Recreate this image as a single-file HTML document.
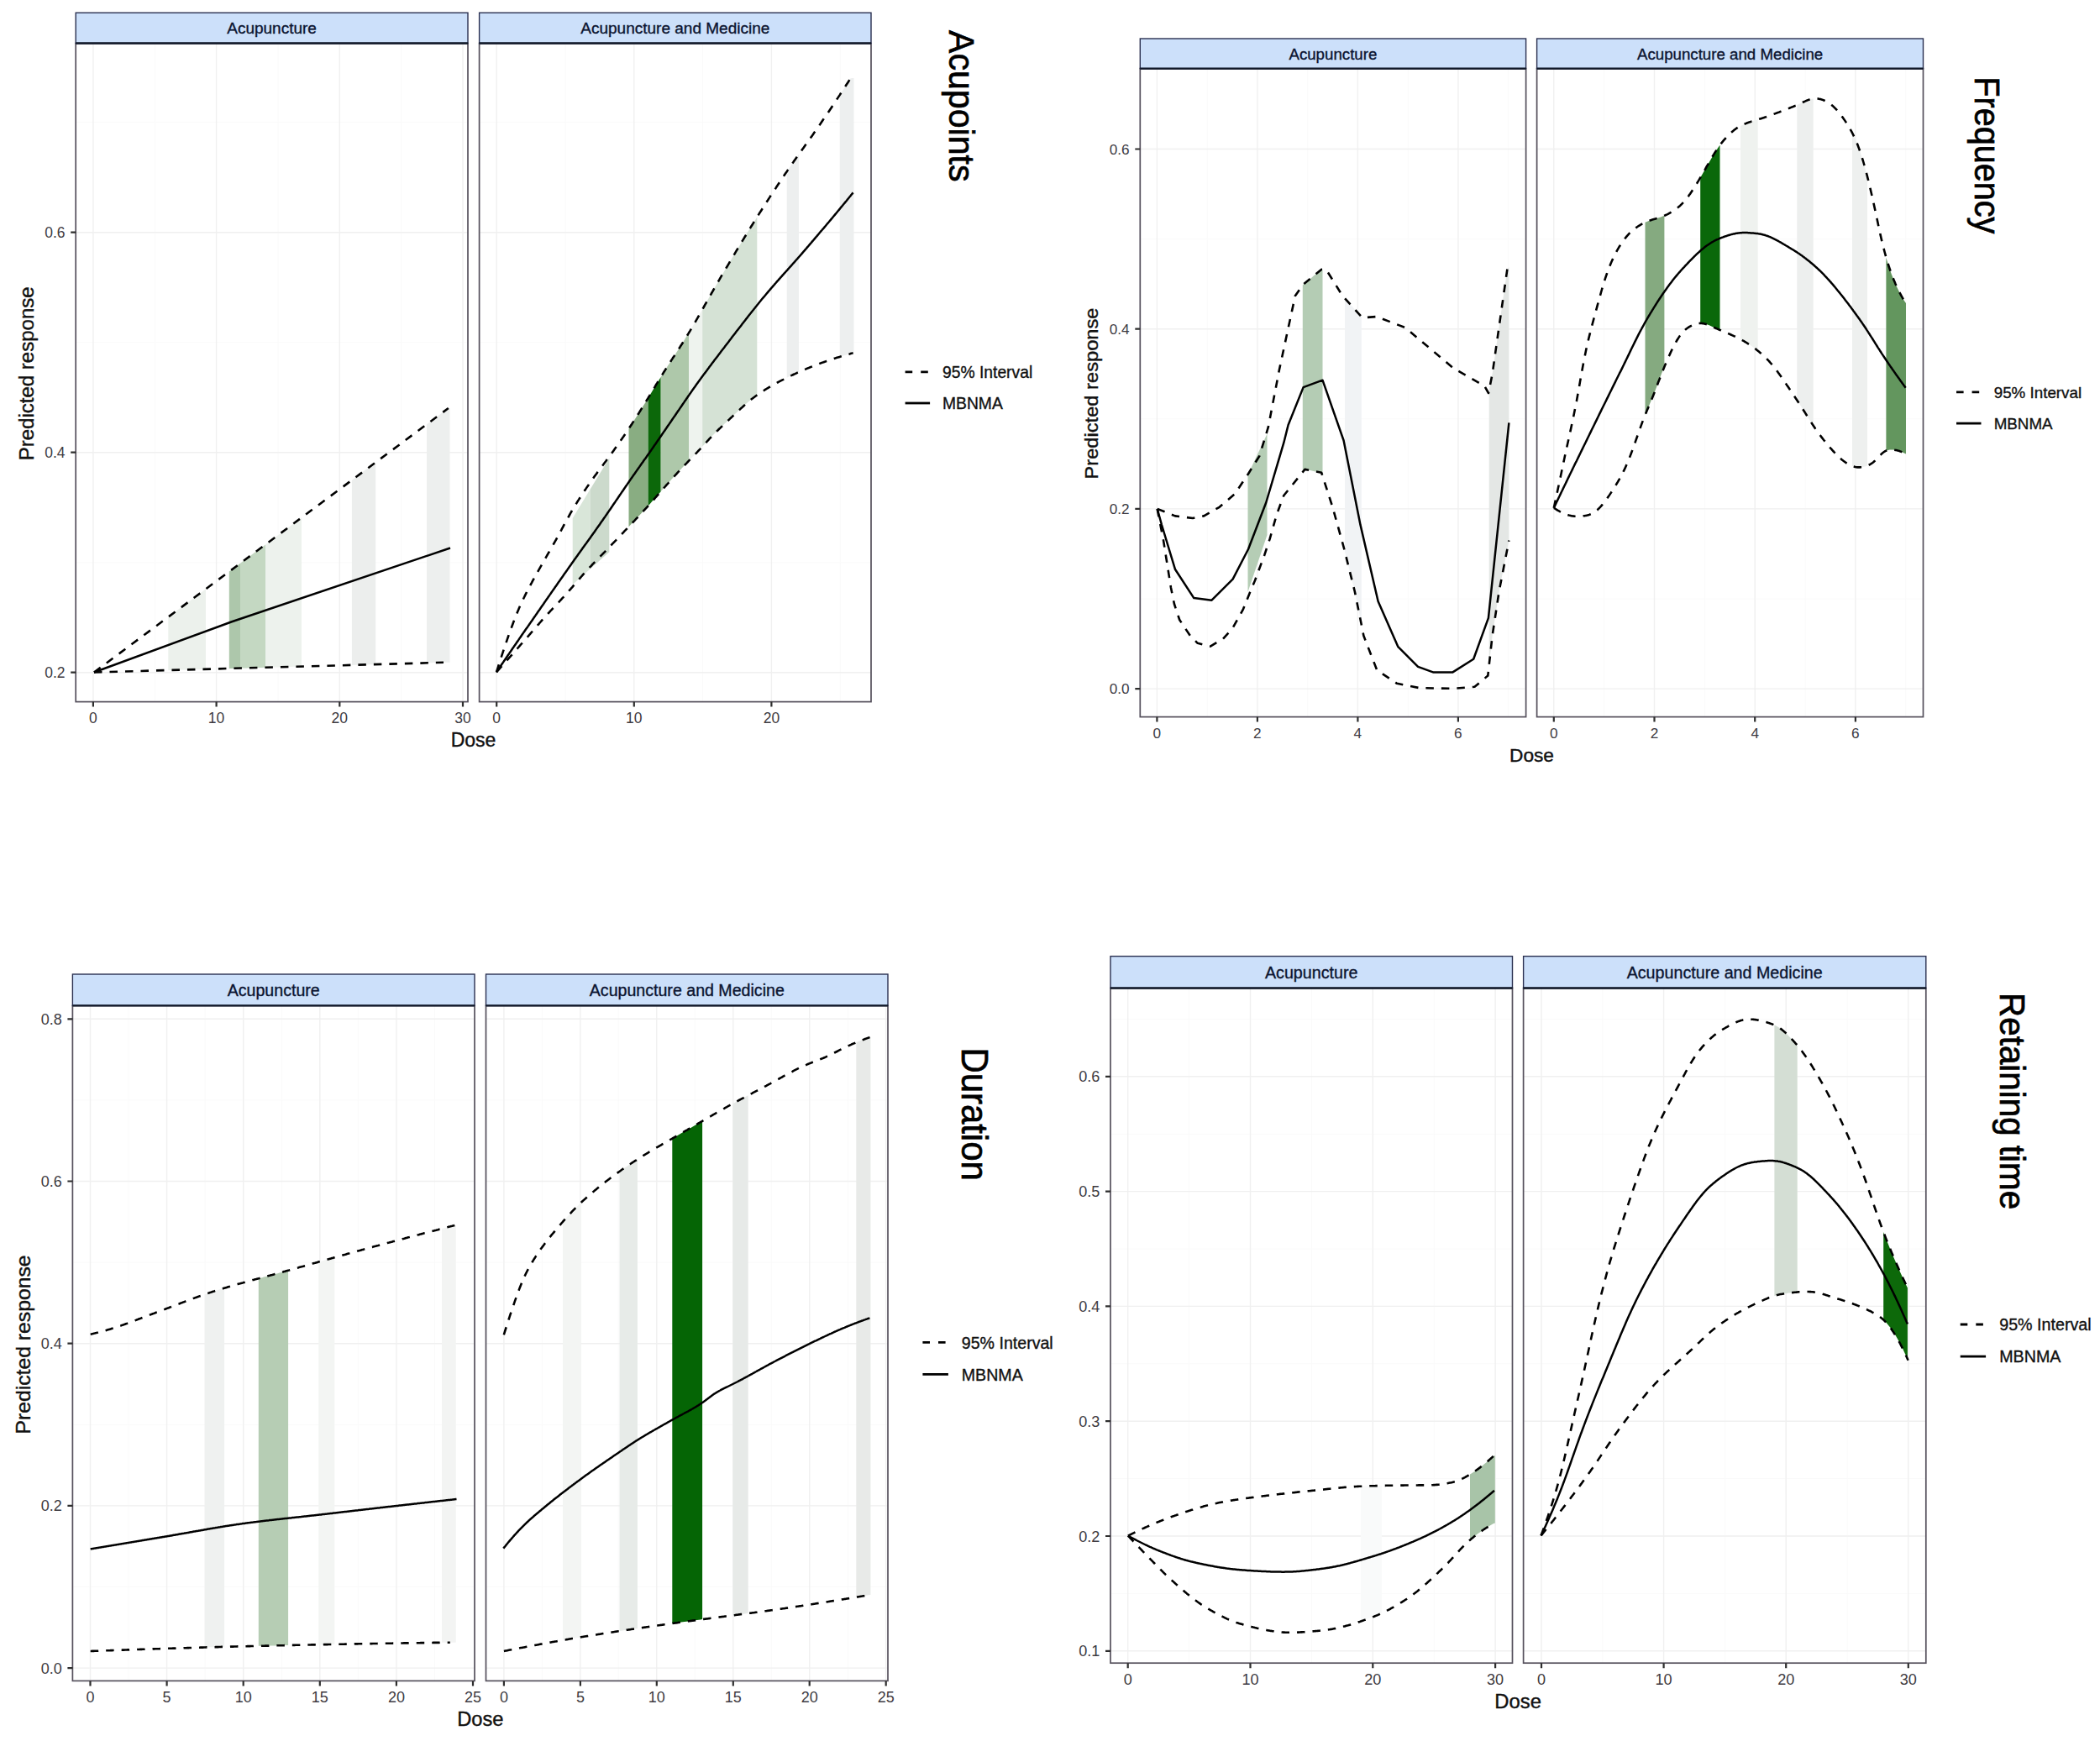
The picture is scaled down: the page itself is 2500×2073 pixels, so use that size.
<!DOCTYPE html>
<html><head><meta charset="utf-8"><title>MBNMA dose-response plots</title>
<style>html,body{margin:0;padding:0;background:#fff;}svg{display:block;}</style>
</head><body>
<svg width="2500" height="2073" viewBox="0 0 2500 2073" font-family='"Liberation Sans", Arial, Helvetica, sans-serif'>
<rect width="2500" height="2073" fill="#fff"/>
<clipPath id="tl_0"><rect x="90.2" y="51.5" width="466.8" height="784.1"/></clipPath>
<g clip-path="url(#tl_0)">
<path d="M184.2 51.5V835.6M331 51.5V835.6M477.6 51.5V835.6M90.2 669.7H557M90.2 407.7H557M90.2 145.7H557" stroke="#fafafa" stroke-width="1" fill="none"/>
<path d="M110.9 51.5V835.6M257.6 51.5V835.6M404.3 51.5V835.6M551 51.5V835.6M90.2 800.7H557M90.2 538.7H557M90.2 276.7H557" stroke="#f0f0f0" stroke-width="1.4" fill="none"/>
<polygon points="200.3,734.7 202.3,733.1 204.4,731.6 206.4,730.1 208.4,728.6 210.5,727.1 212.5,725.6 214.5,724.1 216.6,722.5 218.6,721 220.6,719.5 222.7,718 224.7,716.5 226.7,715 228.7,713.5 230.8,711.9 232.8,710.4 234.8,708.9 236.9,707.4 238.9,705.9 240.9,704.4 243,702.8 245,701.3 245,796.8 243,796.8 240.9,796.9 238.9,796.9 236.9,797 234.8,797 232.8,797.1 230.8,797.2 228.7,797.2 226.7,797.3 224.7,797.3 222.7,797.4 220.6,797.4 218.6,797.5 216.6,797.6 214.5,797.6 212.5,797.7 210.5,797.7 208.4,797.8 206.4,797.8 204.4,797.9 202.3,798 200.3,798" fill="#ecf1ec"/>
<polygon points="272.8,680.6 275,679 277.2,677.3 279.4,675.7 281.6,674 283.8,672.4 286,670.8 286,795.6 283.8,795.7 281.6,795.7 279.4,795.8 277.2,795.9 275,795.9 272.8,796" fill="#adc7ab"/>
<polygon points="286,670.8 288,669.3 290,667.8 292,666.3 294,664.8 296,663.3 298,661.8 300,660.3 302,658.8 304,657.3 306,655.9 308,654.4 310,652.9 312,651.4 314,649.9 316,648.4 316,794.8 314,794.8 312,794.9 310,794.9 308,795 306,795 304,795.1 302,795.2 300,795.2 298,795.3 296,795.3 294,795.4 292,795.4 290,795.5 288,795.5 286,795.6" fill="#c4d8c2"/>
<polygon points="316,648.4 318,646.9 320.1,645.3 322.1,643.8 324.2,642.3 326.2,640.8 328.3,639.2 330.3,637.7 332.4,636.2 334.4,634.7 336.5,633.1 338.5,631.6 340.6,630.1 342.6,628.5 344.7,627 346.7,625.5 348.8,624 350.8,622.4 352.9,620.9 354.9,619.4 357,617.9 359,616.3 359,793.6 357,793.6 354.9,793.7 352.9,793.7 350.8,793.8 348.8,793.8 346.7,793.9 344.7,794 342.6,794 340.6,794.1 338.5,794.1 336.5,794.2 334.4,794.2 332.4,794.3 330.3,794.4 328.3,794.4 326.2,794.5 324.2,794.5 322.1,794.6 320.1,794.6 318,794.7 316,794.8" fill="#edf2ed"/>
<polygon points="418.9,571.7 420.9,570.2 422.9,568.7 425,567.1 427,565.6 429,564.1 431,562.6 433,561.1 435.1,559.6 437.1,558.1 439.1,556.6 441.1,555.1 443.2,553.6 445.2,552.1 447.2,550.6 447.2,791.1 445.2,791.1 443.2,791.2 441.1,791.2 439.1,791.3 437.1,791.4 435.1,791.4 433,791.5 431,791.5 429,791.6 427,791.6 425,791.7 422.9,791.8 420.9,791.8 418.9,791.9" fill="#eceeed"/>
<polygon points="508,505.2 510.1,503.7 512.2,502.1 514.3,500.5 516.5,498.9 518.6,497.4 520.7,495.8 522.8,494.2 524.9,492.6 527,491 529.2,489.5 531.3,487.9 533.4,486.3 535.5,486 535.5,788.8 533.4,788.8 531.3,788.8 529.2,788.8 527,788.8 524.9,788.9 522.8,788.9 520.7,789 518.6,789.1 516.5,789.1 514.3,789.2 512.2,789.2 510.1,789.3 508,789.4" fill="#edefee"/>
<polyline points="112,800.5 533.8,486" fill="none" stroke="#000" stroke-width="2.6" stroke-dasharray="9.5 9" stroke-linejoin="round"/>
<polyline points="112,800.5 528,788.8" fill="none" stroke="#000" stroke-width="2.6" stroke-dasharray="9.5 9" stroke-linejoin="round"/>
<polyline points="112,800.5 275.3,740.5 536,652.5" fill="none" stroke="#000" stroke-width="2.5" stroke-linejoin="round"/>
</g>
<rect x="90.2" y="51.5" width="466.8" height="784.1" fill="none" stroke="#55505c" stroke-width="1.7"/>
<rect x="90.2" y="15.2" width="466.8" height="36.3" fill="#cce0fa" stroke="#2a3050" stroke-width="1.4"/>
<path d="M90.2 51.5H557" stroke="#101828" stroke-width="2.3"/>
<text x="323.6" y="40.2" font-size="19" text-anchor="middle" fill="#0b1430" stroke="#0b1430" stroke-width="0.35">Acupuncture</text>
<text x="110.9" y="860.9" font-size="17.5" text-anchor="middle" fill="#3e3b42">0</text>
<text x="257.6" y="860.9" font-size="17.5" text-anchor="middle" fill="#3e3b42">10</text>
<text x="404.3" y="860.9" font-size="17.5" text-anchor="middle" fill="#3e3b42">20</text>
<text x="551" y="860.9" font-size="17.5" text-anchor="middle" fill="#3e3b42">30</text>
<path d="M110.9 835.6v6M257.6 835.6v6M404.3 835.6v6M551 835.6v6" stroke="#2e2e2e" stroke-width="2.2"/>
<text x="77.6" y="807" font-size="17.5" text-anchor="end" fill="#3e3b42">0.2</text>
<text x="77.6" y="545" font-size="17.5" text-anchor="end" fill="#3e3b42">0.4</text>
<text x="77.6" y="283" font-size="17.5" text-anchor="end" fill="#3e3b42">0.6</text>
<path d="M90.2 800.7h-6M90.2 538.7h-6M90.2 276.7h-6" stroke="#2e2e2e" stroke-width="2.2"/>
<clipPath id="tl_1"><rect x="570.6" y="51.5" width="466.4" height="784.1"/></clipPath>
<g clip-path="url(#tl_1)">
<path d="M673 51.5V835.6M836.6 51.5V835.6M1000.2 51.5V835.6M570.6 669.7H1037M570.6 407.7H1037M570.6 145.7H1037" stroke="#fafafa" stroke-width="1" fill="none"/>
<path d="M591.2 51.5V835.6M754.8 51.5V835.6M918.4 51.5V835.6M570.6 800.7H1037M570.6 538.7H1037M570.6 276.7H1037" stroke="#f0f0f0" stroke-width="1.4" fill="none"/>
<polygon points="681.7,617 702.5,582.8 702.5,677.5 681.7,696" fill="#d9e6d9"/>
<polygon points="702.5,582.8 725.3,545.4 725.3,657.2 702.5,677.5" fill="#ccdacc"/>
<polygon points="748.5,510.4 750.6,507.2 752.7,504 754.8,500.8 756.9,497.5 759,494.2 761.1,490.9 763.2,487.5 765.3,484.1 767.4,480.7 769.5,477.3 771.6,473.9 771.6,602.3 769.5,604.6 767.4,607 765.3,609.3 763.2,611.5 761.1,613.8 759,616.1 756.9,618.3 754.8,620.5 752.7,622.7 750.6,625 748.5,627.2" fill="#89ad82"/>
<polygon points="771.6,473.9 773.8,470.3 775.9,466.7 778.1,463.1 780.2,459.5 782.4,456 784.5,452.4 786.7,448.9 786.7,585.2 784.5,587.7 782.4,590.1 780.2,592.6 778.1,595 775.9,597.4 773.8,599.9 771.6,602.3" fill="#0c680a"/>
<polygon points="786.7,448.9 788.8,445.5 790.9,442.2 792.9,438.9 795,435.6 797.1,432.4 799.2,429.2 801.3,426 803.4,422.7 805.4,419.5 807.5,416.3 809.6,413 811.7,409.8 813.8,406.5 815.8,403.1 817.9,399.8 820,396.4 820,548.8 817.9,550.9 815.8,553.1 813.8,555.3 811.7,557.5 809.6,559.7 807.5,561.9 805.4,564.2 803.4,566.4 801.3,568.8 799.2,571.1 797.1,573.4 795,575.8 792.9,578.1 790.9,580.5 788.8,582.8 786.7,585.2" fill="#aec8aa"/>
<polygon points="820,396.4 822,393 824,389.6 826.1,386.1 828.1,382.6 830.1,379.1 832.2,375.6 834.2,372 836.2,368.4 836.2,531.6 834.2,533.8 832.2,536 830.1,538.2 828.1,540.4 826.1,542.5 824,544.6 822,546.7 820,548.8" fill="#eef3ee"/>
<polygon points="836.2,368.4 838.2,364.8 840.3,361.2 842.3,357.6 844.3,354 846.4,350.4 848.4,346.8 850.4,343.3 852.5,339.7 854.5,336.2 856.5,332.7 858.6,329.2 860.6,325.7 862.6,322.2 864.7,318.8 866.7,315.3 868.8,311.9 870.8,308.5 872.8,305 874.9,301.6 876.9,298.2 878.9,294.8 881,291.5 883,288.1 885,284.7 887.1,281.4 889.1,278.1 891.1,274.8 893.2,271.5 895.2,268.2 897.2,264.9 899.3,261.7 901.3,258.4 901.3,470.4 899.3,471.8 897.2,473.4 895.2,475 893.2,476.6 891.1,478.3 889.1,480 887.1,481.8 885,483.6 883,485.5 881,487.4 878.9,489.3 876.9,491.2 874.9,493.1 872.8,495 870.8,496.9 868.8,498.9 866.7,500.8 864.7,502.7 862.6,504.6 860.6,506.5 858.6,508.4 856.5,510.4 854.5,512.3 852.5,514.3 850.4,516.4 848.4,518.5 846.4,520.6 844.3,522.7 842.3,524.9 840.3,527.2 838.2,529.4 836.2,531.6" fill="#d5e2d5"/>
<polygon points="936.7,204.2 938.7,201.2 940.8,198.2 942.8,195.3 944.9,192.4 946.9,189.5 949,186.6 951,183.7 951,443 949,444 946.9,444.9 944.9,445.8 942.8,446.8 940.8,447.8 938.7,448.7 936.7,449.7" fill="#edefef"/>
<polygon points="999.8,112.9 1001.9,109.7 1004,106.5 1006.1,103.3 1008.1,100 1010.2,96.8 1012.3,93.6 1014.4,93 1016.5,93 1016.5,420.3 1014.4,420.6 1012.3,421.2 1010.2,421.8 1008.1,422.4 1006.1,422.9 1004,423.5 1001.9,424.2 999.8,424.8" fill="#edefef"/>
<polyline points="591,800.3 592,797.2 593,794.1 594,790.9 595,787.8 596,784.8 597,781.7 598,778.7 599,775.6 600,772.6 601,769.7 602,766.7 603,763.8 604,760.9 605,758 606,755.2 607,752.4 608,749.6 609,746.9 610,744.2 611,741.5 612,738.9 613,736.3 614,733.8 615,731.3 616,728.8 617,726.4 618,724.1 619,721.8 620,719.5 621,717.3 622.1,715.2 623.1,713 624.1,711 625.1,708.9 626.1,706.9 627.1,704.9 628.1,703 629.1,701.1 630.1,699.2 631.1,697.3 632.1,695.4 633.1,693.6 634.1,691.7 635.1,689.9 636.1,688.1 637.1,686.3 638.1,684.5 639.1,682.7 640.1,680.9 641.1,679.2 642.1,677.4 643.1,675.6 644.1,673.9 645.1,672.1 646.1,670.4 647.1,668.6 648.1,666.9 649.1,665.1 650.1,663.4 651.1,661.7 652.1,659.9 653.1,658.2 654.1,656.5 655.1,654.7 656.1,653 657.1,651.2 658.1,649.4 659.1,647.7 660.1,645.9 661.1,644.1 662.1,642.3 663.1,640.5 664.1,638.7 665.1,636.8 666.1,635 667.1,633.1 668.1,631.3 669.1,629.4 670.1,627.6 671.1,625.7 672.1,623.9 673.1,622.1 674.1,620.2 675.1,618.4 676.1,616.6 677.1,614.8 678.1,613 679.1,611.2 680.1,609.5 681.1,607.7 682.2,606 683.2,604.3 684.2,602.7 685.2,601 686.2,599.4 687.2,597.7 688.2,596.1 689.2,594.6 690.2,593 691.2,591.4 692.2,589.9 693.2,588.4 694.2,586.8 695.2,585.3 696.2,583.8 697.2,582.4 698.2,580.9 699.2,579.4 700.2,578 701.2,576.5 702.2,575.1 703.2,573.7 704.2,572.2 705.2,570.8 706.2,569.4 707.2,568 708.2,566.6 709.2,565.3 710.2,563.9 711.2,562.5 712.2,561.2 713.2,559.8 714.2,558.5 715.2,557.2 716.2,555.8 717.2,554.5 718.2,553.2 719.2,551.8 720.2,550.5 721.2,549.2 722.2,547.8 723.2,546.5 724.2,545.1 725.2,543.8 726.2,542.4 727.2,541.1 728.2,539.7 729.2,538.3 730.2,536.9 731.2,535.5 732.2,534.1 733.2,532.7 734.2,531.3 735.2,529.9 736.2,528.4 737.2,527 738.2,525.6 739.2,524.1 740.2,522.7 741.2,521.2 742.3,519.7 743.3,518.2 744.3,516.8 745.3,515.3 746.3,513.8 747.3,512.3 748.3,510.8 749.3,509.2 750.3,507.7 751.3,506.2 752.3,504.7 753.3,503.1 754.3,501.6 755.3,500 756.3,498.5 757.3,496.9 758.3,495.3 759.3,493.7 760.3,492.2 761.3,490.6 762.3,489 763.3,487.4 764.3,485.8 765.3,484.2 766.3,482.5 767.3,480.9 768.3,479.3 769.3,477.7 770.3,476 771.3,474.4 772.3,472.7 773.3,471.1 774.3,469.4 775.3,467.7 776.3,466.1 777.3,464.4 778.3,462.7 779.3,461.1 780.3,459.4 781.3,457.7 782.3,456.1 783.3,454.4 784.3,452.8 785.3,451.1 786.3,449.5 787.3,447.9 788.3,446.3 789.3,444.6 790.3,443 791.3,441.5 792.3,439.9 793.3,438.3 794.3,436.7 795.3,435.2 796.3,433.6 797.3,432 798.3,430.5 799.3,428.9 800.3,427.4 801.3,425.8 802.4,424.3 803.4,422.7 804.4,421.2 805.4,419.6 806.4,418.1 807.4,416.5 808.4,415 809.4,413.4 810.4,411.8 811.4,410.3 812.4,408.7 813.4,407.1 814.4,405.5 815.4,403.9 816.4,402.3 817.4,400.7 818.4,399 819.4,397.4 820.4,395.7 821.4,394.1 822.4,392.4 823.4,390.7 824.4,389 825.4,387.3 826.4,385.6 827.4,383.9 828.4,382.1 829.4,380.4 830.4,378.7 831.4,376.9 832.4,375.1 833.4,373.4 834.4,371.6 835.4,369.8 836.4,368.1 837.4,366.3 838.4,364.5 839.4,362.7 840.4,361 841.4,359.2 842.4,357.4 843.4,355.6 844.4,353.8 845.4,352.1 846.4,350.3 847.4,348.5 848.4,346.8 849.4,345 850.4,343.3 851.4,341.5 852.4,339.8 853.4,338 854.4,336.3 855.4,334.6 856.4,332.9 857.4,331.1 858.4,329.4 859.4,327.7 860.4,326 861.4,324.3 862.5,322.6 863.5,320.9 864.5,319.2 865.5,317.5 866.5,315.8 867.5,314.1 868.5,312.4 869.5,310.7 870.5,309 871.5,307.3 872.5,305.6 873.5,304 874.5,302.3 875.5,300.6 876.5,298.9 877.5,297.3 878.5,295.6 879.5,293.9 880.5,292.3 881.5,290.6 882.5,288.9 883.5,287.3 884.5,285.6 885.5,284 886.5,282.3 887.5,280.7 888.5,279.1 889.5,277.4 890.5,275.8 891.5,274.2 892.5,272.5 893.5,270.9 894.5,269.3 895.5,267.7 896.5,266.1 897.5,264.5 898.5,262.9 899.5,261.3 900.5,259.7 901.5,258.1 902.5,256.5 903.5,254.9 904.5,253.3 905.5,251.8 906.5,250.2 907.5,248.6 908.5,247 909.5,245.5 910.5,243.9 911.5,242.4 912.5,240.8 913.5,239.2 914.5,237.7 915.5,236.1 916.5,234.6 917.5,233 918.5,231.5 919.5,230 920.5,228.4 921.5,226.9 922.6,225.4 923.6,223.9 924.6,222.3 925.6,220.8 926.6,219.3 927.6,217.8 928.6,216.3 929.6,214.8 930.6,213.3 931.6,211.8 932.6,210.3 933.6,208.8 934.6,207.3 935.6,205.8 936.6,204.4 937.6,202.9 938.6,201.4 939.6,200 940.6,198.5 941.6,197.1 942.6,195.6 943.6,194.2 944.6,192.8 945.6,191.3 946.6,189.9 947.6,188.5 948.6,187.1 949.6,185.7 950.6,184.3 951.6,182.9 952.6,181.5 953.6,180.1 954.6,178.7 955.6,177.3 956.6,175.9 957.6,174.5 958.6,173.1 959.6,171.7 960.6,170.3 961.6,168.9 962.6,167.5 963.6,166.1 964.6,164.7 965.6,163.3 966.6,161.9 967.6,160.5 968.6,159 969.6,157.6 970.6,156.2 971.6,154.7 972.6,153.3 973.6,151.8 974.6,150.4 975.6,148.9 976.6,147.5 977.6,146 978.6,144.5 979.6,143 980.6,141.6 981.6,140.1 982.7,138.6 983.7,137.1 984.7,135.7 985.7,134.2 986.7,132.7 987.7,131.2 988.7,129.7 989.7,128.2 990.7,126.7 991.7,125.2 992.7,123.7 993.7,122.2 994.7,120.7 995.7,119.1 996.7,117.6 997.7,116.1 998.7,114.6 999.7,113.1 1000.7,111.5 1001.7,110 1002.7,108.5 1003.7,106.9 1004.7,105.4 1005.7,103.8 1006.7,102.3 1007.7,100.7 1008.7,99.2 1009.7,97.7 1010.7,96.1 1011.7,94.6 1012.7,93" fill="none" stroke="#000" stroke-width="2.6" stroke-dasharray="9.5 9" stroke-linejoin="round"/>
<polyline points="591,800.3 592,799.2 593,798.1 594,796.9 595,795.8 596,794.7 597,793.6 598,792.5 599,791.3 600,790.2 601,789.1 602,788 603,786.8 604,785.7 605,784.6 606,783.4 607,782.3 608,781.2 609,780.1 610,778.9 611,777.8 612,776.7 613,775.5 614,774.4 615,773.2 616,772.1 617,771 618,769.8 619,768.7 620,767.5 621,766.4 622,765.2 623,764.1 624,762.9 625,761.8 626,760.6 627.1,759.5 628.1,758.3 629.1,757.2 630.1,756 631.1,754.8 632.1,753.7 633.1,752.5 634.1,751.4 635.1,750.2 636.1,749 637.1,747.9 638.1,746.7 639.1,745.6 640.1,744.4 641.1,743.3 642.1,742.1 643.1,741 644.1,739.9 645.1,738.7 646.1,737.6 647.1,736.5 648.1,735.4 649.1,734.3 650.1,733.2 651.1,732.1 652.1,731 653.1,729.9 654.1,728.8 655.1,727.7 656.1,726.7 657.1,725.6 658.1,724.5 659.1,723.5 660.1,722.4 661.1,721.3 662.1,720.3 663.1,719.2 664.1,718.1 665.1,717.1 666.1,716 667.1,714.9 668.1,713.8 669.1,712.7 670.1,711.7 671.1,710.6 672.1,709.5 673.1,708.4 674.1,707.2 675.1,706.1 676.1,705 677.1,703.9 678.1,702.7 679.1,701.6 680.1,700.4 681.1,699.3 682.1,698.1 683.1,696.9 684.1,695.8 685.1,694.6 686.1,693.5 687.1,692.3 688.1,691.1 689.1,690 690.1,688.8 691.1,687.7 692.1,686.5 693.1,685.4 694.1,684.2 695.1,683.1 696.1,682 697.1,680.9 698.2,679.8 699.2,678.7 700.2,677.6 701.2,676.5 702.2,675.4 703.2,674.4 704.2,673.3 705.2,672.2 706.2,671.2 707.2,670.1 708.2,669.1 709.2,668.1 710.2,667 711.2,666 712.2,665 713.2,664 714.2,662.9 715.2,661.9 716.2,660.9 717.2,659.9 718.2,658.8 719.2,657.8 720.2,656.8 721.2,655.7 722.2,654.7 723.2,653.7 724.2,652.6 725.2,651.6 726.2,650.6 727.2,649.5 728.2,648.5 729.2,647.4 730.2,646.4 731.2,645.3 732.2,644.3 733.2,643.3 734.2,642.2 735.2,641.2 736.2,640.1 737.2,639.1 738.2,638 739.2,636.9 740.2,635.9 741.2,634.8 742.2,633.8 743.2,632.7 744.2,631.7 745.2,630.6 746.2,629.6 747.2,628.5 748.2,627.5 749.2,626.4 750.2,625.4 751.2,624.3 752.2,623.2 753.2,622.2 754.2,621.1 755.2,620.1 756.2,619 757.2,617.9 758.2,616.9 759.2,615.8 760.2,614.7 761.2,613.7 762.2,612.6 763.2,611.5 764.2,610.4 765.2,609.3 766.2,608.2 767.2,607.1 768.3,606 769.3,604.9 770.3,603.8 771.3,602.7 772.3,601.6 773.3,600.4 774.3,599.3 775.3,598.2 776.3,597.1 777.3,595.9 778.3,594.8 779.3,593.6 780.3,592.5 781.3,591.4 782.3,590.2 783.3,589.1 784.3,588 785.3,586.8 786.3,585.7 787.3,584.5 788.3,583.4 789.3,582.3 790.3,581.1 791.3,580 792.3,578.9 793.3,577.7 794.3,576.6 795.3,575.5 796.3,574.3 797.3,573.2 798.3,572.1 799.3,571 800.3,569.8 801.3,568.7 802.3,567.6 803.3,566.5 804.3,565.4 805.3,564.3 806.3,563.2 807.3,562.1 808.3,561 809.3,560 810.3,558.9 811.3,557.8 812.3,556.8 813.3,555.7 814.3,554.7 815.3,553.6 816.3,552.6 817.3,551.6 818.3,550.5 819.3,549.5 820.3,548.4 821.3,547.4 822.3,546.4 823.3,545.3 824.3,544.3 825.3,543.3 826.3,542.2 827.3,541.2 828.3,540.1 829.3,539.1 830.3,538 831.3,536.9 832.3,535.8 833.3,534.8 834.3,533.7 835.3,532.6 836.3,531.5 837.3,530.4 838.3,529.3 839.4,528.2 840.4,527.1 841.4,526 842.4,524.9 843.4,523.8 844.4,522.7 845.4,521.7 846.4,520.6 847.4,519.5 848.4,518.5 849.4,517.5 850.4,516.4 851.4,515.4 852.4,514.4 853.4,513.4 854.4,512.5 855.4,511.5 856.4,510.5 857.4,509.6 858.4,508.6 859.4,507.7 860.4,506.7 861.4,505.8 862.4,504.8 863.4,503.9 864.4,503 865.4,502 866.4,501.1 867.4,500.1 868.4,499.2 869.4,498.2 870.4,497.3 871.4,496.4 872.4,495.4 873.4,494.5 874.4,493.5 875.4,492.6 876.4,491.6 877.4,490.7 878.4,489.7 879.4,488.8 880.4,487.9 881.4,486.9 882.4,486 883.4,485.1 884.4,484.2 885.4,483.3 886.4,482.4 887.4,481.5 888.4,480.6 889.4,479.7 890.4,478.9 891.4,478 892.4,477.2 893.4,476.4 894.4,475.6 895.4,474.8 896.4,474 897.4,473.2 898.4,472.5 899.4,471.7 900.4,471 901.4,470.3 902.4,469.6 903.4,468.9 904.4,468.2 905.4,467.5 906.4,466.8 907.4,466.2 908.4,465.5 909.5,464.9 910.5,464.2 911.5,463.6 912.5,463 913.5,462.4 914.5,461.8 915.5,461.2 916.5,460.6 917.5,460 918.5,459.4 919.5,458.9 920.5,458.3 921.5,457.7 922.5,457.2 923.5,456.6 924.5,456.1 925.5,455.5 926.5,455 927.5,454.4 928.5,453.9 929.5,453.4 930.5,452.9 931.5,452.4 932.5,451.9 933.5,451.3 934.5,450.8 935.5,450.3 936.5,449.8 937.5,449.4 938.5,448.9 939.5,448.4 940.5,447.9 941.5,447.4 942.5,446.9 943.5,446.5 944.5,446 945.5,445.5 946.5,445.1 947.5,444.6 948.5,444.2 949.5,443.7 950.5,443.3 951.5,442.8 952.5,442.4 953.5,441.9 954.5,441.5 955.5,441.1 956.5,440.6 957.5,440.2 958.5,439.8 959.5,439.4 960.5,438.9 961.5,438.5 962.5,438.1 963.5,437.7 964.5,437.3 965.5,436.9 966.5,436.5 967.5,436.1 968.5,435.7 969.5,435.3 970.5,434.9 971.5,434.5 972.5,434.1 973.5,433.8 974.5,433.4 975.5,433 976.5,432.6 977.5,432.3 978.5,431.9 979.5,431.5 980.6,431.2 981.6,430.8 982.6,430.5 983.6,430.1 984.6,429.8 985.6,429.4 986.6,429.1 987.6,428.7 988.6,428.4 989.6,428.1 990.6,427.7 991.6,427.4 992.6,427.1 993.6,426.7 994.6,426.4 995.6,426.1 996.6,425.8 997.6,425.5 998.6,425.2 999.6,424.9 1000.6,424.6 1001.6,424.3 1002.6,424 1003.6,423.7 1004.6,423.4 1005.6,423.1 1006.6,422.8 1007.6,422.5 1008.6,422.2 1009.6,421.9 1010.6,421.7 1011.6,421.4 1012.6,421.1 1013.6,420.8 1014.6,420.6 1015.6,420.3" fill="none" stroke="#000" stroke-width="2.6" stroke-dasharray="9.5 9" stroke-linejoin="round"/>
<polyline points="591,800.3 592,798.8 593,797.4 594,795.9 595,794.4 596,793 597,791.5 598,790.1 599,788.6 600,787.1 601,785.7 602,784.2 603,782.7 604,781.3 605,779.8 606,778.4 607,776.9 608,775.5 609,774 610,772.5 611,771.1 612,769.6 613,768.2 614,766.7 615,765.3 616,763.8 617,762.4 618,760.9 619,759.4 620,758 621,756.5 622,755.1 623,753.6 624,752.2 625,750.7 626,749.3 627.1,747.8 628.1,746.4 629.1,744.9 630.1,743.5 631.1,742.1 632.1,740.6 633.1,739.2 634.1,737.7 635.1,736.3 636.1,734.8 637.1,733.4 638.1,731.9 639.1,730.5 640.1,729 641.1,727.6 642.1,726.2 643.1,724.7 644.1,723.3 645.1,721.8 646.1,720.4 647.1,719 648.1,717.5 649.1,716.1 650.1,714.6 651.1,713.2 652.1,711.8 653.1,710.3 654.1,708.9 655.1,707.4 656.1,706 657.1,704.6 658.1,703.1 659.1,701.7 660.1,700.3 661.1,698.8 662.1,697.4 663.1,696 664.1,694.5 665.1,693.1 666.1,691.7 667.1,690.3 668.1,688.8 669.1,687.4 670.1,686 671.1,684.5 672.1,683.1 673.1,681.7 674.1,680.3 675.1,678.9 676.1,677.4 677.1,676 678.1,674.6 679.1,673.2 680.1,671.8 681.1,670.3 682.1,668.9 683.1,667.5 684.1,666.1 685.1,664.7 686.1,663.3 687.1,661.9 688.1,660.5 689.1,659.1 690.1,657.7 691.1,656.3 692.1,654.9 693.1,653.5 694.1,652.1 695.1,650.7 696.1,649.3 697.1,647.9 698.2,646.5 699.2,645.1 700.2,643.7 701.2,642.3 702.2,640.9 703.2,639.5 704.2,638.1 705.2,636.7 706.2,635.3 707.2,633.9 708.2,632.5 709.2,631.1 710.2,629.6 711.2,628.2 712.2,626.8 713.2,625.4 714.2,624 715.2,622.5 716.2,621.1 717.2,619.7 718.2,618.2 719.2,616.8 720.2,615.4 721.2,613.9 722.2,612.5 723.2,611 724.2,609.6 725.2,608.1 726.2,606.7 727.2,605.2 728.2,603.7 729.2,602.3 730.2,600.8 731.2,599.3 732.2,597.9 733.2,596.4 734.2,594.9 735.2,593.5 736.2,592 737.2,590.5 738.2,589.1 739.2,587.6 740.2,586.1 741.2,584.7 742.2,583.2 743.2,581.7 744.2,580.3 745.2,578.8 746.2,577.4 747.2,575.9 748.2,574.5 749.2,573 750.2,571.6 751.2,570.1 752.2,568.7 753.2,567.3 754.2,565.8 755.2,564.4 756.2,563 757.2,561.6 758.2,560.1 759.2,558.7 760.2,557.3 761.2,555.9 762.2,554.4 763.2,553 764.2,551.6 765.2,550.2 766.2,548.7 767.2,547.3 768.3,545.9 769.3,544.5 770.3,543 771.3,541.6 772.3,540.2 773.3,538.7 774.3,537.3 775.3,535.9 776.3,534.4 777.3,533 778.3,531.5 779.3,530.1 780.3,528.7 781.3,527.2 782.3,525.8 783.3,524.3 784.3,522.9 785.3,521.4 786.3,520 787.3,518.5 788.3,517 789.3,515.6 790.3,514.1 791.3,512.7 792.3,511.2 793.3,509.8 794.3,508.3 795.3,506.8 796.3,505.4 797.3,503.9 798.3,502.5 799.3,501 800.3,499.5 801.3,498.1 802.3,496.6 803.3,495.2 804.3,493.7 805.3,492.2 806.3,490.8 807.3,489.3 808.3,487.9 809.3,486.4 810.3,484.9 811.3,483.5 812.3,482 813.3,480.6 814.3,479.1 815.3,477.6 816.3,476.2 817.3,474.7 818.3,473.3 819.3,471.8 820.3,470.4 821.3,468.9 822.3,467.5 823.3,466.1 824.3,464.6 825.3,463.2 826.3,461.8 827.3,460.4 828.3,459 829.3,457.6 830.3,456.2 831.3,454.8 832.3,453.4 833.3,452 834.3,450.7 835.3,449.3 836.3,447.9 837.3,446.6 838.3,445.2 839.4,443.9 840.4,442.5 841.4,441.2 842.4,439.8 843.4,438.5 844.4,437.1 845.4,435.8 846.4,434.5 847.4,433.1 848.4,431.8 849.4,430.5 850.4,429.1 851.4,427.8 852.4,426.5 853.4,425.2 854.4,423.9 855.4,422.6 856.4,421.2 857.4,419.9 858.4,418.6 859.4,417.3 860.4,416 861.4,414.7 862.4,413.4 863.4,412.1 864.4,410.8 865.4,409.5 866.4,408.2 867.4,406.9 868.4,405.6 869.4,404.3 870.4,403 871.4,401.6 872.4,400.3 873.4,399 874.4,397.7 875.4,396.4 876.4,395.1 877.4,393.8 878.4,392.6 879.4,391.3 880.4,390 881.4,388.7 882.4,387.4 883.4,386.1 884.4,384.8 885.4,383.5 886.4,382.2 887.4,380.9 888.4,379.6 889.4,378.4 890.4,377.1 891.4,375.8 892.4,374.5 893.4,373.3 894.4,372 895.4,370.7 896.4,369.5 897.4,368.2 898.4,367 899.4,365.7 900.4,364.5 901.4,363.2 902.4,362 903.4,360.7 904.4,359.5 905.4,358.3 906.4,357 907.4,355.8 908.4,354.6 909.5,353.4 910.5,352.2 911.5,351 912.5,349.8 913.5,348.6 914.5,347.4 915.5,346.2 916.5,345.1 917.5,343.9 918.5,342.7 919.5,341.6 920.5,340.4 921.5,339.3 922.5,338.1 923.5,337 924.5,335.8 925.5,334.7 926.5,333.6 927.5,332.4 928.5,331.3 929.5,330.2 930.5,329.1 931.5,327.9 932.5,326.8 933.5,325.7 934.5,324.6 935.5,323.5 936.5,322.4 937.5,321.3 938.5,320.1 939.5,319 940.5,317.9 941.5,316.8 942.5,315.7 943.5,314.5 944.5,313.4 945.5,312.3 946.5,311.2 947.5,310 948.5,308.9 949.5,307.8 950.5,306.6 951.5,305.5 952.5,304.4 953.5,303.2 954.5,302.1 955.5,300.9 956.5,299.7 957.5,298.6 958.5,297.4 959.5,296.3 960.5,295.1 961.5,293.9 962.5,292.8 963.5,291.6 964.5,290.4 965.5,289.3 966.5,288.1 967.5,286.9 968.5,285.8 969.5,284.6 970.5,283.4 971.5,282.2 972.5,281.1 973.5,279.9 974.5,278.7 975.5,277.5 976.5,276.3 977.5,275.1 978.5,274 979.5,272.8 980.6,271.6 981.6,270.4 982.6,269.2 983.6,268 984.6,266.8 985.6,265.6 986.6,264.5 987.6,263.3 988.6,262.1 989.6,260.9 990.6,259.7 991.6,258.5 992.6,257.3 993.6,256.1 994.6,254.9 995.6,253.7 996.6,252.5 997.6,251.3 998.6,250.1 999.6,248.9 1000.6,247.6 1001.6,246.4 1002.6,245.2 1003.6,244 1004.6,242.8 1005.6,241.6 1006.6,240.4 1007.6,239.2 1008.6,237.9 1009.6,236.7 1010.6,235.5 1011.6,234.3 1012.6,233.1 1013.6,231.8 1014.6,230.6 1015.6,229.4" fill="none" stroke="#000" stroke-width="2.5" stroke-linejoin="round"/>
</g>
<rect x="570.6" y="51.5" width="466.4" height="784.1" fill="none" stroke="#55505c" stroke-width="1.7"/>
<rect x="570.6" y="15.2" width="466.4" height="36.3" fill="#cce0fa" stroke="#2a3050" stroke-width="1.4"/>
<path d="M570.6 51.5H1037" stroke="#101828" stroke-width="2.3"/>
<text x="803.8" y="40.2" font-size="19" text-anchor="middle" fill="#0b1430" stroke="#0b1430" stroke-width="0.35">Acupuncture and Medicine</text>
<text x="591.2" y="860.9" font-size="17.5" text-anchor="middle" fill="#3e3b42">0</text>
<text x="754.8" y="860.9" font-size="17.5" text-anchor="middle" fill="#3e3b42">10</text>
<text x="918.4" y="860.9" font-size="17.5" text-anchor="middle" fill="#3e3b42">20</text>
<path d="M591.2 835.6v6M754.8 835.6v6M918.4 835.6v6" stroke="#2e2e2e" stroke-width="2.2"/>
<text x="563.5" y="888.9" font-size="23" text-anchor="middle" fill="#111" stroke="#111" stroke-width="0.4">Dose</text>
<text x="40.3" y="444.8" font-size="23" text-anchor="middle" fill="#111" transform="rotate(-90 40.3 444.8)" textLength="207" lengthAdjust="spacingAndGlyphs" stroke="#111" stroke-width="0.4">Predicted response</text>
<text x="1130.2" y="36" font-size="42.6" text-anchor="start" fill="#000" transform="rotate(90 1130.2 36)" textLength="180.5" lengthAdjust="spacingAndGlyphs" stroke="#000" stroke-width="0.7">Acupoints</text>
<path d="M1077.6 442.9H1104.8" stroke="#000" stroke-width="2.8" stroke-dasharray="8.6 10"/>
<path d="M1077.6 480H1107.1" stroke="#000" stroke-width="2.8"/>
<text x="1122" y="450.2" font-size="19.3" text-anchor="start" fill="#111" stroke="#111" stroke-width="0.35">95% Interval</text>
<text x="1122" y="487.3" font-size="19.3" text-anchor="start" fill="#111" stroke="#111" stroke-width="0.35">MBNMA</text>
<clipPath id="tr_0"><rect x="1357.3" y="81.6" width="459.3" height="772"/></clipPath>
<g clip-path="url(#tr_0)">
<path d="M1437.2 81.6V853.6M1556.7 81.6V853.6M1676.2 81.6V853.6M1795.7 81.6V853.6M1357.3 713H1816.6M1357.3 498.8H1816.6M1357.3 284.6H1816.6" stroke="#fafafa" stroke-width="1" fill="none"/>
<path d="M1377.4 81.6V853.6M1496.9 81.6V853.6M1616.4 81.6V853.6M1735.9 81.6V853.6M1357.3 820.1H1816.6M1357.3 605.9H1816.6M1357.3 391.7H1816.6M1357.3 177.5H1816.6" stroke="#f0f0f0" stroke-width="1.4" fill="none"/>
<polygon points="1485.5,565.5 1508.5,516.6 1508.5,637 1485.5,705" fill="#b5cdb5"/>
<polygon points="1550.8,339.5 1553,337.6 1555.1,335.8 1557.3,334 1559.4,332.2 1561.6,330.4 1563.7,328.6 1565.9,326.8 1568,325.1 1570.2,323.3 1572.3,321.5 1574.5,320.7 1574.5,566.8 1572.3,562.6 1570.2,562.2 1568,561.8 1565.9,561.4 1563.7,560.9 1561.6,560.5 1559.4,560.1 1557.3,559.7 1555.1,559.2 1553,559.5 1550.8,562.1" fill="#b4ccb4"/>
<polygon points="1601,355.3 1603.2,357.7 1605.4,360.2 1607.6,362.6 1609.8,365 1612,367.5 1614.2,369.9 1616.4,372.3 1618.6,374.8 1620.8,377.2 1620.8,744 1618.6,733.1 1616.4,722.1 1614.2,711.2 1612,701 1609.8,692.2 1607.6,683.4 1605.4,674.5 1603.2,665.7 1601,656.9" fill="#f1f3f5"/>
<polygon points="1772.7,464.5 1774.9,453.9 1777,442.4 1779.2,427.3 1781.3,412.1 1783.5,397 1785.6,381.9 1787.8,366.7 1789.9,351.6 1792.1,336.4 1794.2,321.3 1796.4,318.1 1796.4,643.4 1794.2,654.5 1792.1,665.6 1789.9,676.7 1787.8,687.8 1785.6,698.9 1783.5,711.6 1781.3,725.9 1779.2,740.1 1777,754.3 1774.9,772.6 1772.7,792" fill="#e4e7e5"/>
<polyline points="1377.7,605.9 1385.7,609 1398.9,614.4 1420,617 1433.2,614.4 1451.7,603.8 1470.2,587.9 1486,564.2 1499.3,543 1509.8,508.7 1523,440 1541.9,352.2 1551.1,339.1 1573.3,320.7 1578.6,320.7 1598.2,352.2 1621.8,378.3 1638.8,377 1672.9,390.1 1730.5,438.6 1767.2,459.5 1772,468 1776.6,445.3 1794.7,318.1" fill="none" stroke="#000" stroke-width="2.6" stroke-dasharray="9.5 9" stroke-linejoin="round"/>
<polyline points="1377.7,605.9 1381.5,625.5 1384.6,640.7 1389,668.5 1394,700 1397.9,719 1404.2,738 1416.9,757 1425.7,765.8 1440.9,769.6 1456,760.7 1467.4,748 1480,725.3 1487.6,706.4 1494,691.2 1505.3,660.9 1511.6,641.9 1519.8,612.8 1528.3,590 1553.4,558.9 1573.2,562.8 1586.4,603.8 1599.6,651.3 1612.8,704.2 1623.4,757 1639.3,798 1663,813.8 1689.5,819.1 1729.1,819.9 1755.5,817.8 1771.3,804.5 1776.6,757 1784.6,704.2 1796.4,643.4" fill="none" stroke="#000" stroke-width="2.6" stroke-dasharray="9.5 9" stroke-linejoin="round"/>
<polyline points="1377.7,605.9 1383,625 1398.9,677.7 1421.3,712.1 1442.5,714.7 1467.6,689.6 1486,654 1507.2,598.5 1528.3,527.2 1533.6,506 1551.6,461.1 1574.5,452.7 1599.6,524.5 1619.5,624.9 1640.6,716 1664.4,770.2 1688.1,793.9 1706.6,800.6 1729.1,800.6 1754.2,784.7 1771.9,735.9 1796.4,503.4" fill="none" stroke="#000" stroke-width="2.5" stroke-linejoin="round"/>
</g>
<rect x="1357.3" y="81.6" width="459.3" height="772" fill="none" stroke="#55505c" stroke-width="1.7"/>
<rect x="1357.3" y="46" width="459.3" height="35.6" fill="#cce0fa" stroke="#2a3050" stroke-width="1.4"/>
<path d="M1357.3 81.6H1816.6" stroke="#101828" stroke-width="2.3"/>
<text x="1586.9" y="70.5" font-size="18.7" text-anchor="middle" fill="#0b1430" stroke="#0b1430" stroke-width="0.35">Acupuncture</text>
<text x="1377.4" y="878.9" font-size="17.2" text-anchor="middle" fill="#3e3b42">0</text>
<text x="1496.9" y="878.9" font-size="17.2" text-anchor="middle" fill="#3e3b42">2</text>
<text x="1616.4" y="878.9" font-size="17.2" text-anchor="middle" fill="#3e3b42">4</text>
<text x="1735.9" y="878.9" font-size="17.2" text-anchor="middle" fill="#3e3b42">6</text>
<path d="M1377.4 853.6v6M1496.9 853.6v6M1616.4 853.6v6M1735.9 853.6v6" stroke="#2e2e2e" stroke-width="2.2"/>
<text x="1344.7" y="826.3" font-size="17.2" text-anchor="end" fill="#3e3b42">0.0</text>
<text x="1344.7" y="612.1" font-size="17.2" text-anchor="end" fill="#3e3b42">0.2</text>
<text x="1344.7" y="397.9" font-size="17.2" text-anchor="end" fill="#3e3b42">0.4</text>
<text x="1344.7" y="183.7" font-size="17.2" text-anchor="end" fill="#3e3b42">0.6</text>
<path d="M1357.3 820.1h-6M1357.3 605.9h-6M1357.3 391.7h-6M1357.3 177.5h-6" stroke="#2e2e2e" stroke-width="2.2"/>
<clipPath id="tr_1"><rect x="1829.6" y="81.6" width="459.9" height="772"/></clipPath>
<g clip-path="url(#tr_1)">
<path d="M1909.6 81.6V853.6M2029.3 81.6V853.6M2149.1 81.6V853.6M2268.8 81.6V853.6M1829.6 713H2289.5M1829.6 498.8H2289.5M1829.6 284.6H2289.5" stroke="#fafafa" stroke-width="1" fill="none"/>
<path d="M1849.8 81.6V853.6M1969.5 81.6V853.6M2089.2 81.6V853.6M2208.9 81.6V853.6M1829.6 820.1H2289.5M1829.6 605.9H2289.5M1829.6 391.7H2289.5M1829.6 177.5H2289.5" stroke="#f0f0f0" stroke-width="1.4" fill="none"/>
<polygon points="1958.5,264.8 1960.6,263.9 1962.7,263.1 1964.7,262.3 1966.8,261.7 1968.9,261 1971,260.4 1973.1,259.8 1975.2,259.1 1977.2,258.4 1979.3,257.6 1981.4,256.8 1981.4,436.6 1979.3,441.8 1977.2,447.1 1975.2,452.6 1973.1,458.2 1971,463.7 1968.9,469 1966.8,474.2 1964.7,479.3 1962.7,484.2 1960.6,489.2 1958.5,494.2" fill="#85aa80"/>
<polygon points="2024.2,211.6 2026.3,208 2028.4,204.3 2030.6,200.6 2032.7,196.8 2034.8,193.1 2036.9,189.4 2039,185.8 2041.1,182.3 2043.3,178.9 2045.4,175.8 2047.5,172.8 2047.5,392.9 2045.4,392 2043.3,391.1 2041.1,390.1 2039,389.2 2036.9,388.2 2034.8,387.3 2032.7,386.5 2030.6,385.9 2028.4,385.3 2026.3,385 2024.2,384.9" fill="#0a680a"/>
<polygon points="2072,149.9 2074.1,148.9 2076.1,147.9 2078.2,147.1 2080.3,146.3 2082.3,145.5 2084.4,144.8 2086.5,144.1 2088.6,143.5 2090.6,142.9 2092.7,142.3 2092.7,417.7 2090.6,416 2088.6,414.5 2086.5,412.9 2084.4,411.5 2082.3,410.1 2080.3,408.8 2078.2,407.5 2076.1,406.3 2074.1,405.1 2072,404" fill="#eff2ef"/>
<polygon points="2139.3,125 2141.5,124 2143.6,123 2145.8,122 2147.9,121 2150.1,120 2152.2,119.2 2154.4,118.4 2156.5,117.8 2158.7,117.5 2158.7,506.8 2156.5,503.5 2154.4,500.2 2152.2,496.8 2150.1,493.3 2147.9,489.9 2145.8,486.5 2143.6,483.1 2141.5,479.8 2139.3,476.5" fill="#edefee"/>
<polygon points="2205,158.2 2207,162.2 2209,166.6 2211,171.3 2213,176.6 2215,182.3 2217,188.5 2219,195.3 2221,202.5 2223,210.1 2223,554.5 2221,555.2 2219,555.7 2217,556.1 2215,556.3 2213,556.4 2211,556.3 2209,556 2207,555.5 2205,554.8" fill="#eef0ef"/>
<polygon points="2245.4,306.7 2247.5,313.8 2249.7,320.4 2251.8,326.4 2254,332 2256.1,337.1 2258.3,341.9 2260.4,346.3 2262.6,350.5 2264.7,354.3 2266.9,358 2269,360.9 2269,540.5 2266.9,539.4 2264.7,538.4 2262.6,537.6 2260.4,536.9 2258.3,536.3 2256.1,535.9 2254,535.6 2251.8,535.5 2249.7,535.6 2247.5,536 2245.4,536.7" fill="#63965e"/>
<polyline points="1849.8,604.8 1850.8,600.2 1851.8,595.6 1852.8,591 1853.8,586.3 1854.8,581.6 1855.8,576.9 1856.8,572.2 1857.8,567.4 1858.8,562.7 1859.8,557.9 1860.8,553.1 1861.8,548.4 1862.8,543.7 1863.8,539.1 1864.8,534.5 1865.8,530 1866.8,525.5 1867.8,521 1868.8,516.5 1869.8,511.9 1870.8,507.3 1871.8,502.7 1872.8,497.9 1873.8,493 1874.8,487.9 1875.8,482.7 1876.9,477.4 1877.9,471.9 1878.9,466.4 1879.9,460.8 1880.9,455.1 1881.9,449.5 1882.9,443.9 1883.9,438.4 1884.9,433.1 1885.9,427.9 1886.9,422.9 1887.9,418 1888.9,413.4 1889.9,409 1890.9,404.7 1891.9,400.6 1892.9,396.6 1893.9,392.7 1894.9,388.8 1895.9,385.1 1896.9,381.3 1897.9,377.6 1898.9,374 1899.9,370.3 1900.9,366.6 1901.9,362.9 1902.9,359.3 1903.9,355.7 1904.9,352.1 1905.9,348.5 1906.9,345 1907.9,341.6 1908.9,338.3 1909.9,335 1910.9,331.9 1911.9,328.9 1912.9,326 1913.9,323.2 1914.9,320.5 1915.9,317.9 1916.9,315.4 1917.9,313 1918.9,310.8 1919.9,308.6 1920.9,306.4 1921.9,304.4 1922.9,302.4 1923.9,300.5 1924.9,298.6 1925.9,296.8 1926.9,295.1 1927.9,293.4 1929,291.8 1930,290.2 1931,288.7 1932,287.3 1933,285.9 1934,284.6 1935,283.3 1936,282.1 1937,280.9 1938,279.8 1939,278.7 1940,277.7 1941,276.7 1942,275.8 1943,274.9 1944,274 1945,273.2 1946,272.4 1947,271.7 1948,270.9 1949,270.2 1950,269.5 1951,268.9 1952,268.3 1953,267.7 1954,267.1 1955,266.5 1956,266 1957,265.5 1958,265 1959,264.6 1960,264.1 1961,263.7 1962,263.3 1963,262.9 1964,262.6 1965,262.2 1966,261.9 1967,261.6 1968,261.3 1969,261 1970,260.7 1971,260.4 1972,260.1 1973,259.8 1974,259.5 1975,259.2 1976,258.8 1977,258.5 1978,258.1 1979,257.7 1980,257.3 1981.1,256.9 1982.1,256.5 1983.1,256 1984.1,255.6 1985.1,255.1 1986.1,254.6 1987.1,254 1988.1,253.5 1989.1,252.9 1990.1,252.3 1991.1,251.7 1992.1,251 1993.1,250.3 1994.1,249.7 1995.1,248.9 1996.1,248.2 1997.1,247.4 1998.1,246.6 1999.1,245.7 2000.1,244.9 2001.1,243.9 2002.1,243 2003.1,241.9 2004.1,240.9 2005.1,239.8 2006.1,238.6 2007.1,237.4 2008.1,236.1 2009.1,234.8 2010.1,233.5 2011.1,232.1 2012.1,230.7 2013.1,229.2 2014.1,227.7 2015.1,226.2 2016.1,224.7 2017.1,223.2 2018.1,221.6 2019.1,220 2020.1,218.4 2021.1,216.7 2022.1,215.1 2023.1,213.4 2024.1,211.7 2025.1,210 2026.1,208.3 2027.1,206.6 2028.1,204.8 2029.1,203.1 2030.1,201.3 2031.1,199.5 2032.1,197.7 2033.2,196 2034.2,194.2 2035.2,192.4 2036.2,190.7 2037.2,189 2038.2,187.2 2039.2,185.5 2040.2,183.9 2041.2,182.2 2042.2,180.6 2043.2,179.1 2044.2,177.5 2045.2,176.1 2046.2,174.6 2047.2,173.2 2048.2,171.9 2049.2,170.6 2050.2,169.3 2051.2,168.1 2052.2,166.9 2053.2,165.8 2054.2,164.7 2055.2,163.6 2056.2,162.5 2057.2,161.5 2058.2,160.4 2059.2,159.5 2060.2,158.5 2061.2,157.6 2062.2,156.7 2063.2,155.9 2064.2,155.1 2065.2,154.3 2066.2,153.6 2067.2,152.8 2068.2,152.2 2069.2,151.5 2070.2,150.9 2071.2,150.4 2072.2,149.8 2073.2,149.3 2074.2,148.8 2075.2,148.3 2076.2,147.9 2077.2,147.5 2078.2,147.1 2079.2,146.7 2080.2,146.3 2081.2,145.9 2082.2,145.6 2083.2,145.2 2084.2,144.9 2085.2,144.5 2086.3,144.2 2087.3,143.9 2088.3,143.6 2089.3,143.3 2090.3,143 2091.3,142.7 2092.3,142.4 2093.3,142.1 2094.3,141.8 2095.3,141.5 2096.3,141.2 2097.3,140.9 2098.3,140.6 2099.3,140.2 2100.3,139.9 2101.3,139.6 2102.3,139.3 2103.3,138.9 2104.3,138.6 2105.3,138.2 2106.3,137.9 2107.3,137.5 2108.3,137.1 2109.3,136.8 2110.3,136.4 2111.3,136 2112.3,135.6 2113.3,135.3 2114.3,134.9 2115.3,134.5 2116.3,134.1 2117.3,133.7 2118.3,133.4 2119.3,133 2120.3,132.6 2121.3,132.2 2122.3,131.8 2123.3,131.4 2124.3,131 2125.3,130.6 2126.3,130.2 2127.3,129.9 2128.3,129.5 2129.3,129.1 2130.3,128.7 2131.3,128.3 2132.3,127.9 2133.3,127.5 2134.3,127.1 2135.3,126.7 2136.3,126.3 2137.3,125.8 2138.4,125.4 2139.4,125 2140.4,124.5 2141.4,124.1 2142.4,123.6 2143.4,123.1 2144.4,122.7 2145.4,122.2 2146.4,121.7 2147.4,121.3 2148.4,120.8 2149.4,120.4 2150.4,119.9 2151.4,119.5 2152.4,119.1 2153.4,118.8 2154.4,118.4 2155.4,118.1 2156.4,117.9 2157.4,117.7 2158.4,117.5 2159.4,117.4 2160.4,117.3 2161.4,117.3 2162.4,117.3 2163.4,117.4 2164.4,117.5 2165.4,117.7 2166.4,117.9 2167.4,118.1 2168.4,118.4 2169.4,118.8 2170.4,119.1 2171.4,119.5 2172.4,120 2173.4,120.5 2174.4,121 2175.4,121.5 2176.4,122.1 2177.4,122.7 2178.4,123.4 2179.4,124.1 2180.4,124.9 2181.4,125.7 2182.4,126.6 2183.4,127.6 2184.4,128.6 2185.4,129.6 2186.4,130.7 2187.4,131.8 2188.4,133 2189.4,134.3 2190.5,135.5 2191.5,136.8 2192.5,138.2 2193.5,139.6 2194.5,141 2195.5,142.4 2196.5,143.9 2197.5,145.4 2198.5,147 2199.5,148.5 2200.5,150.2 2201.5,151.8 2202.5,153.6 2203.5,155.4 2204.5,157.2 2205.5,159.1 2206.5,161.1 2207.5,163.2 2208.5,165.4 2209.5,167.7 2210.5,170.1 2211.5,172.6 2212.5,175.2 2213.5,177.9 2214.5,180.8 2215.5,183.8 2216.5,186.9 2217.5,190.1 2218.5,193.5 2219.5,197 2220.5,200.6 2221.5,204.4 2222.5,208.2 2223.5,212.1 2224.5,216.1 2225.5,220.2 2226.5,224.4 2227.5,228.7 2228.5,233.1 2229.5,237.5 2230.5,242 2231.5,246.6 2232.5,251.2 2233.5,255.9 2234.5,260.6 2235.5,265.3 2236.5,270 2237.5,274.6 2238.5,279.1 2239.5,283.6 2240.5,287.9 2241.5,292.1 2242.6,296.1 2243.6,300 2244.6,303.7 2245.6,307.2 2246.6,310.6 2247.6,313.9 2248.6,317 2249.6,320 2250.6,322.9 2251.6,325.7 2252.6,328.4 2253.6,330.9 2254.6,333.4 2255.6,335.8 2256.6,338.2 2257.6,340.4 2258.6,342.6 2259.6,344.7 2260.6,346.7 2261.6,348.6 2262.6,350.5 2263.6,352.3 2264.6,354.1 2265.6,355.9 2266.6,357.6 2267.6,359.2 2268.6,360.9" fill="none" stroke="#000" stroke-width="2.6" stroke-dasharray="9.5 9" stroke-linejoin="round"/>
<polyline points="1849.8,604.8 1850.8,605.4 1851.8,606 1852.8,606.7 1853.8,607.3 1854.8,607.9 1855.8,608.4 1856.8,609 1857.8,609.6 1858.8,610.1 1859.8,610.6 1860.8,611 1861.8,611.5 1862.8,611.9 1863.8,612.3 1864.8,612.7 1865.8,613 1866.8,613.3 1867.8,613.6 1868.8,613.8 1869.8,614 1870.8,614.2 1871.8,614.4 1872.8,614.5 1873.8,614.6 1874.8,614.7 1875.8,614.7 1876.8,614.8 1877.8,614.8 1878.8,614.7 1879.8,614.7 1880.8,614.7 1881.8,614.6 1882.8,614.5 1883.8,614.4 1884.8,614.3 1885.8,614.2 1886.8,614.1 1887.8,613.9 1888.8,613.7 1889.8,613.5 1890.8,613.2 1891.9,612.9 1892.9,612.5 1893.9,612.1 1894.9,611.7 1895.9,611.2 1896.9,610.6 1897.9,610 1898.9,609.3 1899.9,608.5 1900.9,607.7 1901.9,606.9 1902.9,605.9 1903.9,605 1904.9,603.9 1905.9,602.9 1906.9,601.7 1907.9,600.5 1908.9,599.3 1909.9,598 1910.9,596.7 1911.9,595.3 1912.9,593.9 1913.9,592.5 1914.9,591.1 1915.9,589.6 1916.9,588.1 1917.9,586.6 1918.9,585.1 1919.9,583.5 1920.9,582 1921.9,580.4 1922.9,578.8 1923.9,577.2 1924.9,575.5 1925.9,573.9 1926.9,572.1 1927.9,570.4 1928.9,568.6 1929.9,566.7 1930.9,564.9 1931.9,562.9 1932.9,560.9 1933.9,558.9 1934.9,556.7 1935.9,554.5 1936.9,552.3 1937.9,549.9 1938.9,547.5 1939.9,545 1940.9,542.4 1941.9,539.8 1942.9,537.1 1943.9,534.4 1944.9,531.6 1945.9,528.7 1946.9,525.9 1947.9,523 1948.9,520.2 1949.9,517.3 1950.9,514.5 1951.9,511.6 1952.9,508.9 1953.9,506.1 1954.9,503.4 1955.9,500.8 1956.9,498.2 1957.9,495.7 1958.9,493.2 1959.9,490.7 1960.9,488.3 1961.9,485.9 1962.9,483.6 1963.9,481.2 1964.9,478.8 1965.9,476.4 1966.9,474 1967.9,471.5 1968.9,469 1969.9,466.4 1970.9,463.8 1971.9,461.2 1972.9,458.5 1973.9,455.8 1974.9,453.2 1976,450.5 1977,447.9 1978,445.3 1979,442.7 1980,440.2 1981,437.7 1982,435.3 1983,432.9 1984,430.5 1985,428.2 1986,426 1987,423.8 1988,421.6 1989,419.4 1990,417.3 1991,415.3 1992,413.3 1993,411.3 1994,409.4 1995,407.6 1996,405.8 1997,404.2 1998,402.6 1999,401.1 2000,399.6 2001,398.3 2002,397 2003,395.9 2004,394.8 2005,393.8 2006,392.9 2007,392 2008,391.2 2009,390.5 2010,389.8 2011,389.2 2012,388.6 2013,388.1 2014,387.6 2015,387.1 2016,386.7 2017,386.3 2018,385.9 2019,385.6 2020,385.4 2021,385.2 2022,385.1 2023,385 2024,384.9 2025,384.9 2026,385 2027,385.1 2028,385.3 2029,385.5 2030,385.7 2031,386 2032,386.3 2033,386.7 2034,387 2035,387.4 2036,387.8 2037,388.3 2038,388.7 2039,389.2 2040,389.6 2041,390.1 2042,390.5 2043,391 2044,391.4 2045,391.9 2046,392.3 2047,392.7 2048,393.1 2049,393.6 2050,394 2051,394.4 2052,394.8 2053,395.3 2054,395.7 2055,396.1 2056,396.5 2057,397 2058,397.4 2059,397.8 2060.1,398.3 2061.1,398.7 2062.1,399.2 2063.1,399.6 2064.1,400.1 2065.1,400.5 2066.1,401 2067.1,401.5 2068.1,402 2069.1,402.5 2070.1,403 2071.1,403.5 2072.1,404 2073.1,404.6 2074.1,405.1 2075.1,405.7 2076.1,406.2 2077.1,406.8 2078.1,407.4 2079.1,408 2080.1,408.6 2081.1,409.3 2082.1,409.9 2083.1,410.6 2084.1,411.2 2085.1,411.9 2086.1,412.6 2087.1,413.4 2088.1,414.1 2089.1,414.8 2090.1,415.6 2091.1,416.4 2092.1,417.2 2093.1,418 2094.1,418.8 2095.1,419.7 2096.1,420.5 2097.1,421.4 2098.1,422.3 2099.1,423.2 2100.1,424.2 2101.1,425.1 2102.1,426.1 2103.1,427.1 2104.1,428.1 2105.1,429.2 2106.1,430.2 2107.1,431.4 2108.1,432.5 2109.1,433.6 2110.1,434.8 2111.1,436 2112.1,437.3 2113.1,438.6 2114.1,439.9 2115.1,441.2 2116.1,442.5 2117.1,443.9 2118.1,445.3 2119.1,446.7 2120.1,448.1 2121.1,449.5 2122.1,451 2123.1,452.4 2124.1,453.9 2125.1,455.4 2126.1,456.9 2127.1,458.4 2128.1,459.8 2129.1,461.3 2130.1,462.8 2131.1,464.3 2132.1,465.8 2133.1,467.3 2134.1,468.8 2135.1,470.3 2136.1,471.8 2137.1,473.3 2138.1,474.8 2139.1,476.3 2140.1,477.8 2141.1,479.3 2142.1,480.9 2143.1,482.4 2144.2,484 2145.2,485.6 2146.2,487.1 2147.2,488.7 2148.2,490.3 2149.2,491.9 2150.2,493.5 2151.2,495.1 2152.2,496.6 2153.2,498.2 2154.2,499.8 2155.2,501.4 2156.2,502.9 2157.2,504.5 2158.2,506 2159.2,507.5 2160.2,509 2161.2,510.5 2162.2,511.9 2163.2,513.4 2164.2,514.8 2165.2,516.1 2166.2,517.5 2167.2,518.8 2168.2,520.1 2169.2,521.4 2170.2,522.7 2171.2,524 2172.2,525.2 2173.2,526.4 2174.2,527.7 2175.2,528.9 2176.2,530 2177.2,531.2 2178.2,532.4 2179.2,533.6 2180.2,534.7 2181.2,535.8 2182.2,537 2183.2,538 2184.2,539.1 2185.2,540.2 2186.2,541.2 2187.2,542.2 2188.2,543.2 2189.2,544.2 2190.2,545.1 2191.2,546 2192.2,546.9 2193.2,547.7 2194.2,548.5 2195.2,549.2 2196.2,550 2197.2,550.7 2198.2,551.3 2199.2,551.9 2200.2,552.5 2201.2,553.1 2202.2,553.6 2203.2,554.1 2204.2,554.5 2205.2,554.9 2206.2,555.3 2207.2,555.6 2208.2,555.9 2209.2,556.1 2210.2,556.2 2211.2,556.4 2212.2,556.4 2213.2,556.4 2214.2,556.4 2215.2,556.3 2216.2,556.2 2217.2,556.1 2218.2,555.9 2219.2,555.6 2220.2,555.4 2221.2,555.1 2222.2,554.7 2223.2,554.4 2224.2,554 2225.2,553.5 2226.2,553 2227.2,552.4 2228.3,551.7 2229.3,551 2230.3,550.2 2231.3,549.3 2232.3,548.4 2233.3,547.4 2234.3,546.3 2235.3,545.3 2236.3,544.2 2237.3,543.1 2238.3,542.1 2239.3,541.1 2240.3,540.1 2241.3,539.2 2242.3,538.5 2243.3,537.8 2244.3,537.2 2245.3,536.7 2246.3,536.3 2247.3,536 2248.3,535.8 2249.3,535.7 2250.3,535.6 2251.3,535.5 2252.3,535.5 2253.3,535.6 2254.3,535.7 2255.3,535.8 2256.3,535.9 2257.3,536.1 2258.3,536.3 2259.3,536.6 2260.3,536.8 2261.3,537.1 2262.3,537.5 2263.3,537.8 2264.3,538.3 2265.3,538.7 2266.3,539.1 2267.3,539.6 2268.3,540.1 2269.3,540.6" fill="none" stroke="#000" stroke-width="2.6" stroke-dasharray="9.5 9" stroke-linejoin="round"/>
<polyline points="1849.8,604.8 1850.8,602.7 1851.8,600.6 1852.8,598.5 1853.8,596.5 1854.8,594.4 1855.8,592.3 1856.8,590.2 1857.8,588.1 1858.8,586 1859.8,584 1860.8,581.9 1861.8,579.8 1862.8,577.7 1863.8,575.7 1864.8,573.6 1865.8,571.5 1866.8,569.4 1867.8,567.4 1868.8,565.3 1869.8,563.2 1870.8,561.2 1871.8,559.1 1872.8,557 1873.8,555 1874.8,552.9 1875.8,550.8 1876.9,548.8 1877.9,546.7 1878.9,544.6 1879.9,542.6 1880.9,540.5 1881.9,538.5 1882.9,536.4 1883.9,534.4 1884.9,532.3 1885.9,530.3 1886.9,528.2 1887.9,526.2 1888.9,524.1 1889.9,522 1890.9,520 1891.9,518 1892.9,515.9 1893.9,513.9 1894.9,511.8 1895.9,509.8 1896.9,507.7 1897.9,505.7 1898.9,503.6 1899.9,501.6 1900.9,499.6 1901.9,497.5 1902.9,495.5 1903.9,493.4 1904.9,491.4 1905.9,489.4 1906.9,487.3 1907.9,485.3 1908.9,483.3 1909.9,481.2 1910.9,479.2 1911.9,477.2 1912.9,475.1 1913.9,473.1 1914.9,471.1 1915.9,469 1916.9,467 1917.9,465 1918.9,463 1919.9,460.9 1920.9,458.9 1921.9,456.9 1922.9,454.9 1923.9,452.8 1924.9,450.8 1925.9,448.8 1926.9,446.7 1927.9,444.7 1929,442.7 1930,440.6 1931,438.6 1932,436.5 1933,434.5 1934,432.4 1935,430.4 1936,428.3 1937,426.2 1938,424.1 1939,422.1 1940,420 1941,417.9 1942,415.8 1943,413.8 1944,411.7 1945,409.7 1946,407.6 1947,405.6 1948,403.6 1949,401.6 1950,399.6 1951,397.7 1952,395.7 1953,393.8 1954,392 1955,390.1 1956,388.3 1957,386.5 1958,384.7 1959,382.9 1960,381.2 1961,379.4 1962,377.7 1963,376 1964,374.4 1965,372.7 1966,371.1 1967,369.4 1968,367.8 1969,366.2 1970,364.6 1971,363 1972,361.4 1973,359.8 1974,358.3 1975,356.7 1976,355.2 1977,353.7 1978,352.2 1979,350.7 1980,349.2 1981.1,347.8 1982.1,346.3 1983.1,344.9 1984.1,343.5 1985.1,342.1 1986.1,340.7 1987.1,339.3 1988.1,338 1989.1,336.7 1990.1,335.4 1991.1,334.1 1992.1,332.8 1993.1,331.5 1994.1,330.3 1995.1,329.1 1996.1,327.9 1997.1,326.7 1998.1,325.5 1999.1,324.4 2000.1,323.3 2001.1,322.1 2002.1,321 2003.1,319.9 2004.1,318.8 2005.1,317.8 2006.1,316.7 2007.1,315.6 2008.1,314.6 2009.1,313.5 2010.1,312.5 2011.1,311.4 2012.1,310.4 2013.1,309.4 2014.1,308.3 2015.1,307.3 2016.1,306.3 2017.1,305.3 2018.1,304.4 2019.1,303.4 2020.1,302.4 2021.1,301.5 2022.1,300.6 2023.1,299.7 2024.1,298.8 2025.1,297.9 2026.1,297 2027.1,296.2 2028.1,295.4 2029.1,294.6 2030.1,293.8 2031.1,293 2032.1,292.3 2033.2,291.6 2034.2,290.9 2035.2,290.2 2036.2,289.6 2037.2,288.9 2038.2,288.3 2039.2,287.8 2040.2,287.2 2041.2,286.7 2042.2,286.2 2043.2,285.7 2044.2,285.2 2045.2,284.8 2046.2,284.3 2047.2,283.9 2048.2,283.5 2049.2,283.1 2050.2,282.7 2051.2,282.4 2052.2,282 2053.2,281.6 2054.2,281.3 2055.2,281 2056.2,280.6 2057.2,280.3 2058.2,280 2059.2,279.7 2060.2,279.4 2061.2,279.1 2062.2,278.9 2063.2,278.6 2064.2,278.4 2065.2,278.2 2066.2,278 2067.2,277.8 2068.2,277.7 2069.2,277.5 2070.2,277.4 2071.2,277.3 2072.2,277.2 2073.2,277.2 2074.2,277.1 2075.2,277.1 2076.2,277.1 2077.2,277.1 2078.2,277.1 2079.2,277.1 2080.2,277.1 2081.2,277.2 2082.2,277.2 2083.2,277.3 2084.2,277.4 2085.2,277.4 2086.3,277.5 2087.3,277.6 2088.3,277.7 2089.3,277.8 2090.3,277.9 2091.3,278 2092.3,278.1 2093.3,278.3 2094.3,278.4 2095.3,278.6 2096.3,278.8 2097.3,279 2098.3,279.2 2099.3,279.5 2100.3,279.7 2101.3,280 2102.3,280.4 2103.3,280.7 2104.3,281 2105.3,281.4 2106.3,281.8 2107.3,282.2 2108.3,282.7 2109.3,283.1 2110.3,283.6 2111.3,284.1 2112.3,284.6 2113.3,285.1 2114.3,285.6 2115.3,286.1 2116.3,286.7 2117.3,287.2 2118.3,287.8 2119.3,288.3 2120.3,288.9 2121.3,289.5 2122.3,290.1 2123.3,290.7 2124.3,291.3 2125.3,291.9 2126.3,292.5 2127.3,293 2128.3,293.6 2129.3,294.2 2130.3,294.9 2131.3,295.5 2132.3,296.1 2133.3,296.7 2134.3,297.3 2135.3,297.9 2136.3,298.5 2137.3,299.2 2138.4,299.8 2139.4,300.5 2140.4,301.2 2141.4,301.8 2142.4,302.5 2143.4,303.2 2144.4,303.9 2145.4,304.6 2146.4,305.4 2147.4,306.1 2148.4,306.9 2149.4,307.6 2150.4,308.4 2151.4,309.2 2152.4,310 2153.4,310.8 2154.4,311.6 2155.4,312.4 2156.4,313.2 2157.4,314.1 2158.4,314.9 2159.4,315.8 2160.4,316.7 2161.4,317.6 2162.4,318.5 2163.4,319.4 2164.4,320.3 2165.4,321.3 2166.4,322.2 2167.4,323.2 2168.4,324.2 2169.4,325.2 2170.4,326.2 2171.4,327.2 2172.4,328.3 2173.4,329.3 2174.4,330.4 2175.4,331.5 2176.4,332.6 2177.4,333.7 2178.4,334.8 2179.4,335.9 2180.4,337.1 2181.4,338.2 2182.4,339.4 2183.4,340.6 2184.4,341.8 2185.4,343 2186.4,344.2 2187.4,345.5 2188.4,346.7 2189.4,347.9 2190.5,349.2 2191.5,350.5 2192.5,351.7 2193.5,353 2194.5,354.3 2195.5,355.6 2196.5,356.9 2197.5,358.2 2198.5,359.5 2199.5,360.8 2200.5,362.1 2201.5,363.5 2202.5,364.8 2203.5,366.1 2204.5,367.5 2205.5,368.8 2206.5,370.2 2207.5,371.5 2208.5,372.9 2209.5,374.3 2210.5,375.7 2211.5,377 2212.5,378.4 2213.5,379.8 2214.5,381.3 2215.5,382.7 2216.5,384.1 2217.5,385.6 2218.5,387.1 2219.5,388.5 2220.5,390 2221.5,391.5 2222.5,393.1 2223.5,394.6 2224.5,396.2 2225.5,397.7 2226.5,399.3 2227.5,400.9 2228.5,402.4 2229.5,404 2230.5,405.6 2231.5,407.2 2232.5,408.8 2233.5,410.4 2234.5,412 2235.5,413.6 2236.5,415.1 2237.5,416.7 2238.5,418.3 2239.5,419.8 2240.5,421.4 2241.5,422.9 2242.6,424.5 2243.6,426 2244.6,427.5 2245.6,429 2246.6,430.5 2247.6,432 2248.6,433.5 2249.6,434.9 2250.6,436.4 2251.6,437.8 2252.6,439.3 2253.6,440.7 2254.6,442.1 2255.6,443.6 2256.6,445 2257.6,446.4 2258.6,447.8 2259.6,449.2 2260.6,450.6 2261.6,452 2262.6,453.4 2263.6,454.8 2264.6,456.2 2265.6,457.6 2266.6,458.9 2267.6,460.3 2268.6,461.7" fill="none" stroke="#000" stroke-width="2.5" stroke-linejoin="round"/>
</g>
<rect x="1829.6" y="81.6" width="459.9" height="772" fill="none" stroke="#55505c" stroke-width="1.7"/>
<rect x="1829.6" y="46" width="459.9" height="35.6" fill="#cce0fa" stroke="#2a3050" stroke-width="1.4"/>
<path d="M1829.6 81.6H2289.5" stroke="#101828" stroke-width="2.3"/>
<text x="2059.6" y="70.5" font-size="18.7" text-anchor="middle" fill="#0b1430" stroke="#0b1430" stroke-width="0.35">Acupuncture and Medicine</text>
<text x="1849.8" y="878.9" font-size="17.2" text-anchor="middle" fill="#3e3b42">0</text>
<text x="1969.5" y="878.9" font-size="17.2" text-anchor="middle" fill="#3e3b42">2</text>
<text x="2089.2" y="878.9" font-size="17.2" text-anchor="middle" fill="#3e3b42">4</text>
<text x="2208.9" y="878.9" font-size="17.2" text-anchor="middle" fill="#3e3b42">6</text>
<path d="M1849.8 853.6v6M1969.5 853.6v6M2089.2 853.6v6M2208.9 853.6v6" stroke="#2e2e2e" stroke-width="2.2"/>
<text x="1823.5" y="906.9" font-size="22.7" text-anchor="middle" fill="#111" stroke="#111" stroke-width="0.4">Dose</text>
<text x="1307.3" y="468.5" font-size="22.7" text-anchor="middle" fill="#111" transform="rotate(-90 1307.3 468.5)" textLength="204" lengthAdjust="spacingAndGlyphs" stroke="#111" stroke-width="0.4">Predicted response</text>
<text x="2351" y="91.3" font-size="41.6" text-anchor="start" fill="#000" transform="rotate(90 2351 91.3)" textLength="187" lengthAdjust="spacingAndGlyphs" stroke="#000" stroke-width="0.7">Frequency</text>
<path d="M2329 466.9H2356.6" stroke="#000" stroke-width="2.8" stroke-dasharray="8.6 10"/>
<path d="M2329 504.1H2358.5" stroke="#000" stroke-width="2.8"/>
<text x="2373.7" y="474.2" font-size="18.8" text-anchor="start" fill="#111" stroke="#111" stroke-width="0.35">95% Interval</text>
<text x="2373.7" y="511.4" font-size="18.8" text-anchor="start" fill="#111" stroke="#111" stroke-width="0.35">MBNMA</text>
<clipPath id="bl_0"><rect x="86.4" y="1197.4" width="478.6" height="804"/></clipPath>
<g clip-path="url(#bl_0)">
<path d="M153.1 1197.4V2001.4M244.1 1197.4V2001.4M335.2 1197.4V2001.4M426.3 1197.4V2001.4M517.5 1197.4V2001.4M86.4 1889.5H565M86.4 1696.3H565M86.4 1503.1H565M86.4 1309.9H565" stroke="#fafafa" stroke-width="1" fill="none"/>
<path d="M107.5 1197.4V2001.4M198.6 1197.4V2001.4M289.7 1197.4V2001.4M380.8 1197.4V2001.4M471.9 1197.4V2001.4M86.4 1986.1H565M86.4 1792.9H565M86.4 1599.7H565M86.4 1406.5H565M86.4 1213.3H565" stroke="#f0f0f0" stroke-width="1.4" fill="none"/>
<polygon points="243.6,1541.2 245.7,1540.5 247.9,1539.8 250,1539.1 252.1,1538.4 254.3,1537.7 256.4,1537 258.6,1536.3 260.7,1535.6 262.8,1535 265,1534.3 267.1,1533.7 267.1,1960.9 265,1960.9 262.8,1961 260.7,1961 258.6,1961.1 256.4,1961.1 254.3,1961.2 252.1,1961.3 250,1961.3 247.9,1961.4 245.7,1961.4 243.6,1961.5" fill="#eff1f0"/>
<polygon points="307.8,1522.3 309.9,1521.7 312,1521.2 314,1520.6 316.1,1520.1 318.2,1519.5 320.3,1519 322.3,1518.4 324.4,1517.8 326.5,1517.3 328.6,1516.7 330.6,1516.2 332.7,1515.6 334.8,1515 336.9,1514.5 338.9,1513.9 341,1513.3 343.1,1512.7 343.1,1959 341,1959.1 338.9,1959.1 336.9,1959.2 334.8,1959.2 332.7,1959.3 330.6,1959.3 328.6,1959.4 326.5,1959.4 324.4,1959.4 322.3,1959.5 320.3,1959.5 318.2,1959.6 316.1,1959.6 314,1959.7 312,1959.7 309.9,1959.8 307.8,1959.8" fill="#b6cdb4"/>
<polygon points="379.3,1502.6 381.4,1502 383.5,1501.4 385.6,1500.8 387.7,1500.2 389.9,1499.6 392,1499 394.1,1498.4 396.2,1497.8 398.3,1497.2 398.3,1957.9 396.2,1957.9 394.1,1958 392,1958 389.9,1958.1 387.7,1958.1 385.6,1958.1 383.5,1958.2 381.4,1958.2 379.3,1958.3" fill="#f3f5f3"/>
<polygon points="526,1462.9 528.1,1462.4 530.2,1461.9 532.3,1461.3 534.4,1460.8 536.4,1460.2 538.5,1459.7 540.6,1459.2 542.7,1459 542.7,1955.7 540.6,1955.7 538.5,1955.7 536.4,1955.7 534.4,1955.7 532.3,1955.7 530.2,1955.8 528.1,1955.8 526,1955.8" fill="#f3f4f3"/>
<polyline points="107.7,1588.8 108.7,1588.6 109.7,1588.3 110.7,1588.1 111.7,1587.8 112.7,1587.6 113.7,1587.3 114.7,1587.1 115.7,1586.8 116.7,1586.6 117.7,1586.3 118.7,1586.1 119.7,1585.8 120.7,1585.6 121.7,1585.3 122.7,1585 123.7,1584.7 124.7,1584.5 125.7,1584.2 126.7,1583.9 127.7,1583.6 128.7,1583.3 129.7,1583 130.7,1582.7 131.7,1582.4 132.7,1582.1 133.7,1581.8 134.7,1581.5 135.7,1581.2 136.7,1580.9 137.7,1580.5 138.7,1580.2 139.7,1579.9 140.7,1579.5 141.7,1579.2 142.7,1578.8 143.7,1578.5 144.8,1578.1 145.8,1577.8 146.8,1577.4 147.8,1577.1 148.8,1576.7 149.8,1576.3 150.8,1576 151.8,1575.6 152.8,1575.2 153.8,1574.9 154.8,1574.5 155.8,1574.1 156.8,1573.7 157.8,1573.4 158.8,1573 159.8,1572.6 160.8,1572.2 161.8,1571.9 162.8,1571.5 163.8,1571.1 164.8,1570.7 165.8,1570.3 166.8,1570 167.8,1569.6 168.8,1569.2 169.8,1568.8 170.8,1568.4 171.8,1568.1 172.8,1567.7 173.8,1567.3 174.8,1566.9 175.8,1566.6 176.8,1566.2 177.8,1565.8 178.8,1565.4 179.8,1565.1 180.8,1564.7 181.8,1564.3 182.8,1564 183.8,1563.6 184.8,1563.2 185.8,1562.8 186.8,1562.5 187.8,1562.1 188.8,1561.7 189.8,1561.4 190.8,1561 191.8,1560.6 192.8,1560.2 193.8,1559.8 194.8,1559.5 195.8,1559.1 196.8,1558.7 197.8,1558.3 198.8,1557.9 199.8,1557.5 200.8,1557.2 201.8,1556.8 202.8,1556.4 203.8,1556 204.8,1555.6 205.8,1555.2 206.8,1554.9 207.8,1554.5 208.8,1554.1 209.8,1553.7 210.8,1553.3 211.8,1552.9 212.8,1552.6 213.8,1552.2 214.8,1551.8 215.8,1551.4 216.9,1551 217.9,1550.6 218.9,1550.3 219.9,1549.9 220.9,1549.5 221.9,1549.1 222.9,1548.7 223.9,1548.4 224.9,1548 225.9,1547.6 226.9,1547.2 227.9,1546.9 228.9,1546.5 229.9,1546.1 230.9,1545.8 231.9,1545.4 232.9,1545 233.9,1544.7 234.9,1544.3 235.9,1543.9 236.9,1543.6 237.9,1543.2 238.9,1542.9 239.9,1542.5 240.9,1542.2 241.9,1541.8 242.9,1541.5 243.9,1541.1 244.9,1540.8 245.9,1540.4 246.9,1540.1 247.9,1539.8 248.9,1539.4 249.9,1539.1 250.9,1538.8 251.9,1538.4 252.9,1538.1 253.9,1537.8 254.9,1537.5 255.9,1537.1 256.9,1536.8 257.9,1536.5 258.9,1536.2 259.9,1535.9 260.9,1535.6 261.9,1535.3 262.9,1535 263.9,1534.7 264.9,1534.4 265.9,1534.1 266.9,1533.8 267.9,1533.5 268.9,1533.2 269.9,1532.9 270.9,1532.6 271.9,1532.3 272.9,1532 273.9,1531.7 274.9,1531.4 275.9,1531.1 276.9,1530.8 277.9,1530.5 278.9,1530.2 279.9,1530 280.9,1529.7 281.9,1529.4 282.9,1529.1 283.9,1528.8 284.9,1528.5 285.9,1528.3 286.9,1528 287.9,1527.7 289,1527.4 290,1527.1 291,1526.9 292,1526.6 293,1526.3 294,1526 295,1525.8 296,1525.5 297,1525.2 298,1525 299,1524.7 300,1524.4 301,1524.1 302,1523.9 303,1523.6 304,1523.3 305,1523.1 306,1522.8 307,1522.5 308,1522.3 309,1522 310,1521.7 311,1521.4 312,1521.2 313,1520.9 314,1520.6 315,1520.4 316,1520.1 317,1519.8 318,1519.6 319,1519.3 320,1519 321,1518.8 322,1518.5 323,1518.2 324,1518 325,1517.7 326,1517.4 327,1517.1 328,1516.9 329,1516.6 330,1516.3 331,1516.1 332,1515.8 333,1515.5 334,1515.2 335,1515 336,1514.7 337,1514.4 338,1514.1 339,1513.9 340,1513.6 341,1513.3 342,1513 343,1512.7 344,1512.5 345,1512.2 346,1511.9 347,1511.6 348,1511.3 349,1511.1 350,1510.8 351,1510.5 352,1510.2 353,1509.9 354,1509.7 355,1509.4 356,1509.1 357,1508.8 358,1508.5 359,1508.3 360,1508 361.1,1507.7 362.1,1507.4 363.1,1507.1 364.1,1506.9 365.1,1506.6 366.1,1506.3 367.1,1506 368.1,1505.7 369.1,1505.4 370.1,1505.2 371.1,1504.9 372.1,1504.6 373.1,1504.3 374.1,1504 375.1,1503.8 376.1,1503.5 377.1,1503.2 378.1,1502.9 379.1,1502.6 380.1,1502.3 381.1,1502.1 382.1,1501.8 383.1,1501.5 384.1,1501.2 385.1,1500.9 386.1,1500.7 387.1,1500.4 388.1,1500.1 389.1,1499.8 390.1,1499.5 391.1,1499.3 392.1,1499 393.1,1498.7 394.1,1498.4 395.1,1498.1 396.1,1497.9 397.1,1497.6 398.1,1497.3 399.1,1497 400.1,1496.7 401.1,1496.5 402.1,1496.2 403.1,1495.9 404.1,1495.6 405.1,1495.3 406.1,1495.1 407.1,1494.8 408.1,1494.5 409.1,1494.2 410.1,1493.9 411.1,1493.7 412.1,1493.4 413.1,1493.1 414.1,1492.8 415.1,1492.5 416.1,1492.3 417.1,1492 418.1,1491.7 419.1,1491.4 420.1,1491.2 421.1,1490.9 422.1,1490.6 423.1,1490.3 424.1,1490.1 425.1,1489.8 426.1,1489.5 427.1,1489.2 428.1,1489 429.1,1488.7 430.1,1488.4 431.1,1488.1 432.1,1487.9 433.2,1487.6 434.2,1487.3 435.2,1487 436.2,1486.8 437.2,1486.5 438.2,1486.2 439.2,1485.9 440.2,1485.7 441.2,1485.4 442.2,1485.1 443.2,1484.9 444.2,1484.6 445.2,1484.3 446.2,1484 447.2,1483.8 448.2,1483.5 449.2,1483.2 450.2,1483 451.2,1482.7 452.2,1482.4 453.2,1482.2 454.2,1481.9 455.2,1481.6 456.2,1481.3 457.2,1481.1 458.2,1480.8 459.2,1480.5 460.2,1480.3 461.2,1480 462.2,1479.7 463.2,1479.5 464.2,1479.2 465.2,1478.9 466.2,1478.7 467.2,1478.4 468.2,1478.1 469.2,1477.9 470.2,1477.6 471.2,1477.3 472.2,1477.1 473.2,1476.8 474.2,1476.5 475.2,1476.3 476.2,1476 477.2,1475.7 478.2,1475.5 479.2,1475.2 480.2,1474.9 481.2,1474.7 482.2,1474.4 483.2,1474.1 484.2,1473.9 485.2,1473.6 486.2,1473.3 487.2,1473.1 488.2,1472.8 489.2,1472.5 490.2,1472.3 491.2,1472 492.2,1471.8 493.2,1471.5 494.2,1471.2 495.2,1471 496.2,1470.7 497.2,1470.4 498.2,1470.2 499.2,1469.9 500.2,1469.6 501.2,1469.4 502.2,1469.1 503.2,1468.9 504.2,1468.6 505.3,1468.3 506.3,1468.1 507.3,1467.8 508.3,1467.5 509.3,1467.3 510.3,1467 511.3,1466.8 512.3,1466.5 513.3,1466.2 514.3,1466 515.3,1465.7 516.3,1465.5 517.3,1465.2 518.3,1464.9 519.3,1464.7 520.3,1464.4 521.3,1464.2 522.3,1463.9 523.3,1463.6 524.3,1463.4 525.3,1463.1 526.3,1462.9 527.3,1462.6 528.3,1462.3 529.3,1462.1 530.3,1461.8 531.3,1461.6 532.3,1461.3 533.3,1461.1 534.3,1460.8 535.3,1460.5 536.3,1460.3 537.3,1460 538.3,1459.8 539.3,1459.5 540.3,1459.3 541.3,1459" fill="none" stroke="#000" stroke-width="2.6" stroke-dasharray="9.5 9" stroke-linejoin="round"/>
<polyline points="107.7,1966 108.7,1966 109.7,1965.9 110.7,1965.9 111.7,1965.9 112.7,1965.8 113.7,1965.8 114.7,1965.7 115.7,1965.7 116.7,1965.7 117.7,1965.6 118.7,1965.6 119.7,1965.6 120.7,1965.5 121.7,1965.5 122.7,1965.5 123.7,1965.4 124.7,1965.4 125.7,1965.3 126.7,1965.3 127.7,1965.3 128.7,1965.2 129.7,1965.2 130.7,1965.2 131.7,1965.1 132.7,1965.1 133.7,1965.1 134.7,1965 135.7,1965 136.7,1965 137.7,1964.9 138.7,1964.9 139.7,1964.8 140.7,1964.8 141.7,1964.8 142.7,1964.7 143.7,1964.7 144.7,1964.7 145.7,1964.6 146.7,1964.6 147.7,1964.6 148.7,1964.5 149.7,1964.5 150.7,1964.5 151.7,1964.4 152.7,1964.4 153.7,1964.4 154.7,1964.3 155.7,1964.3 156.7,1964.3 157.7,1964.2 158.7,1964.2 159.7,1964.2 160.7,1964.1 161.7,1964.1 162.7,1964.1 163.7,1964 164.7,1964 165.7,1964 166.7,1963.9 167.7,1963.9 168.7,1963.9 169.7,1963.8 170.7,1963.8 171.7,1963.8 172.7,1963.7 173.7,1963.7 174.7,1963.6 175.7,1963.6 176.7,1963.6 177.7,1963.6 178.7,1963.5 179.7,1963.5 180.7,1963.5 181.7,1963.4 182.7,1963.4 183.7,1963.4 184.7,1963.3 185.7,1963.3 186.7,1963.3 187.7,1963.2 188.7,1963.2 189.7,1963.2 190.7,1963.1 191.7,1963.1 192.7,1963.1 193.7,1963 194.7,1963 195.7,1963 196.7,1962.9 197.7,1962.9 198.7,1962.9 199.7,1962.8 200.7,1962.8 201.7,1962.8 202.7,1962.7 203.7,1962.7 204.7,1962.7 205.7,1962.6 206.7,1962.6 207.7,1962.6 208.7,1962.6 209.7,1962.5 210.7,1962.5 211.7,1962.5 212.7,1962.4 213.7,1962.4 214.7,1962.4 215.7,1962.3 216.7,1962.3 217.7,1962.3 218.7,1962.2 219.7,1962.2 220.7,1962.2 221.7,1962.2 222.7,1962.1 223.7,1962.1 224.7,1962.1 225.7,1962 226.7,1962 227.7,1962 228.7,1961.9 229.7,1961.9 230.7,1961.9 231.7,1961.9 232.7,1961.8 233.7,1961.8 234.7,1961.8 235.7,1961.7 236.7,1961.7 237.7,1961.7 238.7,1961.6 239.7,1961.6 240.7,1961.6 241.7,1961.6 242.7,1961.5 243.7,1961.5 244.7,1961.5 245.7,1961.4 246.7,1961.4 247.7,1961.4 248.7,1961.4 249.7,1961.3 250.7,1961.3 251.7,1961.3 252.7,1961.2 253.7,1961.2 254.7,1961.2 255.7,1961.2 256.7,1961.1 257.7,1961.1 258.7,1961.1 259.7,1961.1 260.7,1961 261.7,1961 262.7,1961 263.7,1960.9 264.7,1960.9 265.7,1960.9 266.7,1960.9 267.7,1960.8 268.7,1960.8 269.7,1960.8 270.7,1960.8 271.7,1960.7 272.7,1960.7 273.7,1960.7 274.7,1960.6 275.7,1960.6 276.7,1960.6 277.7,1960.6 278.7,1960.5 279.7,1960.5 280.7,1960.5 281.7,1960.5 282.7,1960.4 283.7,1960.4 284.7,1960.4 285.7,1960.4 286.7,1960.3 287.7,1960.3 288.7,1960.3 289.7,1960.3 290.7,1960.2 291.7,1960.2 292.7,1960.2 293.7,1960.2 294.7,1960.1 295.7,1960.1 296.7,1960.1 297.7,1960.1 298.7,1960 299.7,1960 300.7,1960 301.7,1960 302.7,1959.9 303.7,1959.9 304.7,1959.9 305.7,1959.9 306.7,1959.9 307.7,1959.8 308.7,1959.8 309.7,1959.8 310.7,1959.8 311.7,1959.7 312.7,1959.7 313.7,1959.7 314.7,1959.7 315.7,1959.6 316.7,1959.6 317.7,1959.6 318.7,1959.6 319.7,1959.6 320.7,1959.5 321.8,1959.5 322.8,1959.5 323.8,1959.5 324.8,1959.4 325.8,1959.4 326.8,1959.4 327.8,1959.4 328.8,1959.4 329.8,1959.3 330.8,1959.3 331.8,1959.3 332.8,1959.3 333.8,1959.2 334.8,1959.2 335.8,1959.2 336.8,1959.2 337.8,1959.2 338.8,1959.1 339.8,1959.1 340.8,1959.1 341.8,1959.1 342.8,1959 343.8,1959 344.8,1959 345.8,1959 346.8,1959 347.8,1958.9 348.8,1958.9 349.8,1958.9 350.8,1958.9 351.8,1958.8 352.8,1958.8 353.8,1958.8 354.8,1958.8 355.8,1958.8 356.8,1958.7 357.8,1958.7 358.8,1958.7 359.8,1958.7 360.8,1958.7 361.8,1958.6 362.8,1958.6 363.8,1958.6 364.8,1958.6 365.8,1958.5 366.8,1958.5 367.8,1958.5 368.8,1958.5 369.8,1958.5 370.8,1958.4 371.8,1958.4 372.8,1958.4 373.8,1958.4 374.8,1958.4 375.8,1958.3 376.8,1958.3 377.8,1958.3 378.8,1958.3 379.8,1958.3 380.8,1958.2 381.8,1958.2 382.8,1958.2 383.8,1958.2 384.8,1958.2 385.8,1958.1 386.8,1958.1 387.8,1958.1 388.8,1958.1 389.8,1958.1 390.8,1958 391.8,1958 392.8,1958 393.8,1958 394.8,1958 395.8,1957.9 396.8,1957.9 397.8,1957.9 398.8,1957.9 399.8,1957.9 400.8,1957.8 401.8,1957.8 402.8,1957.8 403.8,1957.8 404.8,1957.8 405.8,1957.7 406.8,1957.7 407.8,1957.7 408.8,1957.7 409.8,1957.7 410.8,1957.6 411.8,1957.6 412.8,1957.6 413.8,1957.6 414.8,1957.6 415.8,1957.6 416.8,1957.5 417.8,1957.5 418.8,1957.5 419.8,1957.5 420.8,1957.5 421.8,1957.4 422.8,1957.4 423.8,1957.4 424.8,1957.4 425.8,1957.4 426.8,1957.3 427.8,1957.3 428.8,1957.3 429.8,1957.3 430.8,1957.3 431.8,1957.3 432.8,1957.2 433.8,1957.2 434.8,1957.2 435.8,1957.2 436.8,1957.2 437.8,1957.1 438.8,1957.1 439.8,1957.1 440.8,1957.1 441.8,1957.1 442.8,1957.1 443.8,1957 444.8,1957 445.8,1957 446.8,1957 447.8,1957 448.8,1957 449.8,1956.9 450.8,1956.9 451.8,1956.9 452.8,1956.9 453.8,1956.9 454.8,1956.9 455.8,1956.8 456.8,1956.8 457.8,1956.8 458.8,1956.8 459.8,1956.8 460.8,1956.8 461.8,1956.7 462.8,1956.7 463.8,1956.7 464.8,1956.7 465.8,1956.7 466.8,1956.7 467.8,1956.6 468.8,1956.6 469.8,1956.6 470.8,1956.6 471.8,1956.6 472.8,1956.6 473.8,1956.5 474.8,1956.5 475.8,1956.5 476.8,1956.5 477.8,1956.5 478.8,1956.5 479.8,1956.5 480.8,1956.4 481.8,1956.4 482.8,1956.4 483.8,1956.4 484.8,1956.4 485.8,1956.4 486.8,1956.3 487.8,1956.3 488.8,1956.3 489.8,1956.3 490.8,1956.3 491.8,1956.3 492.8,1956.3 493.8,1956.2 494.8,1956.2 495.8,1956.2 496.8,1956.2 497.8,1956.2 498.8,1956.2 499.8,1956.2 500.8,1956.1 501.8,1956.1 502.8,1956.1 503.8,1956.1 504.8,1956.1 505.8,1956.1 506.8,1956.1 507.8,1956 508.8,1956 509.8,1956 510.8,1956 511.8,1956 512.8,1956 513.8,1956 514.8,1956 515.8,1955.9 516.8,1955.9 517.8,1955.9 518.8,1955.9 519.8,1955.9 520.8,1955.9 521.8,1955.9 522.8,1955.9 523.8,1955.8 524.8,1955.8 525.8,1955.8 526.8,1955.8 527.8,1955.8 528.8,1955.8 529.8,1955.8 530.8,1955.8 531.8,1955.7 532.8,1955.7 533.8,1955.7 534.8,1955.7 535.8,1955.7" fill="none" stroke="#000" stroke-width="2.6" stroke-dasharray="9.5 9" stroke-linejoin="round"/>
<polyline points="107.7,1844.4 108.7,1844.2 109.7,1844.1 110.7,1843.9 111.7,1843.7 112.7,1843.6 113.7,1843.4 114.7,1843.2 115.7,1843.1 116.7,1842.9 117.7,1842.7 118.7,1842.6 119.7,1842.4 120.7,1842.2 121.7,1842.1 122.7,1841.9 123.7,1841.7 124.7,1841.6 125.7,1841.4 126.7,1841.2 127.7,1841.1 128.7,1840.9 129.7,1840.7 130.7,1840.6 131.7,1840.4 132.7,1840.2 133.7,1840.1 134.7,1839.9 135.8,1839.7 136.8,1839.6 137.8,1839.4 138.8,1839.2 139.8,1839.1 140.8,1838.9 141.8,1838.7 142.8,1838.6 143.8,1838.4 144.8,1838.2 145.8,1838.1 146.8,1837.9 147.8,1837.7 148.8,1837.6 149.8,1837.4 150.8,1837.2 151.8,1837.1 152.8,1836.9 153.8,1836.7 154.8,1836.6 155.8,1836.4 156.8,1836.2 157.8,1836.1 158.8,1835.9 159.8,1835.7 160.8,1835.6 161.8,1835.4 162.8,1835.2 163.8,1835.1 164.8,1834.9 165.8,1834.7 166.8,1834.6 167.8,1834.4 168.8,1834.2 169.8,1834 170.8,1833.9 171.8,1833.7 172.8,1833.5 173.8,1833.4 174.8,1833.2 175.8,1833 176.8,1832.9 177.8,1832.7 178.8,1832.5 179.8,1832.4 180.8,1832.2 181.8,1832 182.8,1831.9 183.8,1831.7 184.8,1831.5 185.8,1831.4 186.8,1831.2 187.8,1831 188.8,1830.9 189.9,1830.7 190.9,1830.5 191.9,1830.4 192.9,1830.2 193.9,1830 194.9,1829.9 195.9,1829.7 196.9,1829.5 197.9,1829.4 198.9,1829.2 199.9,1829 200.9,1828.9 201.9,1828.7 202.9,1828.5 203.9,1828.4 204.9,1828.2 205.9,1828 206.9,1827.8 207.9,1827.7 208.9,1827.5 209.9,1827.3 210.9,1827.2 211.9,1827 212.9,1826.8 213.9,1826.6 214.9,1826.5 215.9,1826.3 216.9,1826.1 217.9,1825.9 218.9,1825.8 219.9,1825.6 220.9,1825.4 221.9,1825.2 222.9,1825.1 223.9,1824.9 224.9,1824.7 225.9,1824.5 226.9,1824.3 227.9,1824.2 228.9,1824 229.9,1823.8 230.9,1823.6 231.9,1823.5 232.9,1823.3 233.9,1823.1 234.9,1822.9 235.9,1822.8 236.9,1822.6 237.9,1822.4 238.9,1822.2 239.9,1822 240.9,1821.9 241.9,1821.7 242.9,1821.5 244,1821.3 245,1821.2 246,1821 247,1820.8 248,1820.6 249,1820.5 250,1820.3 251,1820.1 252,1820 253,1819.8 254,1819.6 255,1819.4 256,1819.3 257,1819.1 258,1818.9 259,1818.8 260,1818.6 261,1818.4 262,1818.3 263,1818.1 264,1817.9 265,1817.8 266,1817.6 267,1817.5 268,1817.3 269,1817.1 270,1817 271,1816.8 272,1816.7 273,1816.5 274,1816.3 275,1816.2 276,1816 277,1815.9 278,1815.7 279,1815.6 280,1815.4 281,1815.3 282,1815.1 283,1815 284,1814.9 285,1814.7 286,1814.6 287,1814.4 288,1814.3 289,1814.1 290,1814 291,1813.9 292,1813.7 293,1813.6 294,1813.5 295,1813.3 296,1813.2 297,1813.1 298,1812.9 299.1,1812.8 300.1,1812.7 301.1,1812.6 302.1,1812.4 303.1,1812.3 304.1,1812.2 305.1,1812.1 306.1,1811.9 307.1,1811.8 308.1,1811.7 309.1,1811.6 310.1,1811.4 311.1,1811.3 312.1,1811.2 313.1,1811.1 314.1,1811 315.1,1810.8 316.1,1810.7 317.1,1810.6 318.1,1810.5 319.1,1810.4 320.1,1810.3 321.1,1810.1 322.1,1810 323.1,1809.9 324.1,1809.8 325.1,1809.7 326.1,1809.6 327.1,1809.5 328.1,1809.3 329.1,1809.2 330.1,1809.1 331.1,1809 332.1,1808.9 333.1,1808.8 334.1,1808.7 335.1,1808.6 336.1,1808.5 337.1,1808.3 338.1,1808.2 339.1,1808.1 340.1,1808 341.1,1807.9 342.1,1807.8 343.1,1807.7 344.1,1807.6 345.1,1807.5 346.1,1807.4 347.1,1807.3 348.1,1807.1 349.1,1807 350.1,1806.9 351.1,1806.8 352.1,1806.7 353.2,1806.6 354.2,1806.5 355.2,1806.4 356.2,1806.3 357.2,1806.2 358.2,1806.1 359.2,1805.9 360.2,1805.8 361.2,1805.7 362.2,1805.6 363.2,1805.5 364.2,1805.4 365.2,1805.3 366.2,1805.2 367.2,1805.1 368.2,1805 369.2,1804.8 370.2,1804.7 371.2,1804.6 372.2,1804.5 373.2,1804.4 374.2,1804.3 375.2,1804.2 376.2,1804 377.2,1803.9 378.2,1803.8 379.2,1803.7 380.2,1803.6 381.2,1803.5 382.2,1803.4 383.2,1803.2 384.2,1803.1 385.2,1803 386.2,1802.9 387.2,1802.8 388.2,1802.7 389.2,1802.6 390.2,1802.4 391.2,1802.3 392.2,1802.2 393.2,1802.1 394.2,1802 395.2,1801.9 396.2,1801.7 397.2,1801.6 398.2,1801.5 399.2,1801.4 400.2,1801.3 401.2,1801.2 402.2,1801 403.2,1800.9 404.2,1800.8 405.2,1800.7 406.2,1800.6 407.2,1800.5 408.3,1800.3 409.3,1800.2 410.3,1800.1 411.3,1800 412.3,1799.9 413.3,1799.8 414.3,1799.7 415.3,1799.5 416.3,1799.4 417.3,1799.3 418.3,1799.2 419.3,1799.1 420.3,1799 421.3,1798.8 422.3,1798.7 423.3,1798.6 424.3,1798.5 425.3,1798.4 426.3,1798.3 427.3,1798.1 428.3,1798 429.3,1797.9 430.3,1797.8 431.3,1797.7 432.3,1797.6 433.3,1797.5 434.3,1797.3 435.3,1797.2 436.3,1797.1 437.3,1797 438.3,1796.9 439.3,1796.8 440.3,1796.6 441.3,1796.5 442.3,1796.4 443.3,1796.3 444.3,1796.2 445.3,1796.1 446.3,1796 447.3,1795.8 448.3,1795.7 449.3,1795.6 450.3,1795.5 451.3,1795.4 452.3,1795.3 453.3,1795.1 454.3,1795 455.3,1794.9 456.3,1794.8 457.3,1794.7 458.3,1794.6 459.3,1794.5 460.3,1794.3 461.3,1794.2 462.4,1794.1 463.4,1794 464.4,1793.9 465.4,1793.8 466.4,1793.7 467.4,1793.5 468.4,1793.4 469.4,1793.3 470.4,1793.2 471.4,1793.1 472.4,1793 473.4,1792.9 474.4,1792.7 475.4,1792.6 476.4,1792.5 477.4,1792.4 478.4,1792.3 479.4,1792.2 480.4,1792.1 481.4,1792 482.4,1791.8 483.4,1791.7 484.4,1791.6 485.4,1791.5 486.4,1791.4 487.4,1791.3 488.4,1791.2 489.4,1791 490.4,1790.9 491.4,1790.8 492.4,1790.7 493.4,1790.6 494.4,1790.5 495.4,1790.4 496.4,1790.3 497.4,1790.1 498.4,1790 499.4,1789.9 500.4,1789.8 501.4,1789.7 502.4,1789.6 503.4,1789.5 504.4,1789.4 505.4,1789.2 506.4,1789.1 507.4,1789 508.4,1788.9 509.4,1788.8 510.4,1788.7 511.4,1788.6 512.4,1788.5 513.4,1788.3 514.4,1788.2 515.4,1788.1 516.5,1788 517.5,1787.9 518.5,1787.8 519.5,1787.7 520.5,1787.6 521.5,1787.5 522.5,1787.3 523.5,1787.2 524.5,1787.1 525.5,1787 526.5,1786.9 527.5,1786.8 528.5,1786.7 529.5,1786.6 530.5,1786.4 531.5,1786.3 532.5,1786.2 533.5,1786.1 534.5,1786 535.5,1785.9 536.5,1785.8 537.5,1785.7 538.5,1785.6 539.5,1785.4 540.5,1785.3 541.5,1785.2 542.5,1785.1 543.5,1785" fill="none" stroke="#000" stroke-width="2.5" stroke-linejoin="round"/>
</g>
<rect x="86.4" y="1197.4" width="478.6" height="804" fill="none" stroke="#55505c" stroke-width="1.7"/>
<rect x="86.4" y="1160" width="478.6" height="37.4" fill="#cce0fa" stroke="#2a3050" stroke-width="1.4"/>
<path d="M86.4 1197.4H565" stroke="#101828" stroke-width="2.3"/>
<text x="325.7" y="1185.7" font-size="19.6" text-anchor="middle" fill="#0b1430" stroke="#0b1430" stroke-width="0.35">Acupuncture</text>
<text x="107.5" y="2026.7" font-size="18" text-anchor="middle" fill="#3e3b42">0</text>
<text x="198.6" y="2026.7" font-size="18" text-anchor="middle" fill="#3e3b42">5</text>
<text x="289.7" y="2026.7" font-size="18" text-anchor="middle" fill="#3e3b42">10</text>
<text x="380.8" y="2026.7" font-size="18" text-anchor="middle" fill="#3e3b42">15</text>
<text x="471.9" y="2026.7" font-size="18" text-anchor="middle" fill="#3e3b42">20</text>
<text x="563" y="2026.7" font-size="18" text-anchor="middle" fill="#3e3b42">25</text>
<path d="M107.5 2001.4v6M198.6 2001.4v6M289.7 2001.4v6M380.8 2001.4v6M471.9 2001.4v6M563 2001.4v6" stroke="#2e2e2e" stroke-width="2.2"/>
<text x="73.8" y="1992.6" font-size="18" text-anchor="end" fill="#3e3b42">0.0</text>
<text x="73.8" y="1799.4" font-size="18" text-anchor="end" fill="#3e3b42">0.2</text>
<text x="73.8" y="1606.2" font-size="18" text-anchor="end" fill="#3e3b42">0.4</text>
<text x="73.8" y="1413" font-size="18" text-anchor="end" fill="#3e3b42">0.6</text>
<text x="73.8" y="1219.8" font-size="18" text-anchor="end" fill="#3e3b42">0.8</text>
<path d="M86.4 1986.1h-6M86.4 1792.9h-6M86.4 1599.7h-6M86.4 1406.5h-6M86.4 1213.3h-6" stroke="#2e2e2e" stroke-width="2.2"/>
<clipPath id="bl_1"><rect x="578.5" y="1197.4" width="478.5" height="804"/></clipPath>
<g clip-path="url(#bl_1)">
<path d="M645.4 1197.4V2001.4M736.3 1197.4V2001.4M827.3 1197.4V2001.4M918.2 1197.4V2001.4M1009.2 1197.4V2001.4M578.5 1889.5H1057M578.5 1696.3H1057M578.5 1503.1H1057M578.5 1309.9H1057" stroke="#fafafa" stroke-width="1" fill="none"/>
<path d="M599.9 1197.4V2001.4M690.9 1197.4V2001.4M781.8 1197.4V2001.4M872.8 1197.4V2001.4M963.7 1197.4V2001.4M1054.7 1197.4V2001.4M578.5 1986.1H1057M578.5 1792.9H1057M578.5 1599.7H1057M578.5 1406.5H1057M578.5 1213.3H1057" stroke="#f0f0f0" stroke-width="1.4" fill="none"/>
<polygon points="670,1454.8 672.1,1452.3 674.3,1449.9 676.4,1447.6 678.6,1445.2 680.7,1443 682.8,1440.7 685,1438.5 687.1,1436.4 689.3,1434.3 691.4,1432.2 691.4,1949.4 689.3,1949.7 687.1,1950.1 685,1950.4 682.8,1950.8 680.7,1951.1 678.6,1951.5 676.4,1951.9 674.3,1952.2 672.1,1952.6 670,1953" fill="#f3f5f3"/>
<polygon points="737.5,1394.8 739.6,1393.3 741.8,1391.8 743.9,1390.3 746.1,1388.9 748.2,1387.4 750.3,1386 752.5,1384.6 754.6,1383.1 756.8,1381.8 758.9,1380.4 758.9,1938.9 756.8,1939.2 754.6,1939.6 752.5,1939.9 750.3,1940.2 748.2,1940.5 746.1,1940.8 743.9,1941.1 741.8,1941.5 739.6,1941.8 737.5,1942.1" fill="#e7ebe8"/>
<polygon points="800.3,1355.7 802.4,1354.5 804.5,1353.2 806.6,1352 808.7,1350.8 810.8,1349.5 812.9,1348.3 815,1347.1 817.1,1345.9 819.3,1344.6 821.4,1343.4 823.5,1342.2 825.6,1340.9 827.7,1339.7 829.8,1338.5 831.9,1337.3 834,1336.1 836.1,1334.8 836.1,1928.1 834,1928.4 831.9,1928.7 829.8,1929 827.7,1929.3 825.6,1929.6 823.5,1929.8 821.4,1930.1 819.3,1930.4 817.1,1930.7 815,1931 812.9,1931.3 810.8,1931.5 808.7,1931.8 806.6,1932.1 804.5,1932.4 802.4,1932.7 800.3,1933" fill="#056505"/>
<polygon points="872.5,1314 874.5,1312.9 876.5,1311.8 878.6,1310.7 880.6,1309.6 882.6,1308.5 884.6,1307.4 886.7,1306.3 888.7,1305.3 890.7,1304.2 890.7,1921 888.7,1921.3 886.7,1921.5 884.6,1921.8 882.6,1922.1 880.6,1922.3 878.6,1922.6 876.5,1922.8 874.5,1923.1 872.5,1923.4" fill="#e7eae8"/>
<polygon points="1019.3,1241.2 1021.4,1240.3 1023.6,1239.5 1025.7,1238.6 1027.8,1237.8 1030,1237 1032.1,1236.2 1034.3,1235.5 1036.4,1235 1036.4,1898.9 1034.3,1899.2 1032.1,1899.6 1030,1899.9 1027.8,1900.3 1025.7,1900.6 1023.6,1901 1021.4,1901.3 1019.3,1901.7" fill="#e8eae8"/>
<polyline points="599.8,1589.3 600.8,1586.1 601.8,1583 602.8,1579.8 603.8,1576.7 604.8,1573.6 605.8,1570.5 606.8,1567.4 607.8,1564.4 608.8,1561.4 609.8,1558.4 610.8,1555.5 611.8,1552.6 612.8,1549.7 613.8,1546.9 614.8,1544.1 615.8,1541.3 616.8,1538.6 617.8,1535.9 618.8,1533.3 619.8,1530.8 620.8,1528.3 621.8,1525.9 622.8,1523.6 623.8,1521.3 624.8,1519.1 625.8,1517 626.8,1515 627.8,1513 628.8,1511.1 629.8,1509.2 630.8,1507.4 631.9,1505.7 632.9,1503.9 633.9,1502.3 634.9,1500.6 635.9,1499 636.9,1497.5 637.9,1495.9 638.9,1494.4 639.9,1492.9 640.9,1491.4 641.9,1490 642.9,1488.5 643.9,1487.1 644.9,1485.7 645.9,1484.4 646.9,1483 647.9,1481.7 648.9,1480.3 649.9,1479 650.9,1477.7 651.9,1476.4 652.9,1475.2 653.9,1473.9 654.9,1472.7 655.9,1471.4 656.9,1470.2 657.9,1469 658.9,1467.8 659.9,1466.6 660.9,1465.4 661.9,1464.2 662.9,1463 663.9,1461.8 664.9,1460.7 665.9,1459.5 666.9,1458.3 667.9,1457.2 668.9,1456 669.9,1454.9 670.9,1453.7 671.9,1452.6 672.9,1451.5 673.9,1450.3 674.9,1449.2 675.9,1448.1 676.9,1447 677.9,1445.9 678.9,1444.9 679.9,1443.8 680.9,1442.7 681.9,1441.7 682.9,1440.6 683.9,1439.6 684.9,1438.6 685.9,1437.6 686.9,1436.6 687.9,1435.6 688.9,1434.6 689.9,1433.6 690.9,1432.7 691.9,1431.7 692.9,1430.8 694,1429.8 695,1428.9 696,1428 697,1427.1 698,1426.2 699,1425.3 700,1424.4 701,1423.5 702,1422.7 703,1421.8 704,1420.9 705,1420.1 706,1419.2 707,1418.4 708,1417.5 709,1416.7 710,1415.9 711,1415.1 712,1414.3 713,1413.4 714,1412.6 715,1411.8 716,1411 717,1410.2 718,1409.5 719,1408.7 720,1407.9 721,1407.1 722,1406.3 723,1405.6 724,1404.8 725,1404.1 726,1403.3 727,1402.5 728,1401.8 729,1401 730,1400.3 731,1399.6 732,1398.8 733,1398.1 734,1397.4 735,1396.6 736,1395.9 737,1395.2 738,1394.5 739,1393.7 740,1393 741,1392.3 742,1391.6 743,1390.9 744,1390.2 745,1389.6 746,1388.9 747,1388.2 748,1387.5 749,1386.8 750,1386.2 751,1385.5 752,1384.8 753,1384.2 754,1383.5 755,1382.9 756.1,1382.2 757.1,1381.6 758.1,1380.9 759.1,1380.3 760.1,1379.6 761.1,1379 762.1,1378.4 763.1,1377.7 764.1,1377.1 765.1,1376.5 766.1,1375.8 767.1,1375.2 768.1,1374.6 769.1,1374 770.1,1373.4 771.1,1372.8 772.1,1372.1 773.1,1371.5 774.1,1370.9 775.1,1370.3 776.1,1369.7 777.1,1369.1 778.1,1368.5 779.1,1368 780.1,1367.4 781.1,1366.8 782.1,1366.2 783.1,1365.6 784.1,1365 785.1,1364.5 786.1,1363.9 787.1,1363.3 788.1,1362.7 789.1,1362.1 790.1,1361.6 791.1,1361 792.1,1360.4 793.1,1359.8 794.1,1359.3 795.1,1358.7 796.1,1358.1 797.1,1357.5 798.1,1356.9 799.1,1356.4 800.1,1355.8 801.1,1355.2 802.1,1354.6 803.1,1354 804.1,1353.5 805.1,1352.9 806.1,1352.3 807.1,1351.7 808.1,1351.1 809.1,1350.5 810.1,1350 811.1,1349.4 812.1,1348.8 813.1,1348.2 814.1,1347.6 815.1,1347 816.1,1346.4 817.1,1345.9 818.2,1345.3 819.2,1344.7 820.2,1344.1 821.2,1343.5 822.2,1342.9 823.2,1342.3 824.2,1341.8 825.2,1341.2 826.2,1340.6 827.2,1340 828.2,1339.4 829.2,1338.9 830.2,1338.3 831.2,1337.7 832.2,1337.1 833.2,1336.5 834.2,1335.9 835.2,1335.4 836.2,1334.8 837.2,1334.2 838.2,1333.6 839.2,1333 840.2,1332.5 841.2,1331.9 842.2,1331.3 843.2,1330.7 844.2,1330.1 845.2,1329.6 846.2,1329 847.2,1328.4 848.2,1327.8 849.2,1327.2 850.2,1326.7 851.2,1326.1 852.2,1325.5 853.2,1324.9 854.2,1324.4 855.2,1323.8 856.2,1323.2 857.2,1322.6 858.2,1322.1 859.2,1321.5 860.2,1320.9 861.2,1320.3 862.2,1319.8 863.2,1319.2 864.2,1318.6 865.2,1318.1 866.2,1317.5 867.2,1316.9 868.2,1316.4 869.2,1315.8 870.2,1315.3 871.2,1314.7 872.2,1314.2 873.2,1313.6 874.2,1313 875.2,1312.5 876.2,1311.9 877.2,1311.4 878.2,1310.9 879.2,1310.3 880.3,1309.8 881.3,1309.2 882.3,1308.7 883.3,1308.1 884.3,1307.6 885.3,1307.1 886.3,1306.5 887.3,1306 888.3,1305.5 889.3,1304.9 890.3,1304.4 891.3,1303.9 892.3,1303.3 893.3,1302.8 894.3,1302.3 895.3,1301.8 896.3,1301.2 897.3,1300.7 898.3,1300.2 899.3,1299.6 900.3,1299.1 901.3,1298.6 902.3,1298.1 903.3,1297.5 904.3,1297 905.3,1296.5 906.3,1295.9 907.3,1295.4 908.3,1294.9 909.3,1294.4 910.3,1293.8 911.3,1293.3 912.3,1292.8 913.3,1292.2 914.3,1291.7 915.3,1291.1 916.3,1290.6 917.3,1290.1 918.3,1289.5 919.3,1289 920.3,1288.4 921.3,1287.9 922.3,1287.3 923.3,1286.8 924.3,1286.2 925.3,1285.6 926.3,1285.1 927.3,1284.5 928.3,1284 929.3,1283.4 930.3,1282.9 931.3,1282.3 932.3,1281.7 933.3,1281.2 934.3,1280.6 935.3,1280.1 936.3,1279.5 937.3,1279 938.3,1278.4 939.3,1277.9 940.3,1277.4 941.3,1276.8 942.4,1276.3 943.4,1275.8 944.4,1275.2 945.4,1274.7 946.4,1274.2 947.4,1273.7 948.4,1273.2 949.4,1272.7 950.4,1272.2 951.4,1271.7 952.4,1271.2 953.4,1270.8 954.4,1270.3 955.4,1269.8 956.4,1269.4 957.4,1268.9 958.4,1268.5 959.4,1268.1 960.4,1267.7 961.4,1267.2 962.4,1266.8 963.4,1266.4 964.4,1266 965.4,1265.6 966.4,1265.2 967.4,1264.8 968.4,1264.5 969.4,1264.1 970.4,1263.7 971.4,1263.3 972.4,1262.9 973.4,1262.5 974.4,1262.1 975.4,1261.7 976.4,1261.3 977.4,1260.9 978.4,1260.5 979.4,1260.1 980.4,1259.7 981.4,1259.3 982.4,1258.8 983.4,1258.4 984.4,1257.9 985.4,1257.5 986.4,1257 987.4,1256.5 988.4,1256 989.4,1255.5 990.4,1255.1 991.4,1254.5 992.4,1254 993.4,1253.5 994.4,1253 995.4,1252.5 996.4,1252 997.4,1251.5 998.4,1250.9 999.4,1250.4 1000.4,1249.9 1001.4,1249.4 1002.4,1248.9 1003.4,1248.4 1004.5,1247.9 1005.5,1247.4 1006.5,1246.9 1007.5,1246.4 1008.5,1246 1009.5,1245.5 1010.5,1245 1011.5,1244.6 1012.5,1244.1 1013.5,1243.7 1014.5,1243.2 1015.5,1242.8 1016.5,1242.4 1017.5,1242 1018.5,1241.5 1019.5,1241.1 1020.5,1240.7 1021.5,1240.3 1022.5,1239.9 1023.5,1239.5 1024.5,1239.1 1025.5,1238.7 1026.5,1238.3 1027.5,1238 1028.5,1237.6 1029.5,1237.2 1030.5,1236.8 1031.5,1236.5 1032.5,1236.1 1033.5,1235.7 1034.5,1235.4 1035.5,1235" fill="none" stroke="#000" stroke-width="2.6" stroke-dasharray="9.5 9" stroke-linejoin="round"/>
<polyline points="599.9,1966 600.9,1965.8 601.9,1965.6 602.9,1965.4 603.9,1965.2 604.9,1965 605.9,1964.8 606.9,1964.6 607.9,1964.4 608.9,1964.2 609.9,1964.1 610.9,1963.9 611.9,1963.7 612.9,1963.5 613.9,1963.3 614.9,1963.1 615.9,1962.9 616.9,1962.7 617.9,1962.5 618.9,1962.3 619.9,1962.1 620.9,1961.9 621.9,1961.7 622.9,1961.6 623.9,1961.4 624.9,1961.2 625.9,1961 626.9,1960.8 627.9,1960.6 628.9,1960.4 629.9,1960.2 630.9,1960 631.9,1959.9 632.9,1959.7 633.9,1959.5 634.9,1959.3 635.9,1959.1 636.9,1958.9 637.9,1958.7 638.9,1958.6 639.9,1958.4 640.9,1958.2 641.9,1958 642.9,1957.8 643.9,1957.6 644.9,1957.5 645.9,1957.3 646.9,1957.1 647.9,1956.9 648.9,1956.7 649.9,1956.5 650.9,1956.4 651.9,1956.2 652.9,1956 653.9,1955.8 654.9,1955.6 655.9,1955.5 656.9,1955.3 657.9,1955.1 658.9,1954.9 659.9,1954.8 660.9,1954.6 661.9,1954.4 662.9,1954.2 663.9,1954 664.9,1953.9 665.9,1953.7 666.9,1953.5 667.9,1953.3 668.9,1953.2 669.9,1953 670.9,1952.8 671.9,1952.6 672.9,1952.5 673.9,1952.3 674.9,1952.1 675.9,1952 676.9,1951.8 677.9,1951.6 678.9,1951.4 679.9,1951.3 680.9,1951.1 681.9,1950.9 682.9,1950.8 683.9,1950.6 684.9,1950.4 685.9,1950.3 686.9,1950.1 687.9,1949.9 688.9,1949.8 689.9,1949.6 690.9,1949.4 691.9,1949.3 692.9,1949.1 693.9,1948.9 694.9,1948.8 695.9,1948.6 696.9,1948.4 697.9,1948.3 698.9,1948.1 699.9,1948 700.9,1947.8 701.9,1947.6 702.9,1947.5 703.9,1947.3 704.9,1947.2 705.9,1947 706.9,1946.8 707.9,1946.7 708.9,1946.5 709.9,1946.4 710.9,1946.2 711.9,1946 712.9,1945.9 713.9,1945.7 714.9,1945.6 715.9,1945.4 716.9,1945.3 717.9,1945.1 718.9,1944.9 719.9,1944.8 720.9,1944.6 721.9,1944.5 722.9,1944.3 723.9,1944.2 724.9,1944 725.9,1943.9 726.9,1943.7 727.9,1943.6 728.9,1943.4 729.9,1943.2 730.9,1943.1 731.9,1942.9 732.9,1942.8 733.9,1942.6 734.9,1942.5 735.9,1942.3 736.9,1942.2 737.9,1942 738.9,1941.9 739.9,1941.7 740.9,1941.6 741.9,1941.4 742.9,1941.3 743.9,1941.1 744.9,1941 745.9,1940.8 746.9,1940.7 747.9,1940.5 748.9,1940.4 749.9,1940.2 750.9,1940.1 751.9,1939.9 752.9,1939.8 753.9,1939.7 754.9,1939.5 755.9,1939.4 756.9,1939.2 757.9,1939.1 758.9,1938.9 759.9,1938.8 760.9,1938.6 761.9,1938.5 762.9,1938.3 763.9,1938.2 764.9,1938 765.9,1937.9 766.9,1937.8 767.9,1937.6 768.9,1937.5 769.9,1937.3 770.9,1937.2 771.9,1937 772.9,1936.9 773.9,1936.7 774.9,1936.6 775.9,1936.5 776.9,1936.3 777.9,1936.2 778.9,1936 779.9,1935.9 780.9,1935.7 781.9,1935.6 782.9,1935.5 783.9,1935.3 784.9,1935.2 785.9,1935 786.9,1934.9 787.9,1934.7 788.9,1934.6 789.9,1934.5 790.9,1934.3 791.9,1934.2 792.9,1934 793.9,1933.9 794.9,1933.8 795.9,1933.6 796.9,1933.5 797.9,1933.3 798.9,1933.2 799.9,1933.1 800.9,1932.9 801.9,1932.8 802.9,1932.6 803.9,1932.5 804.9,1932.4 805.9,1932.2 806.9,1932.1 807.9,1931.9 808.9,1931.8 809.9,1931.7 810.9,1931.5 811.9,1931.4 812.9,1931.3 813.9,1931.1 814.9,1931 815.9,1930.8 816.9,1930.7 818,1930.6 819,1930.4 820,1930.3 821,1930.2 822,1930 823,1929.9 824,1929.8 825,1929.6 826,1929.5 827,1929.4 828,1929.2 829,1929.1 830,1929 831,1928.8 832,1928.7 833,1928.6 834,1928.4 835,1928.3 836,1928.2 837,1928 838,1927.9 839,1927.8 840,1927.6 841,1927.5 842,1927.4 843,1927.2 844,1927.1 845,1927 846,1926.8 847,1926.7 848,1926.6 849,1926.4 850,1926.3 851,1926.2 852,1926 853,1925.9 854,1925.8 855,1925.6 856,1925.5 857,1925.4 858,1925.3 859,1925.1 860,1925 861,1924.9 862,1924.7 863,1924.6 864,1924.5 865,1924.3 866,1924.2 867,1924.1 868,1924 869,1923.8 870,1923.7 871,1923.6 872,1923.4 873,1923.3 874,1923.2 875,1923.1 876,1922.9 877,1922.8 878,1922.7 879,1922.5 880,1922.4 881,1922.3 882,1922.1 883,1922 884,1921.9 885,1921.8 886,1921.6 887,1921.5 888,1921.4 889,1921.2 890,1921.1 891,1921 892,1920.8 893,1920.7 894,1920.6 895,1920.5 896,1920.3 897,1920.2 898,1920.1 899,1919.9 900,1919.8 901,1919.7 902,1919.5 903,1919.4 904,1919.3 905,1919.1 906,1919 907,1918.9 908,1918.7 909,1918.6 910,1918.4 911,1918.3 912,1918.2 913,1918 914,1917.9 915,1917.8 916,1917.6 917,1917.5 918,1917.3 919,1917.2 920,1917.1 921,1916.9 922,1916.8 923,1916.6 924,1916.5 925,1916.4 926,1916.2 927,1916.1 928,1915.9 929,1915.8 930,1915.6 931,1915.5 932,1915.3 933,1915.2 934,1915.1 935,1914.9 936,1914.8 937,1914.6 938,1914.5 939,1914.3 940,1914.2 941,1914 942,1913.9 943,1913.7 944,1913.6 945,1913.4 946,1913.3 947,1913.1 948,1913 949,1912.8 950,1912.7 951,1912.5 952,1912.4 953,1912.2 954,1912.1 955,1911.9 956,1911.8 957,1911.6 958,1911.4 959,1911.3 960,1911.1 961,1911 962,1910.8 963,1910.7 964,1910.5 965,1910.4 966,1910.2 967,1910.1 968,1909.9 969,1909.7 970,1909.6 971,1909.4 972,1909.3 973,1909.1 974,1909 975,1908.8 976,1908.7 977,1908.5 978,1908.3 979,1908.2 980,1908 981,1907.9 982,1907.7 983,1907.6 984,1907.4 985,1907.2 986,1907.1 987,1906.9 988,1906.8 989,1906.6 990,1906.4 991,1906.3 992,1906.1 993,1906 994,1905.8 995,1905.6 996,1905.5 997,1905.3 998,1905.2 999,1905 1000,1904.8 1001,1904.7 1002,1904.5 1003,1904.4 1004,1904.2 1005,1904 1006,1903.9 1007,1903.7 1008,1903.5 1009,1903.4 1010,1903.2 1011,1903.1 1012,1902.9 1013,1902.7 1014,1902.6 1015,1902.4 1016,1902.2 1017,1902.1 1018,1901.9 1019,1901.7 1020,1901.6 1021,1901.4 1022,1901.2 1023,1901.1 1024,1900.9 1025,1900.7 1026,1900.6 1027,1900.4 1028,1900.2 1029,1900.1 1030,1899.9 1031,1899.7 1032,1899.6 1033,1899.4 1034,1899.2 1035,1899.1 1036,1898.9" fill="none" stroke="#000" stroke-width="2.6" stroke-dasharray="9.5 9" stroke-linejoin="round"/>
<polyline points="599.3,1843.6 600.3,1842.4 601.3,1841.2 602.3,1839.9 603.3,1838.7 604.3,1837.5 605.3,1836.3 606.3,1835.1 607.3,1833.9 608.3,1832.8 609.3,1831.6 610.3,1830.5 611.3,1829.3 612.3,1828.2 613.3,1827.1 614.3,1826 615.3,1824.9 616.3,1823.8 617.3,1822.7 618.3,1821.7 619.3,1820.6 620.3,1819.6 621.3,1818.6 622.3,1817.6 623.3,1816.6 624.3,1815.6 625.3,1814.6 626.3,1813.7 627.3,1812.7 628.3,1811.8 629.3,1810.8 630.3,1809.9 631.3,1809 632.3,1808.1 633.3,1807.2 634.3,1806.4 635.3,1805.5 636.3,1804.6 637.3,1803.8 638.3,1802.9 639.3,1802.1 640.3,1801.2 641.3,1800.4 642.3,1799.5 643.3,1798.7 644.3,1797.9 645.3,1797 646.3,1796.2 647.3,1795.4 648.3,1794.6 649.3,1793.7 650.3,1792.9 651.3,1792.1 652.3,1791.3 653.3,1790.5 654.3,1789.7 655.3,1788.8 656.3,1788 657.3,1787.2 658.3,1786.4 659.3,1785.6 660.3,1784.8 661.3,1784 662.3,1783.2 663.3,1782.5 664.3,1781.7 665.3,1780.9 666.3,1780.1 667.3,1779.3 668.3,1778.5 669.3,1777.8 670.3,1777 671.3,1776.2 672.3,1775.5 673.3,1774.7 674.3,1773.9 675.3,1773.2 676.3,1772.4 677.3,1771.6 678.3,1770.9 679.3,1770.1 680.3,1769.4 681.3,1768.6 682.3,1767.9 683.3,1767.1 684.3,1766.4 685.3,1765.6 686.3,1764.9 687.3,1764.1 688.3,1763.4 689.3,1762.7 690.3,1761.9 691.3,1761.2 692.3,1760.4 693.3,1759.7 694.3,1759 695.3,1758.3 696.3,1757.5 697.3,1756.8 698.3,1756.1 699.3,1755.4 700.3,1754.7 701.3,1753.9 702.3,1753.2 703.3,1752.5 704.3,1751.8 705.3,1751.1 706.3,1750.4 707.3,1749.7 708.3,1749 709.3,1748.3 710.3,1747.6 711.3,1746.9 712.3,1746.2 713.3,1745.5 714.3,1744.8 715.3,1744.1 716.3,1743.4 717.3,1742.7 718.3,1742 719.3,1741.4 720.3,1740.7 721.3,1740 722.3,1739.3 723.3,1738.6 724.3,1737.9 725.3,1737.2 726.3,1736.5 727.3,1735.9 728.3,1735.2 729.3,1734.5 730.3,1733.8 731.3,1733.1 732.3,1732.4 733.3,1731.8 734.3,1731.1 735.3,1730.4 736.3,1729.7 737.3,1729 738.3,1728.3 739.3,1727.7 740.3,1727 741.3,1726.3 742.3,1725.6 743.3,1724.9 744.3,1724.2 745.3,1723.6 746.3,1722.9 747.3,1722.2 748.3,1721.5 749.3,1720.9 750.3,1720.2 751.3,1719.5 752.3,1718.9 753.3,1718.2 754.3,1717.6 755.3,1716.9 756.3,1716.3 757.3,1715.6 758.3,1715 759.3,1714.4 760.3,1713.7 761.3,1713.1 762.3,1712.5 763.3,1711.9 764.3,1711.3 765.3,1710.7 766.3,1710.1 767.3,1709.5 768.3,1708.9 769.3,1708.3 770.3,1707.7 771.3,1707.1 772.3,1706.5 773.3,1705.9 774.3,1705.3 775.3,1704.8 776.3,1704.2 777.3,1703.6 778.3,1703 779.3,1702.5 780.3,1701.9 781.3,1701.3 782.3,1700.8 783.3,1700.2 784.3,1699.6 785.3,1699.1 786.3,1698.5 787.3,1697.9 788.3,1697.4 789.3,1696.8 790.3,1696.2 791.3,1695.7 792.3,1695.1 793.3,1694.6 794.3,1694 795.3,1693.4 796.3,1692.9 797.3,1692.3 798.3,1691.7 799.3,1691.2 800.3,1690.6 801.3,1690.1 802.3,1689.5 803.3,1689 804.3,1688.4 805.3,1687.8 806.3,1687.3 807.3,1686.8 808.3,1686.2 809.3,1685.7 810.3,1685.1 811.3,1684.6 812.3,1684.1 813.3,1683.5 814.3,1683 815.3,1682.4 816.3,1681.9 817.4,1681.4 818.4,1680.8 819.4,1680.3 820.4,1679.7 821.4,1679.2 822.4,1678.6 823.4,1678 824.4,1677.5 825.4,1676.9 826.4,1676.3 827.4,1675.7 828.4,1675.1 829.4,1674.5 830.4,1673.9 831.4,1673.3 832.4,1672.6 833.4,1672 834.4,1671.3 835.4,1670.6 836.4,1669.9 837.4,1669.2 838.4,1668.5 839.4,1667.8 840.4,1667 841.4,1666.2 842.4,1665.5 843.4,1664.7 844.4,1664 845.4,1663.2 846.4,1662.5 847.4,1661.7 848.4,1661 849.4,1660.3 850.4,1659.6 851.4,1659 852.4,1658.4 853.4,1657.7 854.4,1657.1 855.4,1656.6 856.4,1656 857.4,1655.5 858.4,1654.9 859.4,1654.4 860.4,1653.9 861.4,1653.4 862.4,1652.9 863.4,1652.4 864.4,1651.9 865.4,1651.5 866.4,1651 867.4,1650.5 868.4,1650 869.4,1649.5 870.4,1649 871.4,1648.5 872.4,1648 873.4,1647.5 874.4,1647 875.4,1646.5 876.4,1646 877.4,1645.5 878.4,1645 879.4,1644.4 880.4,1643.9 881.4,1643.4 882.4,1642.8 883.4,1642.3 884.4,1641.8 885.4,1641.2 886.4,1640.7 887.4,1640.1 888.4,1639.6 889.4,1639.1 890.4,1638.5 891.4,1638 892.4,1637.4 893.4,1636.9 894.4,1636.3 895.4,1635.8 896.4,1635.2 897.4,1634.6 898.4,1634.1 899.4,1633.5 900.4,1633 901.4,1632.4 902.4,1631.9 903.4,1631.3 904.4,1630.8 905.4,1630.2 906.4,1629.7 907.4,1629.1 908.4,1628.6 909.4,1628 910.4,1627.5 911.4,1626.9 912.4,1626.4 913.4,1625.8 914.4,1625.3 915.4,1624.7 916.4,1624.2 917.4,1623.7 918.4,1623.1 919.4,1622.6 920.4,1622.1 921.4,1621.5 922.4,1621 923.4,1620.5 924.4,1619.9 925.4,1619.4 926.4,1618.9 927.4,1618.4 928.4,1617.9 929.4,1617.3 930.4,1616.8 931.4,1616.3 932.4,1615.8 933.4,1615.3 934.4,1614.8 935.4,1614.2 936.4,1613.7 937.4,1613.2 938.4,1612.7 939.4,1612.2 940.4,1611.7 941.4,1611.2 942.4,1610.7 943.4,1610.2 944.4,1609.6 945.4,1609.1 946.4,1608.6 947.4,1608.1 948.4,1607.6 949.4,1607.1 950.4,1606.6 951.4,1606.1 952.4,1605.6 953.4,1605.1 954.4,1604.6 955.4,1604.1 956.4,1603.6 957.4,1603.1 958.4,1602.6 959.4,1602.1 960.4,1601.6 961.4,1601.1 962.4,1600.6 963.4,1600.2 964.4,1599.7 965.4,1599.2 966.4,1598.7 967.4,1598.2 968.4,1597.7 969.4,1597.2 970.4,1596.7 971.4,1596.3 972.4,1595.8 973.4,1595.3 974.4,1594.8 975.4,1594.3 976.4,1593.9 977.4,1593.4 978.4,1592.9 979.4,1592.4 980.4,1592 981.4,1591.5 982.4,1591 983.4,1590.5 984.4,1590.1 985.4,1589.6 986.4,1589.1 987.4,1588.7 988.4,1588.2 989.4,1587.8 990.4,1587.3 991.4,1586.8 992.4,1586.4 993.4,1585.9 994.4,1585.5 995.4,1585 996.4,1584.6 997.4,1584.2 998.4,1583.7 999.4,1583.3 1000.4,1582.9 1001.4,1582.4 1002.4,1582 1003.4,1581.6 1004.4,1581.2 1005.4,1580.8 1006.4,1580.3 1007.4,1579.9 1008.4,1579.5 1009.4,1579.1 1010.4,1578.7 1011.4,1578.3 1012.4,1577.9 1013.4,1577.5 1014.4,1577.1 1015.4,1576.7 1016.4,1576.3 1017.4,1575.9 1018.4,1575.5 1019.4,1575.2 1020.4,1574.8 1021.4,1574.4 1022.4,1574 1023.4,1573.6 1024.4,1573.3 1025.4,1572.9 1026.4,1572.5 1027.4,1572.2 1028.4,1571.8 1029.4,1571.4 1030.4,1571.1 1031.4,1570.7 1032.4,1570.4 1033.4,1570 1034.4,1569.7 1035.4,1569.3" fill="none" stroke="#000" stroke-width="2.5" stroke-linejoin="round"/>
</g>
<rect x="578.5" y="1197.4" width="478.5" height="804" fill="none" stroke="#55505c" stroke-width="1.7"/>
<rect x="578.5" y="1160" width="478.5" height="37.4" fill="#cce0fa" stroke="#2a3050" stroke-width="1.4"/>
<path d="M578.5 1197.4H1057" stroke="#101828" stroke-width="2.3"/>
<text x="817.8" y="1185.7" font-size="19.6" text-anchor="middle" fill="#0b1430" stroke="#0b1430" stroke-width="0.35">Acupuncture and Medicine</text>
<text x="599.9" y="2026.7" font-size="18" text-anchor="middle" fill="#3e3b42">0</text>
<text x="690.9" y="2026.7" font-size="18" text-anchor="middle" fill="#3e3b42">5</text>
<text x="781.8" y="2026.7" font-size="18" text-anchor="middle" fill="#3e3b42">10</text>
<text x="872.8" y="2026.7" font-size="18" text-anchor="middle" fill="#3e3b42">15</text>
<text x="963.7" y="2026.7" font-size="18" text-anchor="middle" fill="#3e3b42">20</text>
<text x="1054.7" y="2026.7" font-size="18" text-anchor="middle" fill="#3e3b42">25</text>
<path d="M599.9 2001.4v6M690.9 2001.4v6M781.8 2001.4v6M872.8 2001.4v6M963.7 2001.4v6M1054.7 2001.4v6" stroke="#2e2e2e" stroke-width="2.2"/>
<text x="571.8" y="2054.7" font-size="23.7" text-anchor="middle" fill="#111" stroke="#111" stroke-width="0.4">Dose</text>
<text x="35.5" y="1601" font-size="23.7" text-anchor="middle" fill="#111" transform="rotate(-90 35.5 1601)" textLength="213" lengthAdjust="spacingAndGlyphs" stroke="#111" stroke-width="0.4">Predicted response</text>
<text x="1145.1" y="1247.4" font-size="43.7" text-anchor="start" fill="#000" transform="rotate(90 1145.1 1247.4)" textLength="158.4" lengthAdjust="spacingAndGlyphs" stroke="#000" stroke-width="0.7">Duration</text>
<path d="M1098.4 1598.3H1126.7" stroke="#000" stroke-width="2.8" stroke-dasharray="8.6 10"/>
<path d="M1098.4 1636.4H1128.9" stroke="#000" stroke-width="2.8"/>
<text x="1144.8" y="1605.6" font-size="19.6" text-anchor="start" fill="#111" stroke="#111" stroke-width="0.35">95% Interval</text>
<text x="1144.8" y="1643.7" font-size="19.6" text-anchor="start" fill="#111" stroke="#111" stroke-width="0.35">MBNMA</text>
<clipPath id="br_0"><rect x="1322" y="1176.5" width="478.5" height="803.7"/></clipPath>
<g clip-path="url(#br_0)">
<path d="M1415.6 1176.5V1980.2M1561.4 1176.5V1980.2M1707.2 1176.5V1980.2M1322 1897.4H1800.5M1322 1760.6H1800.5M1322 1623.8H1800.5M1322 1487H1800.5M1322 1350.2H1800.5M1322 1213.4H1800.5" stroke="#fafafa" stroke-width="1" fill="none"/>
<path d="M1342.7 1176.5V1980.2M1488.5 1176.5V1980.2M1634.3 1176.5V1980.2M1780.1 1176.5V1980.2M1322 1965.8H1800.5M1322 1829H1800.5M1322 1692.2H1800.5M1322 1555.4H1800.5M1322 1418.6H1800.5M1322 1281.8H1800.5" stroke="#f0f0f0" stroke-width="1.4" fill="none"/>
<polygon points="1620,1769.7 1622.1,1769.6 1624.2,1769.6 1626.2,1769.5 1628.3,1769.4 1630.4,1769.3 1632.5,1769.3 1634.6,1769.2 1636.7,1769.2 1638.8,1769.1 1640.8,1769 1642.9,1769 1645,1768.9 1645,1920.8 1642.9,1921.7 1640.8,1922.7 1638.8,1923.5 1636.7,1924.4 1634.6,1925.2 1632.5,1926 1630.4,1926.8 1628.3,1927.5 1626.2,1928.3 1624.2,1929 1622.1,1929.8 1620,1930.5" fill="#f9fafa"/>
<polygon points="1750,1755.5 1752.1,1754.2 1754.3,1752.8 1756.4,1751.3 1758.5,1749.8 1760.6,1748.3 1762.8,1746.7 1764.9,1745 1767,1743.3 1769.2,1741.6 1771.3,1739.7 1773.4,1737.9 1775.5,1736 1777.7,1734 1779.8,1732.9 1779.8,1813.6 1777.7,1814.3 1775.5,1815.5 1773.4,1816.8 1771.3,1818 1769.2,1819.4 1767,1820.8 1764.9,1822.2 1762.8,1823.7 1760.6,1825.2 1758.5,1826.8 1756.4,1828.4 1754.3,1830.1 1752.1,1831.8 1750,1833.6" fill="#a8c4a8"/>
<polyline points="1342.9,1828.6 1343.9,1828.1 1344.9,1827.6 1345.9,1827.1 1346.9,1826.6 1347.9,1826.1 1348.9,1825.6 1349.9,1825.2 1350.9,1824.7 1351.9,1824.2 1352.9,1823.7 1353.9,1823.2 1354.9,1822.7 1355.9,1822.3 1356.9,1821.8 1357.9,1821.3 1358.9,1820.9 1359.9,1820.4 1360.9,1819.9 1361.9,1819.5 1362.9,1819 1363.9,1818.5 1364.9,1818.1 1365.9,1817.6 1366.9,1817.2 1367.9,1816.8 1368.9,1816.3 1369.9,1815.9 1370.9,1815.4 1371.9,1815 1372.9,1814.6 1373.9,1814.2 1374.9,1813.7 1375.9,1813.3 1376.9,1812.9 1377.9,1812.5 1378.9,1812.1 1379.9,1811.7 1380.9,1811.3 1381.9,1810.9 1382.9,1810.5 1383.9,1810.1 1384.9,1809.7 1385.9,1809.3 1386.9,1808.9 1387.9,1808.5 1388.9,1808.2 1389.9,1807.8 1390.9,1807.4 1391.9,1807 1392.9,1806.7 1393.9,1806.3 1394.9,1805.9 1395.9,1805.6 1396.9,1805.2 1397.9,1804.9 1398.9,1804.5 1399.9,1804.2 1400.9,1803.8 1401.9,1803.5 1402.9,1803.1 1403.9,1802.8 1404.9,1802.4 1405.9,1802.1 1406.9,1801.7 1407.9,1801.4 1408.9,1801.1 1409.9,1800.7 1410.9,1800.4 1411.9,1800 1412.9,1799.7 1413.9,1799.4 1414.9,1799.1 1415.9,1798.7 1416.9,1798.4 1417.9,1798.1 1418.9,1797.8 1419.9,1797.5 1420.9,1797.1 1421.9,1796.8 1422.9,1796.5 1423.9,1796.2 1424.9,1795.9 1425.9,1795.6 1426.9,1795.3 1427.9,1795 1428.9,1794.7 1429.9,1794.5 1430.9,1794.2 1431.9,1793.9 1432.9,1793.6 1433.9,1793.3 1434.9,1793.1 1435.9,1792.8 1436.9,1792.6 1437.9,1792.3 1438.9,1792 1439.9,1791.8 1440.9,1791.6 1441.9,1791.3 1442.9,1791.1 1443.9,1790.8 1444.9,1790.6 1445.9,1790.4 1446.9,1790.2 1447.9,1790 1448.9,1789.8 1449.9,1789.5 1450.9,1789.3 1451.9,1789.1 1452.9,1788.9 1453.9,1788.8 1454.9,1788.6 1455.9,1788.4 1456.9,1788.2 1457.9,1788 1458.9,1787.8 1459.9,1787.7 1460.9,1787.5 1461.9,1787.3 1462.9,1787.1 1463.9,1787 1464.9,1786.8 1465.9,1786.6 1466.9,1786.5 1467.9,1786.3 1468.9,1786.1 1469.9,1786 1470.9,1785.8 1471.9,1785.7 1472.9,1785.5 1473.9,1785.4 1474.9,1785.2 1475.9,1785.1 1476.9,1784.9 1477.9,1784.8 1478.9,1784.6 1479.9,1784.5 1480.9,1784.4 1481.9,1784.2 1482.9,1784.1 1483.9,1783.9 1484.9,1783.8 1485.9,1783.7 1486.9,1783.5 1487.9,1783.4 1488.9,1783.3 1489.9,1783.1 1490.9,1783 1491.9,1782.9 1492.9,1782.7 1493.9,1782.6 1494.9,1782.5 1495.9,1782.4 1496.9,1782.2 1497.9,1782.1 1498.9,1782 1499.9,1781.8 1500.9,1781.7 1501.9,1781.6 1502.9,1781.5 1503.9,1781.3 1504.9,1781.2 1505.9,1781.1 1506.9,1781 1507.9,1780.8 1508.9,1780.7 1509.9,1780.6 1510.9,1780.5 1511.9,1780.3 1512.9,1780.2 1513.9,1780.1 1514.9,1780 1515.9,1779.9 1516.9,1779.7 1517.9,1779.6 1518.9,1779.5 1519.9,1779.4 1520.9,1779.3 1521.9,1779.2 1522.9,1779 1523.9,1778.9 1524.9,1778.8 1525.9,1778.7 1526.9,1778.6 1527.9,1778.5 1528.9,1778.4 1529.9,1778.2 1530.9,1778.1 1531.9,1778 1532.9,1777.9 1533.9,1777.8 1534.9,1777.7 1535.9,1777.6 1536.9,1777.5 1537.9,1777.4 1538.9,1777.3 1539.9,1777.2 1540.9,1777.1 1541.9,1777 1542.9,1776.9 1543.9,1776.8 1544.9,1776.6 1545.9,1776.5 1546.9,1776.4 1547.9,1776.3 1548.9,1776.2 1549.9,1776.1 1550.9,1776 1551.9,1775.9 1552.9,1775.8 1553.9,1775.7 1554.9,1775.6 1555.9,1775.5 1556.9,1775.4 1557.9,1775.3 1558.9,1775.2 1559.9,1775.1 1560.9,1775 1561.9,1774.9 1562.9,1774.8 1563.9,1774.7 1564.9,1774.6 1565.9,1774.5 1566.9,1774.4 1567.9,1774.3 1568.9,1774.2 1569.9,1774.1 1570.9,1774 1571.9,1773.9 1572.9,1773.8 1573.9,1773.7 1574.9,1773.6 1575.9,1773.5 1576.9,1773.4 1577.9,1773.3 1578.9,1773.1 1579.9,1773 1580.9,1772.9 1581.9,1772.8 1582.9,1772.7 1583.9,1772.6 1584.9,1772.5 1585.9,1772.4 1586.9,1772.3 1587.9,1772.2 1588.9,1772.1 1589.9,1772 1590.9,1771.9 1591.9,1771.8 1592.9,1771.7 1593.9,1771.6 1594.9,1771.5 1595.9,1771.4 1596.9,1771.3 1597.9,1771.2 1598.9,1771.1 1599.9,1771 1600.9,1770.9 1601.9,1770.9 1602.9,1770.8 1603.9,1770.7 1604.9,1770.6 1605.9,1770.5 1606.9,1770.5 1607.9,1770.4 1608.9,1770.3 1609.9,1770.3 1610.9,1770.2 1611.9,1770.1 1612.9,1770.1 1613.9,1770 1614.9,1770 1615.9,1769.9 1616.9,1769.9 1617.9,1769.8 1618.9,1769.8 1619.9,1769.7 1620.9,1769.7 1621.9,1769.6 1622.9,1769.6 1623.9,1769.6 1624.9,1769.5 1625.9,1769.5 1626.9,1769.5 1627.9,1769.4 1628.9,1769.4 1629.9,1769.4 1630.9,1769.3 1631.9,1769.3 1632.9,1769.3 1633.9,1769.2 1634.9,1769.2 1635.9,1769.2 1636.9,1769.2 1637.9,1769.1 1638.9,1769.1 1639.9,1769.1 1640.9,1769 1641.9,1769 1642.9,1769 1643.9,1769 1644.9,1769 1645.9,1768.9 1646.9,1768.9 1647.9,1768.9 1648.9,1768.9 1649.9,1768.8 1650.9,1768.8 1651.9,1768.8 1652.9,1768.8 1653.9,1768.8 1654.9,1768.8 1655.9,1768.7 1656.9,1768.7 1657.9,1768.7 1658.9,1768.7 1659.9,1768.7 1660.9,1768.7 1661.9,1768.6 1662.9,1768.6 1663.9,1768.6 1664.9,1768.6 1665.9,1768.6 1666.9,1768.6 1667.9,1768.6 1668.9,1768.6 1669.9,1768.6 1670.9,1768.6 1671.9,1768.5 1672.9,1768.5 1673.9,1768.5 1674.9,1768.5 1675.9,1768.5 1676.9,1768.5 1677.9,1768.5 1678.9,1768.5 1679.9,1768.5 1680.9,1768.5 1681.9,1768.5 1682.9,1768.5 1683.9,1768.5 1684.9,1768.5 1685.9,1768.5 1686.9,1768.5 1687.9,1768.5 1688.9,1768.4 1689.9,1768.4 1690.9,1768.4 1691.9,1768.4 1692.9,1768.4 1693.9,1768.4 1694.9,1768.4 1695.9,1768.4 1696.9,1768.4 1697.9,1768.4 1698.9,1768.4 1699.9,1768.3 1700.9,1768.3 1701.9,1768.3 1702.9,1768.3 1703.9,1768.3 1704.9,1768.2 1705.9,1768.2 1706.9,1768.1 1707.9,1768.1 1708.9,1768 1709.9,1767.9 1710.9,1767.9 1711.9,1767.8 1712.9,1767.7 1713.9,1767.6 1714.9,1767.4 1715.9,1767.3 1716.9,1767.2 1717.9,1767 1718.9,1766.9 1719.9,1766.7 1720.9,1766.6 1721.9,1766.4 1722.9,1766.2 1723.9,1766 1724.9,1765.8 1725.9,1765.6 1726.9,1765.4 1727.9,1765.2 1728.9,1765 1729.9,1764.7 1730.9,1764.4 1731.9,1764.2 1732.9,1763.9 1733.9,1763.6 1734.9,1763.2 1735.9,1762.9 1736.9,1762.5 1737.9,1762.1 1738.9,1761.6 1739.9,1761.2 1740.9,1760.7 1741.9,1760.2 1742.9,1759.6 1743.9,1759.1 1744.9,1758.5 1745.9,1758 1746.9,1757.4 1747.9,1756.8 1748.9,1756.2 1749.9,1755.6 1750.9,1754.9 1751.9,1754.3 1752.9,1753.7 1753.9,1753 1754.9,1752.3 1755.9,1751.7 1756.9,1751 1757.9,1750.3 1758.9,1749.6 1759.9,1748.9 1760.9,1748.1 1761.9,1747.4 1762.9,1746.6 1763.9,1745.8 1764.9,1745 1765.9,1744.2 1766.9,1743.4 1767.9,1742.6 1768.9,1741.8 1769.9,1740.9 1770.9,1740.1 1771.9,1739.2 1772.9,1738.3 1773.9,1737.4 1774.9,1736.5 1775.9,1735.6 1776.9,1734.7 1777.9,1733.8 1778.9,1732.9" fill="none" stroke="#000" stroke-width="2.6" stroke-dasharray="9.5 9" stroke-linejoin="round"/>
<polyline points="1342.9,1828.6 1343.9,1829.7 1344.9,1830.7 1345.9,1831.8 1346.9,1832.8 1347.9,1833.9 1348.9,1835 1349.9,1836 1350.9,1837.1 1351.9,1838.1 1352.9,1839.2 1353.9,1840.2 1354.9,1841.3 1355.9,1842.3 1356.9,1843.4 1357.9,1844.4 1358.9,1845.5 1359.9,1846.5 1360.9,1847.6 1361.9,1848.6 1362.9,1849.6 1363.9,1850.7 1364.9,1851.7 1365.9,1852.7 1366.9,1853.8 1367.9,1854.8 1368.9,1855.8 1369.9,1856.9 1370.9,1857.9 1371.9,1858.9 1372.9,1860 1373.9,1861 1374.9,1862 1375.9,1863.1 1376.9,1864.1 1377.9,1865.1 1378.9,1866.1 1379.9,1867.2 1380.9,1868.2 1381.9,1869.2 1382.9,1870.2 1383.9,1871.2 1384.9,1872.2 1385.9,1873.1 1386.9,1874.1 1387.9,1875.1 1388.9,1876 1389.9,1877 1390.9,1877.9 1391.9,1878.8 1392.9,1879.8 1393.9,1880.7 1394.9,1881.6 1395.9,1882.5 1396.9,1883.4 1397.9,1884.3 1398.9,1885.2 1399.9,1886.1 1400.9,1887 1401.9,1887.9 1402.9,1888.7 1403.9,1889.6 1404.9,1890.5 1405.9,1891.4 1406.9,1892.2 1407.9,1893.1 1408.9,1894 1409.9,1894.8 1410.9,1895.7 1411.9,1896.5 1412.9,1897.4 1413.9,1898.2 1414.9,1899 1415.9,1899.8 1416.9,1900.6 1417.9,1901.4 1418.9,1902.2 1419.9,1903 1420.9,1903.8 1421.9,1904.5 1422.9,1905.3 1423.9,1906 1424.9,1906.8 1425.9,1907.5 1426.9,1908.2 1427.9,1908.9 1428.9,1909.6 1429.9,1910.3 1430.9,1910.9 1431.9,1911.6 1432.9,1912.2 1433.9,1912.9 1434.9,1913.5 1435.9,1914.1 1436.9,1914.7 1437.9,1915.3 1438.9,1915.9 1439.9,1916.5 1440.9,1917.1 1441.9,1917.7 1442.9,1918.2 1443.9,1918.8 1444.9,1919.4 1445.9,1919.9 1446.9,1920.5 1447.9,1921 1448.9,1921.6 1449.9,1922.1 1450.9,1922.6 1451.9,1923.2 1452.9,1923.7 1453.9,1924.2 1454.9,1924.7 1455.9,1925.2 1456.9,1925.7 1457.9,1926.2 1458.9,1926.6 1459.9,1927.1 1460.9,1927.6 1461.9,1928 1462.9,1928.5 1463.9,1928.9 1464.9,1929.3 1465.9,1929.7 1466.9,1930.1 1467.9,1930.5 1468.9,1930.9 1469.9,1931.3 1470.9,1931.6 1471.9,1932 1472.9,1932.3 1473.9,1932.6 1474.9,1932.9 1475.9,1933.2 1476.9,1933.5 1477.9,1933.8 1478.9,1934.1 1479.9,1934.4 1480.9,1934.7 1481.9,1934.9 1482.9,1935.2 1483.9,1935.5 1484.9,1935.7 1485.9,1936 1486.9,1936.2 1487.9,1936.5 1488.9,1936.7 1489.9,1937 1490.9,1937.2 1491.9,1937.5 1492.9,1937.7 1493.9,1938 1494.9,1938.2 1495.9,1938.4 1496.9,1938.7 1497.9,1938.9 1498.9,1939.1 1499.9,1939.4 1500.9,1939.6 1501.9,1939.8 1502.9,1940 1503.9,1940.2 1504.9,1940.4 1505.9,1940.6 1506.9,1940.8 1507.9,1941 1508.9,1941.2 1509.9,1941.4 1510.9,1941.5 1511.9,1941.7 1512.9,1941.9 1513.9,1942 1514.9,1942.2 1515.9,1942.3 1516.9,1942.5 1517.9,1942.6 1518.9,1942.7 1519.9,1942.9 1520.9,1943 1521.9,1943.1 1522.9,1943.2 1523.9,1943.3 1524.9,1943.4 1525.9,1943.5 1526.9,1943.5 1527.9,1943.6 1528.9,1943.6 1529.9,1943.7 1530.9,1943.7 1531.9,1943.8 1532.9,1943.8 1533.9,1943.8 1534.9,1943.8 1535.9,1943.8 1536.9,1943.8 1537.9,1943.8 1538.9,1943.8 1539.9,1943.8 1540.9,1943.8 1541.9,1943.7 1542.9,1943.7 1543.9,1943.7 1544.9,1943.6 1545.9,1943.6 1546.9,1943.5 1547.9,1943.5 1548.9,1943.4 1549.9,1943.4 1550.9,1943.3 1551.9,1943.3 1552.9,1943.2 1553.9,1943.1 1554.9,1943.1 1555.9,1943 1556.9,1942.9 1557.9,1942.8 1558.9,1942.8 1559.9,1942.7 1560.9,1942.6 1561.9,1942.5 1562.9,1942.4 1563.9,1942.3 1564.9,1942.2 1565.9,1942.1 1566.9,1942 1567.9,1942 1568.9,1941.9 1569.9,1941.8 1570.9,1941.7 1571.9,1941.5 1572.9,1941.4 1573.9,1941.3 1574.9,1941.2 1575.9,1941.1 1576.9,1941 1577.9,1940.9 1578.9,1940.7 1579.9,1940.6 1580.9,1940.5 1581.9,1940.3 1582.9,1940.2 1583.9,1940 1584.9,1939.9 1585.9,1939.7 1586.9,1939.5 1587.9,1939.3 1588.9,1939.1 1589.9,1939 1590.9,1938.7 1591.9,1938.5 1592.9,1938.3 1593.9,1938.1 1594.9,1937.9 1595.9,1937.6 1596.9,1937.4 1597.9,1937.1 1598.9,1936.9 1599.9,1936.6 1600.9,1936.4 1601.9,1936.1 1602.9,1935.8 1603.9,1935.5 1604.9,1935.3 1605.9,1935 1606.9,1934.7 1607.9,1934.4 1608.9,1934.1 1609.9,1933.8 1610.9,1933.5 1611.9,1933.1 1612.9,1932.8 1613.9,1932.5 1614.9,1932.2 1615.9,1931.9 1616.9,1931.5 1617.9,1931.2 1618.9,1930.9 1619.9,1930.5 1620.9,1930.2 1621.9,1929.8 1622.9,1929.5 1623.9,1929.1 1624.9,1928.8 1625.9,1928.4 1626.9,1928.1 1627.9,1927.7 1628.9,1927.3 1629.9,1927 1630.9,1926.6 1631.9,1926.2 1632.9,1925.9 1633.9,1925.5 1634.9,1925.1 1635.9,1924.7 1636.9,1924.3 1637.9,1923.9 1638.9,1923.5 1639.9,1923.1 1640.9,1922.6 1641.9,1922.2 1642.9,1921.7 1643.9,1921.3 1644.9,1920.8 1645.9,1920.4 1646.9,1919.9 1647.9,1919.4 1648.9,1918.9 1649.9,1918.4 1650.9,1917.9 1651.9,1917.4 1652.9,1916.9 1653.9,1916.3 1654.9,1915.8 1655.9,1915.2 1656.9,1914.7 1657.9,1914.1 1658.9,1913.6 1659.9,1913 1660.9,1912.4 1661.9,1911.8 1662.9,1911.2 1663.9,1910.6 1664.9,1910 1665.9,1909.4 1666.9,1908.8 1667.9,1908.2 1668.9,1907.6 1669.9,1906.9 1670.9,1906.3 1671.9,1905.7 1672.9,1905 1673.9,1904.4 1674.9,1903.7 1675.9,1903 1676.9,1902.3 1677.9,1901.7 1678.9,1901 1679.9,1900.2 1680.9,1899.5 1681.9,1898.8 1682.9,1898 1683.9,1897.3 1684.9,1896.5 1685.9,1895.7 1686.9,1895 1687.9,1894.2 1688.9,1893.3 1689.9,1892.5 1690.9,1891.7 1691.9,1890.9 1692.9,1890 1693.9,1889.1 1694.9,1888.3 1695.9,1887.4 1696.9,1886.5 1697.9,1885.6 1698.9,1884.7 1699.9,1883.8 1700.9,1882.9 1701.9,1882 1702.9,1881.1 1703.9,1880.2 1704.9,1879.3 1705.9,1878.3 1706.9,1877.4 1707.9,1876.4 1708.9,1875.5 1709.9,1874.6 1710.9,1873.6 1711.9,1872.7 1712.9,1871.7 1713.9,1870.7 1714.9,1869.8 1715.9,1868.8 1716.9,1867.8 1717.9,1866.9 1718.9,1865.9 1719.9,1864.9 1720.9,1863.9 1721.9,1862.8 1722.9,1861.8 1723.9,1860.8 1724.9,1859.7 1725.9,1858.6 1726.9,1857.6 1727.9,1856.5 1728.9,1855.4 1729.9,1854.3 1730.9,1853.2 1731.9,1852.1 1732.9,1851 1733.9,1849.9 1734.9,1848.8 1735.9,1847.7 1736.9,1846.6 1737.9,1845.5 1738.9,1844.4 1739.9,1843.4 1740.9,1842.3 1741.9,1841.3 1742.9,1840.3 1743.9,1839.3 1744.9,1838.3 1745.9,1837.3 1746.9,1836.4 1747.9,1835.5 1748.9,1834.6 1749.9,1833.7 1750.9,1832.9 1751.9,1832 1752.9,1831.2 1753.9,1830.4 1754.9,1829.6 1755.9,1828.8 1756.9,1828 1757.9,1827.2 1758.9,1826.5 1759.9,1825.7 1760.9,1825 1761.9,1824.3 1762.9,1823.6 1763.9,1822.9 1764.9,1822.2 1765.9,1821.5 1766.9,1820.8 1767.9,1820.2 1768.9,1819.5 1769.9,1818.9 1770.9,1818.3 1771.9,1817.7 1772.9,1817.1 1773.9,1816.5 1774.9,1815.9 1775.9,1815.3 1776.9,1814.7 1777.9,1814.2 1778.9,1813.6" fill="none" stroke="#000" stroke-width="2.6" stroke-dasharray="9.5 9" stroke-linejoin="round"/>
<polyline points="1342.9,1828.6 1343.9,1829.1 1344.9,1829.7 1345.9,1830.2 1346.9,1830.8 1347.9,1831.3 1348.9,1831.8 1349.9,1832.4 1350.9,1832.9 1351.9,1833.4 1352.9,1834 1353.9,1834.5 1354.9,1835 1355.9,1835.5 1356.9,1836 1357.9,1836.5 1358.9,1837 1359.9,1837.5 1360.9,1838 1361.9,1838.5 1362.9,1839 1363.9,1839.5 1364.9,1839.9 1365.9,1840.4 1366.9,1840.9 1367.9,1841.3 1368.9,1841.8 1369.9,1842.2 1370.9,1842.7 1371.9,1843.1 1372.9,1843.6 1373.9,1844 1374.9,1844.4 1375.9,1844.8 1376.9,1845.3 1377.9,1845.7 1378.9,1846.1 1379.9,1846.5 1380.9,1846.9 1381.9,1847.3 1382.9,1847.7 1383.9,1848.1 1384.9,1848.5 1385.9,1848.8 1386.9,1849.2 1387.9,1849.6 1388.9,1850 1389.9,1850.4 1390.9,1850.7 1391.9,1851.1 1392.9,1851.5 1393.9,1851.9 1394.9,1852.2 1395.9,1852.6 1396.9,1852.9 1397.9,1853.3 1398.9,1853.6 1399.9,1854 1400.9,1854.3 1401.9,1854.7 1402.9,1855 1403.9,1855.3 1404.9,1855.6 1405.9,1856 1406.9,1856.3 1407.9,1856.6 1408.9,1856.9 1409.9,1857.2 1410.9,1857.5 1411.9,1857.8 1412.9,1858 1413.9,1858.3 1414.9,1858.6 1415.9,1858.9 1416.9,1859.1 1417.9,1859.4 1418.9,1859.6 1419.9,1859.8 1420.9,1860.1 1421.9,1860.3 1422.9,1860.5 1423.9,1860.8 1424.9,1861 1425.9,1861.2 1426.9,1861.4 1427.9,1861.6 1428.9,1861.9 1429.9,1862.1 1430.9,1862.3 1431.9,1862.5 1432.9,1862.7 1433.9,1862.9 1434.9,1863.1 1435.9,1863.3 1436.9,1863.5 1437.9,1863.7 1438.9,1863.9 1439.9,1864.1 1440.9,1864.3 1441.9,1864.5 1442.9,1864.6 1443.9,1864.8 1444.9,1865 1445.9,1865.2 1446.9,1865.4 1447.9,1865.5 1448.9,1865.7 1449.9,1865.9 1450.9,1866 1451.9,1866.2 1452.9,1866.4 1453.9,1866.5 1454.9,1866.7 1455.9,1866.8 1456.9,1867 1457.9,1867.1 1458.9,1867.3 1459.9,1867.4 1460.9,1867.6 1461.9,1867.7 1462.9,1867.8 1463.9,1867.9 1464.9,1868.1 1465.9,1868.2 1466.9,1868.3 1467.9,1868.4 1468.9,1868.5 1469.9,1868.6 1470.9,1868.7 1471.9,1868.8 1472.9,1868.9 1473.9,1869 1474.9,1869.1 1475.9,1869.2 1476.9,1869.3 1477.9,1869.3 1478.9,1869.4 1479.9,1869.5 1480.9,1869.6 1481.9,1869.6 1482.9,1869.7 1483.9,1869.8 1484.9,1869.9 1485.9,1869.9 1486.9,1870 1487.9,1870.1 1488.9,1870.1 1489.9,1870.2 1490.9,1870.2 1491.9,1870.3 1492.9,1870.4 1493.9,1870.4 1494.9,1870.5 1495.9,1870.6 1496.9,1870.6 1497.9,1870.7 1498.9,1870.7 1499.9,1870.8 1500.9,1870.8 1501.9,1870.9 1502.9,1870.9 1503.9,1871 1504.9,1871 1505.9,1871.1 1506.9,1871.1 1507.9,1871.2 1508.9,1871.2 1509.9,1871.3 1510.9,1871.3 1511.9,1871.3 1512.9,1871.4 1513.9,1871.4 1514.9,1871.4 1515.9,1871.5 1516.9,1871.5 1517.9,1871.5 1518.9,1871.5 1519.9,1871.6 1520.9,1871.6 1521.9,1871.6 1522.9,1871.6 1523.9,1871.6 1524.9,1871.6 1525.9,1871.7 1526.9,1871.7 1527.9,1871.7 1528.9,1871.7 1529.9,1871.6 1530.9,1871.6 1531.9,1871.6 1532.9,1871.6 1533.9,1871.6 1534.9,1871.6 1535.9,1871.5 1536.9,1871.5 1537.9,1871.4 1538.9,1871.4 1539.9,1871.3 1540.9,1871.3 1541.9,1871.2 1542.9,1871.2 1543.9,1871.1 1544.9,1871 1545.9,1871 1546.9,1870.9 1547.9,1870.8 1548.9,1870.7 1549.9,1870.6 1550.9,1870.5 1551.9,1870.4 1552.9,1870.3 1553.9,1870.2 1554.9,1870.1 1555.9,1870 1556.9,1869.9 1557.9,1869.8 1558.9,1869.7 1559.9,1869.6 1560.9,1869.5 1561.9,1869.3 1562.9,1869.2 1563.9,1869.1 1564.9,1869 1565.9,1868.9 1566.9,1868.7 1567.9,1868.6 1568.9,1868.5 1569.9,1868.4 1570.9,1868.2 1571.9,1868.1 1572.9,1868 1573.9,1867.8 1574.9,1867.7 1575.9,1867.6 1576.9,1867.4 1577.9,1867.3 1578.9,1867.1 1579.9,1867 1580.9,1866.8 1581.9,1866.7 1582.9,1866.5 1583.9,1866.3 1584.9,1866.2 1585.9,1866 1586.9,1865.8 1587.9,1865.6 1588.9,1865.4 1589.9,1865.2 1590.9,1865 1591.9,1864.8 1592.9,1864.6 1593.9,1864.4 1594.9,1864.2 1595.9,1863.9 1596.9,1863.7 1597.9,1863.5 1598.9,1863.2 1599.9,1863 1600.9,1862.7 1601.9,1862.5 1602.9,1862.2 1603.9,1862 1604.9,1861.7 1605.9,1861.4 1606.9,1861.2 1607.9,1860.9 1608.9,1860.6 1609.9,1860.4 1610.9,1860.1 1611.9,1859.8 1612.9,1859.5 1613.9,1859.2 1614.9,1859 1615.9,1858.7 1616.9,1858.4 1617.9,1858.1 1618.9,1857.8 1619.9,1857.5 1620.9,1857.2 1621.9,1856.9 1622.9,1856.6 1623.9,1856.3 1624.9,1856 1625.9,1855.7 1626.9,1855.4 1627.9,1855.1 1628.9,1854.8 1629.9,1854.5 1630.9,1854.2 1631.9,1853.9 1632.9,1853.6 1633.9,1853.3 1634.9,1853 1635.9,1852.7 1636.9,1852.4 1637.9,1852.1 1638.9,1851.8 1639.9,1851.4 1640.9,1851.1 1641.9,1850.8 1642.9,1850.5 1643.9,1850.2 1644.9,1849.8 1645.9,1849.5 1646.9,1849.2 1647.9,1848.8 1648.9,1848.5 1649.9,1848.1 1650.9,1847.8 1651.9,1847.4 1652.9,1847.1 1653.9,1846.7 1654.9,1846.4 1655.9,1846 1656.9,1845.6 1657.9,1845.3 1658.9,1844.9 1659.9,1844.5 1660.9,1844.2 1661.9,1843.8 1662.9,1843.4 1663.9,1843 1664.9,1842.7 1665.9,1842.3 1666.9,1841.9 1667.9,1841.5 1668.9,1841.1 1669.9,1840.7 1670.9,1840.3 1671.9,1839.9 1672.9,1839.5 1673.9,1839.1 1674.9,1838.7 1675.9,1838.3 1676.9,1837.9 1677.9,1837.4 1678.9,1837 1679.9,1836.6 1680.9,1836.2 1681.9,1835.8 1682.9,1835.3 1683.9,1834.9 1684.9,1834.5 1685.9,1834 1686.9,1833.6 1687.9,1833.2 1688.9,1832.7 1689.9,1832.3 1690.9,1831.8 1691.9,1831.4 1692.9,1830.9 1693.9,1830.5 1694.9,1830 1695.9,1829.5 1696.9,1829.1 1697.9,1828.6 1698.9,1828.1 1699.9,1827.6 1700.9,1827.2 1701.9,1826.7 1702.9,1826.2 1703.9,1825.7 1704.9,1825.2 1705.9,1824.7 1706.9,1824.2 1707.9,1823.7 1708.9,1823.1 1709.9,1822.6 1710.9,1822.1 1711.9,1821.6 1712.9,1821 1713.9,1820.5 1714.9,1820 1715.9,1819.4 1716.9,1818.9 1717.9,1818.3 1718.9,1817.7 1719.9,1817.2 1720.9,1816.6 1721.9,1816 1722.9,1815.5 1723.9,1814.9 1724.9,1814.3 1725.9,1813.7 1726.9,1813.1 1727.9,1812.5 1728.9,1811.9 1729.9,1811.3 1730.9,1810.7 1731.9,1810.1 1732.9,1809.5 1733.9,1808.8 1734.9,1808.2 1735.9,1807.6 1736.9,1806.9 1737.9,1806.3 1738.9,1805.6 1739.9,1804.9 1740.9,1804.3 1741.9,1803.6 1742.9,1802.9 1743.9,1802.2 1744.9,1801.5 1745.9,1800.8 1746.9,1800.1 1747.9,1799.4 1748.9,1798.7 1749.9,1798 1750.9,1797.3 1751.9,1796.5 1752.9,1795.8 1753.9,1795 1754.9,1794.3 1755.9,1793.5 1756.9,1792.8 1757.9,1792 1758.9,1791.2 1759.9,1790.5 1760.9,1789.7 1761.9,1788.9 1762.9,1788.1 1763.9,1787.3 1764.9,1786.5 1765.9,1785.7 1766.9,1784.9 1767.9,1784.1 1768.9,1783.2 1769.9,1782.4 1770.9,1781.6 1771.9,1780.7 1772.9,1779.9 1773.9,1779.1 1774.9,1778.2 1775.9,1777.4 1776.9,1776.5 1777.9,1775.7 1778.9,1774.8" fill="none" stroke="#000" stroke-width="2.5" stroke-linejoin="round"/>
</g>
<rect x="1322" y="1176.5" width="478.5" height="803.7" fill="none" stroke="#55505c" stroke-width="1.7"/>
<rect x="1322" y="1138.6" width="478.5" height="37.9" fill="#cce0fa" stroke="#2a3050" stroke-width="1.4"/>
<path d="M1322 1176.5H1800.5" stroke="#101828" stroke-width="2.3"/>
<text x="1561.2" y="1164.6" font-size="19.7" text-anchor="middle" fill="#0b1430" stroke="#0b1430" stroke-width="0.35">Acupuncture</text>
<text x="1342.7" y="2005.5" font-size="18.1" text-anchor="middle" fill="#3e3b42">0</text>
<text x="1488.5" y="2005.5" font-size="18.1" text-anchor="middle" fill="#3e3b42">10</text>
<text x="1634.3" y="2005.5" font-size="18.1" text-anchor="middle" fill="#3e3b42">20</text>
<text x="1780.1" y="2005.5" font-size="18.1" text-anchor="middle" fill="#3e3b42">30</text>
<path d="M1342.7 1980.2v6M1488.5 1980.2v6M1634.3 1980.2v6M1780.1 1980.2v6" stroke="#2e2e2e" stroke-width="2.2"/>
<text x="1309.4" y="1972.3" font-size="18.1" text-anchor="end" fill="#3e3b42">0.1</text>
<text x="1309.4" y="1835.5" font-size="18.1" text-anchor="end" fill="#3e3b42">0.2</text>
<text x="1309.4" y="1698.7" font-size="18.1" text-anchor="end" fill="#3e3b42">0.3</text>
<text x="1309.4" y="1561.9" font-size="18.1" text-anchor="end" fill="#3e3b42">0.4</text>
<text x="1309.4" y="1425.1" font-size="18.1" text-anchor="end" fill="#3e3b42">0.5</text>
<text x="1309.4" y="1288.3" font-size="18.1" text-anchor="end" fill="#3e3b42">0.6</text>
<path d="M1322 1965.8h-6M1322 1829h-6M1322 1692.2h-6M1322 1555.4h-6M1322 1418.6h-6M1322 1281.8h-6" stroke="#2e2e2e" stroke-width="2.2"/>
<clipPath id="br_1"><rect x="1813.6" y="1176.5" width="479.2" height="803.7"/></clipPath>
<g clip-path="url(#br_1)">
<path d="M1907.8 1176.5V1980.2M2053.4 1176.5V1980.2M2199 1176.5V1980.2M1813.6 1897.4H2292.8M1813.6 1760.6H2292.8M1813.6 1623.8H2292.8M1813.6 1487H2292.8M1813.6 1350.2H2292.8M1813.6 1213.4H2292.8" stroke="#fafafa" stroke-width="1" fill="none"/>
<path d="M1835 1176.5V1980.2M1980.6 1176.5V1980.2M2126.2 1176.5V1980.2M2271.8 1176.5V1980.2M1813.6 1965.8H2292.8M1813.6 1829H2292.8M1813.6 1692.2H2292.8M1813.6 1555.4H2292.8M1813.6 1418.6H2292.8M1813.6 1281.8H2292.8" stroke="#f0f0f0" stroke-width="1.4" fill="none"/>
<polygon points="2112.4,1220.6 2114.5,1221.6 2116.6,1222.8 2118.7,1224.1 2120.8,1225.6 2122.9,1227.3 2125,1229.1 2127.1,1231.1 2129.2,1233.2 2131.3,1235.4 2133.4,1237.6 2135.5,1239.9 2137.6,1242.3 2139.7,1244.8 2139.7,1538.5 2137.6,1538.7 2135.5,1538.9 2133.4,1539.1 2131.3,1539.4 2129.2,1539.6 2127.1,1539.9 2125,1540.2 2122.9,1540.5 2120.8,1540.9 2118.7,1541.3 2116.6,1541.8 2114.5,1542.3 2112.4,1542.9" fill="#d4ded4"/>
<polygon points="2242.2,1467 2244.2,1472.3 2246.3,1477.5 2248.3,1482.6 2250.4,1487.7 2252.4,1492.6 2254.5,1497.5 2256.6,1502.2 2258.6,1506.9 2260.7,1511.5 2262.7,1516.1 2264.8,1520.5 2266.8,1524.9 2268.8,1529.2 2270.9,1533.5 2270.9,1618.2 2268.8,1613.7 2266.8,1609.4 2264.8,1605.1 2262.7,1601.1 2260.7,1597.2 2258.6,1593.6 2256.6,1590.1 2254.5,1586.8 2252.4,1583.7 2250.4,1580.8 2248.3,1578.2 2246.3,1575.7 2244.2,1573.5 2242.2,1571.5" fill="#0d690a"/>
<polyline points="1834.6,1828.4 1835.6,1825.6 1836.6,1822.9 1837.6,1820.1 1838.6,1817.3 1839.6,1814.5 1840.6,1811.6 1841.6,1808.8 1842.6,1805.9 1843.6,1802.9 1844.6,1799.9 1845.6,1796.9 1846.6,1793.9 1847.6,1790.8 1848.6,1787.6 1849.6,1784.4 1850.6,1781.1 1851.6,1777.8 1852.6,1774.4 1853.6,1770.9 1854.6,1767.3 1855.6,1763.6 1856.6,1759.9 1857.6,1756 1858.6,1752.1 1859.6,1748 1860.6,1743.9 1861.6,1739.7 1862.6,1735.4 1863.6,1731.1 1864.6,1726.7 1865.6,1722.3 1866.6,1717.9 1867.6,1713.4 1868.6,1709 1869.6,1704.5 1870.6,1700.1 1871.6,1695.6 1872.6,1691.2 1873.6,1686.8 1874.6,1682.3 1875.6,1677.9 1876.6,1673.5 1877.6,1669.1 1878.6,1664.7 1879.6,1660.3 1880.6,1655.8 1881.6,1651.3 1882.6,1646.9 1883.6,1642.4 1884.6,1637.8 1885.6,1633.3 1886.6,1628.7 1887.6,1624.1 1888.6,1619.5 1889.6,1614.9 1890.6,1610.3 1891.6,1605.7 1892.6,1601 1893.6,1596.4 1894.6,1591.8 1895.6,1587.3 1896.6,1582.7 1897.6,1578.3 1898.6,1573.8 1899.6,1569.4 1900.6,1565 1901.6,1560.7 1902.6,1556.4 1903.6,1552.2 1904.6,1548 1905.6,1543.9 1906.6,1539.9 1907.7,1535.8 1908.7,1531.9 1909.7,1528 1910.7,1524.1 1911.7,1520.3 1912.7,1516.6 1913.7,1512.9 1914.7,1509.3 1915.7,1505.7 1916.7,1502.2 1917.7,1498.8 1918.7,1495.4 1919.7,1492.1 1920.7,1488.8 1921.7,1485.5 1922.7,1482.3 1923.7,1479.1 1924.7,1475.9 1925.7,1472.8 1926.7,1469.6 1927.7,1466.5 1928.7,1463.4 1929.7,1460.3 1930.7,1457.2 1931.7,1454.1 1932.7,1451.1 1933.7,1448 1934.7,1445 1935.7,1441.9 1936.7,1438.9 1937.7,1435.9 1938.7,1432.9 1939.7,1429.9 1940.7,1426.9 1941.7,1423.9 1942.7,1421 1943.7,1418.1 1944.7,1415.1 1945.7,1412.2 1946.7,1409.3 1947.7,1406.4 1948.7,1403.6 1949.7,1400.7 1950.7,1397.9 1951.7,1395 1952.7,1392.2 1953.7,1389.4 1954.7,1386.6 1955.7,1383.8 1956.7,1381.1 1957.7,1378.4 1958.7,1375.7 1959.7,1373.1 1960.7,1370.4 1961.7,1367.9 1962.7,1365.3 1963.7,1362.8 1964.7,1360.4 1965.7,1358 1966.7,1355.6 1967.7,1353.2 1968.7,1350.9 1969.7,1348.7 1970.7,1346.4 1971.7,1344.2 1972.7,1342.1 1973.7,1339.9 1974.7,1337.8 1975.7,1335.7 1976.7,1333.7 1977.7,1331.6 1978.7,1329.6 1979.7,1327.6 1980.7,1325.6 1981.7,1323.6 1982.7,1321.7 1983.7,1319.8 1984.7,1317.8 1985.7,1315.9 1986.7,1314 1987.7,1312.1 1988.7,1310.3 1989.7,1308.4 1990.7,1306.5 1991.7,1304.6 1992.7,1302.8 1993.7,1300.9 1994.7,1299 1995.7,1297.2 1996.7,1295.3 1997.7,1293.5 1998.7,1291.6 1999.7,1289.7 2000.7,1287.9 2001.7,1286 2002.7,1284.1 2003.7,1282.3 2004.7,1280.4 2005.7,1278.6 2006.7,1276.7 2007.7,1274.9 2008.7,1273.1 2009.7,1271.4 2010.7,1269.6 2011.7,1267.9 2012.7,1266.2 2013.7,1264.5 2014.7,1262.9 2015.7,1261.3 2016.7,1259.7 2017.7,1258.2 2018.7,1256.8 2019.7,1255.3 2020.7,1253.9 2021.7,1252.6 2022.7,1251.3 2023.7,1250 2024.7,1248.8 2025.7,1247.6 2026.7,1246.4 2027.7,1245.3 2028.7,1244.2 2029.7,1243.1 2030.7,1242 2031.7,1241 2032.7,1240 2033.7,1239 2034.7,1238.1 2035.7,1237.1 2036.7,1236.2 2037.7,1235.3 2038.7,1234.5 2039.7,1233.6 2040.7,1232.8 2041.7,1232 2042.7,1231.2 2043.7,1230.5 2044.7,1229.7 2045.7,1229 2046.7,1228.3 2047.7,1227.7 2048.7,1227 2049.7,1226.4 2050.7,1225.8 2051.7,1225.2 2052.8,1224.6 2053.8,1224 2054.8,1223.4 2055.8,1222.8 2056.8,1222.3 2057.8,1221.7 2058.8,1221.2 2059.8,1220.6 2060.8,1220.1 2061.8,1219.6 2062.8,1219.1 2063.8,1218.6 2064.8,1218.1 2065.8,1217.7 2066.8,1217.2 2067.8,1216.8 2068.8,1216.4 2069.8,1216 2070.8,1215.7 2071.8,1215.3 2072.8,1215 2073.8,1214.8 2074.8,1214.5 2075.8,1214.3 2076.8,1214.1 2077.8,1214 2078.8,1213.8 2079.8,1213.7 2080.8,1213.7 2081.8,1213.6 2082.8,1213.6 2083.8,1213.6 2084.8,1213.7 2085.8,1213.7 2086.8,1213.8 2087.8,1213.9 2088.8,1214 2089.8,1214.1 2090.8,1214.3 2091.8,1214.5 2092.8,1214.6 2093.8,1214.8 2094.8,1215 2095.8,1215.3 2096.8,1215.5 2097.8,1215.7 2098.8,1216 2099.8,1216.2 2100.8,1216.5 2101.8,1216.8 2102.8,1217.1 2103.8,1217.4 2104.8,1217.7 2105.8,1218.1 2106.8,1218.4 2107.8,1218.8 2108.8,1219.1 2109.8,1219.5 2110.8,1219.9 2111.8,1220.3 2112.8,1220.8 2113.8,1221.3 2114.8,1221.8 2115.8,1222.3 2116.8,1222.9 2117.8,1223.5 2118.8,1224.2 2119.8,1224.9 2120.8,1225.6 2121.8,1226.4 2122.8,1227.2 2123.8,1228.1 2124.8,1229 2125.8,1229.9 2126.8,1230.8 2127.8,1231.8 2128.8,1232.8 2129.8,1233.8 2130.8,1234.8 2131.8,1235.9 2132.8,1237 2133.8,1238.1 2134.8,1239.2 2135.8,1240.3 2136.8,1241.4 2137.8,1242.6 2138.8,1243.7 2139.8,1244.9 2140.8,1246.1 2141.8,1247.4 2142.8,1248.6 2143.8,1249.9 2144.8,1251.2 2145.8,1252.5 2146.8,1253.9 2147.8,1255.3 2148.8,1256.7 2149.8,1258.1 2150.8,1259.6 2151.8,1261.1 2152.8,1262.6 2153.8,1264.1 2154.8,1265.7 2155.8,1267.2 2156.8,1268.8 2157.8,1270.4 2158.8,1272.1 2159.8,1273.7 2160.8,1275.3 2161.8,1277 2162.8,1278.7 2163.8,1280.4 2164.8,1282.1 2165.8,1283.8 2166.8,1285.5 2167.8,1287.3 2168.8,1289 2169.8,1290.8 2170.8,1292.6 2171.8,1294.4 2172.8,1296.3 2173.8,1298.1 2174.8,1300 2175.8,1301.9 2176.8,1303.8 2177.8,1305.7 2178.8,1307.7 2179.8,1309.7 2180.8,1311.7 2181.8,1313.7 2182.8,1315.7 2183.8,1317.7 2184.8,1319.8 2185.8,1321.9 2186.8,1324 2187.8,1326.1 2188.8,1328.2 2189.8,1330.3 2190.8,1332.5 2191.8,1334.6 2192.8,1336.8 2193.8,1339 2194.8,1341.2 2195.8,1343.4 2196.8,1345.7 2197.8,1347.9 2198.9,1350.2 2199.9,1352.5 2200.9,1354.8 2201.9,1357.1 2202.9,1359.5 2203.9,1361.8 2204.9,1364.2 2205.9,1366.7 2206.9,1369.1 2207.9,1371.5 2208.9,1374 2209.9,1376.5 2210.9,1379 2211.9,1381.6 2212.9,1384.2 2213.9,1386.8 2214.9,1389.4 2215.9,1392.1 2216.9,1394.7 2217.9,1397.5 2218.9,1400.2 2219.9,1403 2220.9,1405.8 2221.9,1408.7 2222.9,1411.5 2223.9,1414.4 2224.9,1417.3 2225.9,1420.3 2226.9,1423.2 2227.9,1426.2 2228.9,1429.1 2229.9,1432.1 2230.9,1435.1 2231.9,1438 2232.9,1440.9 2233.9,1443.9 2234.9,1446.7 2235.9,1449.6 2236.9,1452.4 2237.9,1455.2 2238.9,1458 2239.9,1460.7 2240.9,1463.4 2241.9,1466.1 2242.9,1468.7 2243.9,1471.3 2244.9,1473.9 2245.9,1476.5 2246.9,1479 2247.9,1481.5 2248.9,1484 2249.9,1486.4 2250.9,1488.8 2251.9,1491.2 2252.9,1493.6 2253.9,1496 2254.9,1498.4 2255.9,1500.7 2256.9,1503 2257.9,1505.3 2258.9,1507.6 2259.9,1509.8 2260.9,1512.1 2261.9,1514.3 2262.9,1516.5 2263.9,1518.7 2264.9,1520.8 2265.9,1523 2266.9,1525.1 2267.9,1527.2 2268.9,1529.3 2269.9,1531.4 2270.9,1533.5" fill="none" stroke="#000" stroke-width="2.6" stroke-dasharray="9.5 9" stroke-linejoin="round"/>
<polyline points="1834.6,1828.4 1835.6,1827.2 1836.6,1825.9 1837.6,1824.7 1838.6,1823.5 1839.6,1822.2 1840.6,1821 1841.6,1819.8 1842.6,1818.5 1843.6,1817.3 1844.6,1816 1845.6,1814.8 1846.6,1813.6 1847.6,1812.3 1848.6,1811 1849.6,1809.8 1850.6,1808.5 1851.6,1807.2 1852.6,1806 1853.6,1804.7 1854.6,1803.4 1855.6,1802.1 1856.6,1800.9 1857.6,1799.6 1858.6,1798.3 1859.6,1797 1860.6,1795.7 1861.6,1794.4 1862.6,1793.1 1863.6,1791.8 1864.6,1790.5 1865.6,1789.2 1866.6,1787.9 1867.6,1786.6 1868.6,1785.3 1869.6,1784 1870.6,1782.6 1871.6,1781.3 1872.6,1780 1873.6,1778.7 1874.6,1777.3 1875.6,1776 1876.6,1774.7 1877.6,1773.3 1878.6,1772 1879.6,1770.6 1880.6,1769.3 1881.6,1767.9 1882.6,1766.6 1883.6,1765.2 1884.6,1763.8 1885.6,1762.5 1886.6,1761.1 1887.6,1759.7 1888.6,1758.3 1889.6,1756.9 1890.6,1755.5 1891.6,1754.1 1892.6,1752.7 1893.6,1751.3 1894.6,1749.8 1895.6,1748.4 1896.6,1746.9 1897.6,1745.5 1898.6,1744 1899.6,1742.5 1900.6,1741.1 1901.6,1739.6 1902.6,1738.1 1903.6,1736.6 1904.6,1735.1 1905.6,1733.6 1906.6,1732.1 1907.6,1730.6 1908.6,1729.2 1909.6,1727.7 1910.6,1726.2 1911.6,1724.7 1912.6,1723.2 1913.6,1721.7 1914.6,1720.2 1915.6,1718.7 1916.6,1717.3 1917.6,1715.8 1918.6,1714.4 1919.6,1712.9 1920.6,1711.5 1921.6,1710 1922.6,1708.6 1923.6,1707.2 1924.6,1705.8 1925.6,1704.4 1926.6,1703 1927.6,1701.6 1928.6,1700.2 1929.6,1698.9 1930.6,1697.5 1931.6,1696.1 1932.6,1694.8 1933.6,1693.4 1934.6,1692.1 1935.6,1690.7 1936.6,1689.4 1937.6,1688 1938.6,1686.7 1939.6,1685.3 1940.6,1684 1941.6,1682.7 1942.6,1681.4 1943.6,1680 1944.6,1678.7 1945.6,1677.4 1946.6,1676.1 1947.6,1674.8 1948.6,1673.5 1949.6,1672.3 1950.6,1671 1951.6,1669.7 1952.6,1668.4 1953.6,1667.2 1954.6,1666 1955.6,1664.7 1956.6,1663.5 1957.6,1662.3 1958.6,1661.1 1959.6,1659.9 1960.6,1658.7 1961.6,1657.5 1962.6,1656.3 1963.6,1655.2 1964.6,1654 1965.6,1652.9 1966.6,1651.8 1967.6,1650.7 1968.6,1649.6 1969.6,1648.5 1970.6,1647.4 1971.6,1646.3 1972.6,1645.3 1973.6,1644.2 1974.6,1643.2 1975.6,1642.2 1976.6,1641.2 1977.6,1640.2 1978.6,1639.2 1979.6,1638.2 1980.6,1637.2 1981.6,1636.3 1982.6,1635.3 1983.6,1634.4 1984.6,1633.4 1985.6,1632.5 1986.6,1631.6 1987.6,1630.6 1988.6,1629.7 1989.6,1628.8 1990.6,1627.9 1991.6,1627 1992.6,1626.1 1993.6,1625.2 1994.6,1624.3 1995.6,1623.4 1996.6,1622.5 1997.6,1621.6 1998.6,1620.7 1999.6,1619.8 2000.6,1618.9 2001.6,1618 2002.6,1617.1 2003.6,1616.2 2004.6,1615.3 2005.6,1614.4 2006.6,1613.5 2007.6,1612.6 2008.6,1611.7 2009.6,1610.8 2010.6,1609.9 2011.6,1609 2012.6,1608 2013.6,1607.1 2014.6,1606.2 2015.6,1605.2 2016.6,1604.3 2017.6,1603.3 2018.6,1602.4 2019.6,1601.4 2020.6,1600.5 2021.6,1599.5 2022.6,1598.6 2023.6,1597.6 2024.6,1596.6 2025.6,1595.7 2026.6,1594.7 2027.6,1593.8 2028.6,1592.8 2029.6,1591.9 2030.6,1591 2031.6,1590.1 2032.6,1589.1 2033.6,1588.2 2034.6,1587.4 2035.6,1586.5 2036.6,1585.6 2037.6,1584.8 2038.6,1583.9 2039.6,1583.1 2040.6,1582.3 2041.6,1581.5 2042.6,1580.7 2043.6,1579.9 2044.6,1579.2 2045.6,1578.4 2046.6,1577.7 2047.6,1577 2048.6,1576.3 2049.6,1575.5 2050.6,1574.8 2051.6,1574.2 2052.6,1573.5 2053.6,1572.8 2054.6,1572.1 2055.6,1571.4 2056.6,1570.8 2057.6,1570.1 2058.6,1569.5 2059.6,1568.8 2060.6,1568.2 2061.6,1567.6 2062.6,1567 2063.6,1566.3 2064.6,1565.7 2065.6,1565.1 2066.6,1564.5 2067.6,1563.9 2068.6,1563.3 2069.6,1562.8 2070.6,1562.2 2071.6,1561.6 2072.6,1561.1 2073.6,1560.5 2074.6,1560 2075.6,1559.4 2076.6,1558.9 2077.6,1558.4 2078.6,1557.8 2079.6,1557.3 2080.6,1556.8 2081.6,1556.3 2082.6,1555.8 2083.6,1555.3 2084.6,1554.8 2085.6,1554.3 2086.6,1553.9 2087.6,1553.4 2088.6,1552.9 2089.6,1552.4 2090.6,1552 2091.6,1551.5 2092.6,1551 2093.6,1550.6 2094.6,1550.1 2095.6,1549.7 2096.6,1549.2 2097.6,1548.8 2098.6,1548.3 2099.6,1547.9 2100.6,1547.4 2101.6,1547 2102.6,1546.6 2103.6,1546.2 2104.6,1545.7 2105.6,1545.3 2106.6,1545 2107.6,1544.6 2108.6,1544.2 2109.6,1543.9 2110.6,1543.5 2111.6,1543.2 2112.6,1542.9 2113.6,1542.6 2114.6,1542.3 2115.6,1542 2116.6,1541.8 2117.6,1541.5 2118.6,1541.3 2119.6,1541.1 2120.6,1540.9 2121.6,1540.7 2122.6,1540.6 2123.6,1540.4 2124.6,1540.2 2125.6,1540.1 2126.6,1540 2127.6,1539.8 2128.6,1539.7 2129.6,1539.6 2130.6,1539.4 2131.6,1539.3 2132.6,1539.2 2133.6,1539.1 2134.6,1539 2135.6,1538.9 2136.6,1538.8 2137.6,1538.7 2138.6,1538.6 2139.6,1538.5 2140.6,1538.4 2141.6,1538.3 2142.6,1538.3 2143.6,1538.2 2144.6,1538.1 2145.6,1538.1 2146.6,1538 2147.6,1538 2148.6,1538 2149.6,1538 2150.6,1538 2151.6,1538 2152.6,1538 2153.6,1538 2154.6,1538.1 2155.6,1538.1 2156.6,1538.2 2157.6,1538.3 2158.6,1538.4 2159.6,1538.5 2160.6,1538.7 2161.6,1538.9 2162.6,1539 2163.6,1539.2 2164.6,1539.4 2165.6,1539.7 2166.6,1539.9 2167.6,1540.2 2168.6,1540.4 2169.6,1540.7 2170.6,1541 2171.6,1541.3 2172.6,1541.6 2173.6,1541.9 2174.6,1542.2 2175.6,1542.5 2176.6,1542.9 2177.6,1543.2 2178.6,1543.5 2179.6,1543.8 2180.6,1544.2 2181.6,1544.5 2182.6,1544.8 2183.6,1545.1 2184.6,1545.4 2185.6,1545.7 2186.6,1546.1 2187.6,1546.4 2188.6,1546.7 2189.6,1547 2190.6,1547.3 2191.6,1547.6 2192.6,1547.9 2193.6,1548.3 2194.6,1548.6 2195.6,1548.9 2196.6,1549.2 2197.6,1549.5 2198.6,1549.9 2199.6,1550.2 2200.6,1550.5 2201.6,1550.9 2202.6,1551.2 2203.6,1551.6 2204.6,1552 2205.6,1552.3 2206.6,1552.7 2207.6,1553.1 2208.6,1553.4 2209.6,1553.8 2210.6,1554.2 2211.6,1554.6 2212.6,1555 2213.6,1555.4 2214.6,1555.8 2215.6,1556.3 2216.6,1556.7 2217.6,1557.1 2218.6,1557.5 2219.6,1558 2220.6,1558.4 2221.6,1558.9 2222.6,1559.3 2223.6,1559.8 2224.6,1560.3 2225.6,1560.8 2226.6,1561.2 2227.6,1561.7 2228.6,1562.3 2229.6,1562.8 2230.6,1563.3 2231.6,1563.9 2232.6,1564.5 2233.6,1565.1 2234.6,1565.7 2235.6,1566.4 2236.6,1567 2237.6,1567.7 2238.6,1568.5 2239.6,1569.3 2240.6,1570.1 2241.6,1570.9 2242.6,1571.9 2243.6,1572.8 2244.6,1573.8 2245.6,1574.9 2246.6,1576 2247.6,1577.2 2248.6,1578.5 2249.6,1579.8 2250.6,1581.1 2251.6,1582.5 2252.6,1584 2253.6,1585.4 2254.6,1587 2255.6,1588.6 2256.6,1590.2 2257.6,1591.9 2258.6,1593.6 2259.6,1595.3 2260.6,1597.1 2261.6,1599 2262.6,1600.9 2263.6,1602.8 2264.6,1604.8 2265.6,1606.9 2266.6,1608.9 2267.6,1611 2268.6,1613.2 2269.6,1615.3 2270.6,1617.5 2271.6,1619.7" fill="none" stroke="#000" stroke-width="2.6" stroke-dasharray="9.5 9" stroke-linejoin="round"/>
<polyline points="1834.6,1828.4 1835.6,1826.3 1836.6,1824.1 1837.6,1822 1838.6,1819.8 1839.6,1817.7 1840.6,1815.5 1841.6,1813.3 1842.6,1811.1 1843.6,1808.8 1844.6,1806.6 1845.6,1804.3 1846.6,1802 1847.6,1799.7 1848.6,1797.4 1849.6,1795 1850.6,1792.6 1851.6,1790.2 1852.6,1787.8 1853.6,1785.4 1854.6,1782.9 1855.6,1780.4 1856.6,1777.9 1857.6,1775.3 1858.6,1772.7 1859.6,1770.1 1860.6,1767.5 1861.6,1764.8 1862.6,1762.1 1863.6,1759.3 1864.6,1756.6 1865.6,1753.8 1866.6,1751 1867.6,1748.1 1868.6,1745.3 1869.6,1742.5 1870.6,1739.6 1871.6,1736.7 1872.6,1733.9 1873.6,1731 1874.6,1728.1 1875.6,1725.3 1876.6,1722.4 1877.6,1719.6 1878.6,1716.8 1879.6,1714 1880.6,1711.2 1881.6,1708.4 1882.6,1705.7 1883.6,1703 1884.6,1700.3 1885.6,1697.6 1886.6,1694.9 1887.6,1692.3 1888.6,1689.6 1889.6,1687 1890.6,1684.4 1891.6,1681.9 1892.6,1679.3 1893.6,1676.7 1894.6,1674.2 1895.6,1671.6 1896.6,1669.1 1897.6,1666.6 1898.6,1664.1 1899.6,1661.6 1900.6,1659.1 1901.6,1656.6 1902.6,1654.1 1903.6,1651.7 1904.6,1649.2 1905.6,1646.7 1906.6,1644.3 1907.7,1641.8 1908.7,1639.4 1909.7,1637 1910.7,1634.5 1911.7,1632.1 1912.7,1629.7 1913.7,1627.2 1914.7,1624.8 1915.7,1622.4 1916.7,1620 1917.7,1617.5 1918.7,1615.1 1919.7,1612.7 1920.7,1610.3 1921.7,1607.8 1922.7,1605.4 1923.7,1603 1924.7,1600.6 1925.7,1598.2 1926.7,1595.8 1927.7,1593.4 1928.7,1591 1929.7,1588.6 1930.7,1586.3 1931.7,1583.9 1932.7,1581.6 1933.7,1579.2 1934.7,1576.9 1935.7,1574.6 1936.7,1572.3 1937.7,1570.1 1938.7,1567.8 1939.7,1565.6 1940.7,1563.4 1941.7,1561.2 1942.7,1559 1943.7,1556.9 1944.7,1554.8 1945.7,1552.7 1946.7,1550.6 1947.7,1548.5 1948.7,1546.5 1949.7,1544.5 1950.7,1542.5 1951.7,1540.5 1952.7,1538.6 1953.7,1536.6 1954.7,1534.7 1955.7,1532.8 1956.7,1530.9 1957.7,1529 1958.7,1527.1 1959.7,1525.2 1960.7,1523.4 1961.7,1521.6 1962.7,1519.7 1963.7,1517.9 1964.7,1516.1 1965.7,1514.3 1966.7,1512.5 1967.7,1510.7 1968.7,1509 1969.7,1507.2 1970.7,1505.5 1971.7,1503.8 1972.7,1502 1973.7,1500.3 1974.7,1498.6 1975.7,1497 1976.7,1495.3 1977.7,1493.6 1978.7,1492 1979.7,1490.3 1980.7,1488.7 1981.7,1487 1982.7,1485.4 1983.7,1483.8 1984.7,1482.2 1985.7,1480.6 1986.7,1479.1 1987.7,1477.5 1988.7,1475.9 1989.7,1474.4 1990.7,1472.9 1991.7,1471.3 1992.7,1469.8 1993.7,1468.3 1994.7,1466.8 1995.7,1465.3 1996.7,1463.8 1997.7,1462.3 1998.7,1460.8 1999.7,1459.3 2000.7,1457.9 2001.7,1456.4 2002.7,1454.9 2003.7,1453.4 2004.7,1451.9 2005.7,1450.5 2006.7,1449 2007.7,1447.5 2008.7,1446.1 2009.7,1444.6 2010.7,1443.2 2011.7,1441.7 2012.7,1440.3 2013.7,1438.9 2014.7,1437.5 2015.7,1436.1 2016.7,1434.7 2017.7,1433.3 2018.7,1432 2019.7,1430.6 2020.7,1429.3 2021.7,1428 2022.7,1426.7 2023.7,1425.5 2024.7,1424.3 2025.7,1423.1 2026.7,1421.9 2027.7,1420.7 2028.7,1419.6 2029.7,1418.5 2030.7,1417.4 2031.7,1416.4 2032.7,1415.4 2033.7,1414.4 2034.7,1413.4 2035.7,1412.5 2036.7,1411.6 2037.7,1410.7 2038.7,1409.9 2039.7,1409 2040.7,1408.2 2041.7,1407.4 2042.7,1406.6 2043.7,1405.8 2044.7,1405.1 2045.7,1404.3 2046.7,1403.5 2047.7,1402.8 2048.7,1402.1 2049.7,1401.3 2050.7,1400.6 2051.7,1399.9 2052.8,1399.2 2053.8,1398.5 2054.8,1397.8 2055.8,1397.1 2056.8,1396.4 2057.8,1395.8 2058.8,1395.1 2059.8,1394.5 2060.8,1393.9 2061.8,1393.3 2062.8,1392.7 2063.8,1392.1 2064.8,1391.6 2065.8,1391 2066.8,1390.5 2067.8,1390 2068.8,1389.5 2069.8,1389 2070.8,1388.6 2071.8,1388.1 2072.8,1387.7 2073.8,1387.3 2074.8,1387 2075.8,1386.6 2076.8,1386.3 2077.8,1386 2078.8,1385.7 2079.8,1385.4 2080.8,1385.1 2081.8,1384.9 2082.8,1384.7 2083.8,1384.5 2084.8,1384.3 2085.8,1384.1 2086.8,1383.9 2087.8,1383.8 2088.8,1383.6 2089.8,1383.5 2090.8,1383.4 2091.8,1383.2 2092.8,1383.1 2093.8,1383 2094.8,1382.9 2095.8,1382.8 2096.8,1382.7 2097.8,1382.6 2098.8,1382.5 2099.8,1382.4 2100.8,1382.4 2101.8,1382.3 2102.8,1382.2 2103.8,1382.2 2104.8,1382.1 2105.8,1382.1 2106.8,1382.1 2107.8,1382.1 2108.8,1382.1 2109.8,1382.1 2110.8,1382.1 2111.8,1382.2 2112.8,1382.3 2113.8,1382.4 2114.8,1382.5 2115.8,1382.6 2116.8,1382.8 2117.8,1382.9 2118.8,1383.1 2119.8,1383.3 2120.8,1383.6 2121.8,1383.8 2122.8,1384.1 2123.8,1384.4 2124.8,1384.7 2125.8,1385 2126.8,1385.3 2127.8,1385.7 2128.8,1386 2129.8,1386.4 2130.8,1386.8 2131.8,1387.2 2132.8,1387.6 2133.8,1388 2134.8,1388.4 2135.8,1388.8 2136.8,1389.2 2137.8,1389.7 2138.8,1390.1 2139.8,1390.6 2140.8,1391.1 2141.8,1391.6 2142.8,1392.1 2143.8,1392.6 2144.8,1393.2 2145.8,1393.8 2146.8,1394.4 2147.8,1395 2148.8,1395.7 2149.8,1396.4 2150.8,1397.1 2151.8,1397.9 2152.8,1398.7 2153.8,1399.5 2154.8,1400.3 2155.8,1401.1 2156.8,1402 2157.8,1402.9 2158.8,1403.8 2159.8,1404.7 2160.8,1405.7 2161.8,1406.6 2162.8,1407.6 2163.8,1408.6 2164.8,1409.6 2165.8,1410.6 2166.8,1411.6 2167.8,1412.6 2168.8,1413.7 2169.8,1414.7 2170.8,1415.8 2171.8,1416.8 2172.8,1417.9 2173.8,1418.9 2174.8,1420 2175.8,1421.1 2176.8,1422.1 2177.8,1423.2 2178.8,1424.3 2179.8,1425.4 2180.8,1426.5 2181.8,1427.6 2182.8,1428.7 2183.8,1429.9 2184.8,1431 2185.8,1432.2 2186.8,1433.3 2187.8,1434.5 2188.8,1435.7 2189.8,1436.9 2190.8,1438.2 2191.8,1439.4 2192.8,1440.7 2193.8,1441.9 2194.8,1443.2 2195.8,1444.5 2196.8,1445.8 2197.8,1447.1 2198.9,1448.4 2199.9,1449.8 2200.9,1451.1 2201.9,1452.5 2202.9,1453.8 2203.9,1455.2 2204.9,1456.6 2205.9,1458 2206.9,1459.4 2207.9,1460.8 2208.9,1462.2 2209.9,1463.7 2210.9,1465.1 2211.9,1466.5 2212.9,1468 2213.9,1469.5 2214.9,1471 2215.9,1472.5 2216.9,1474 2217.9,1475.5 2218.9,1477 2219.9,1478.5 2220.9,1480.1 2221.9,1481.7 2222.9,1483.3 2223.9,1484.8 2224.9,1486.5 2225.9,1488.1 2226.9,1489.7 2227.9,1491.4 2228.9,1493 2229.9,1494.7 2230.9,1496.4 2231.9,1498.1 2232.9,1499.8 2233.9,1501.5 2234.9,1503.2 2235.9,1505 2236.9,1506.8 2237.9,1508.5 2238.9,1510.3 2239.9,1512.1 2240.9,1514 2241.9,1515.8 2242.9,1517.7 2243.9,1519.5 2244.9,1521.4 2245.9,1523.4 2246.9,1525.3 2247.9,1527.2 2248.9,1529.2 2249.9,1531.2 2250.9,1533.2 2251.9,1535.2 2252.9,1537.2 2253.9,1539.3 2254.9,1541.4 2255.9,1543.4 2256.9,1545.5 2257.9,1547.7 2258.9,1549.8 2259.9,1552 2260.9,1554.1 2261.9,1556.3 2262.9,1558.5 2263.9,1560.7 2264.9,1563 2265.9,1565.2 2266.9,1567.4 2267.9,1569.7 2268.9,1572 2269.9,1574.2 2270.9,1576.5" fill="none" stroke="#000" stroke-width="2.5" stroke-linejoin="round"/>
</g>
<rect x="1813.6" y="1176.5" width="479.2" height="803.7" fill="none" stroke="#55505c" stroke-width="1.7"/>
<rect x="1813.6" y="1138.6" width="479.2" height="37.9" fill="#cce0fa" stroke="#2a3050" stroke-width="1.4"/>
<path d="M1813.6 1176.5H2292.8" stroke="#101828" stroke-width="2.3"/>
<text x="2053.2" y="1164.6" font-size="19.7" text-anchor="middle" fill="#0b1430" stroke="#0b1430" stroke-width="0.35">Acupuncture and Medicine</text>
<text x="1835" y="2005.5" font-size="18.1" text-anchor="middle" fill="#3e3b42">0</text>
<text x="1980.6" y="2005.5" font-size="18.1" text-anchor="middle" fill="#3e3b42">10</text>
<text x="2126.2" y="2005.5" font-size="18.1" text-anchor="middle" fill="#3e3b42">20</text>
<text x="2271.8" y="2005.5" font-size="18.1" text-anchor="middle" fill="#3e3b42">30</text>
<path d="M1835 1980.2v6M1980.6 1980.2v6M2126.2 1980.2v6M2271.8 1980.2v6" stroke="#2e2e2e" stroke-width="2.2"/>
<text x="1807.1" y="2033.5" font-size="23.8" text-anchor="middle" fill="#111" stroke="#111" stroke-width="0.4">Dose</text>
<text x="2380.5" y="1182.1" font-size="42.1" text-anchor="start" fill="#000" transform="rotate(90 2380.5 1182.1)" textLength="258" lengthAdjust="spacingAndGlyphs" stroke="#000" stroke-width="0.7">Retaining time</text>
<path d="M2333.7 1577H2362" stroke="#000" stroke-width="2.8" stroke-dasharray="8.6 10"/>
<path d="M2333.7 1615.1H2364.1" stroke="#000" stroke-width="2.8"/>
<text x="2380.2" y="1584.3" font-size="19.7" text-anchor="start" fill="#111" stroke="#111" stroke-width="0.35">95% Interval</text>
<text x="2380.2" y="1622.4" font-size="19.7" text-anchor="start" fill="#111" stroke="#111" stroke-width="0.35">MBNMA</text>
</svg>
</body></html>
